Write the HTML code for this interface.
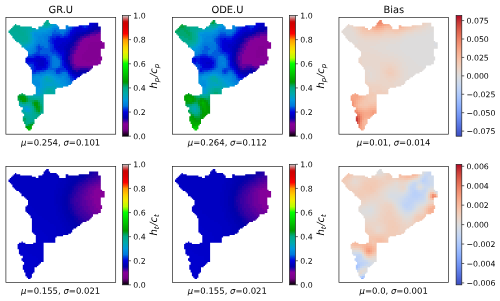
<!DOCTYPE html><html><head><meta charset="utf-8"><title>fig</title><style>html,body{margin:0;padding:0;background:#fff}svg{display:block}.m rect{height:2px}</style></head><body><svg width="500" height="301" viewBox="0 0 500 301" text-rendering="geometricPrecision"><defs><linearGradient id="gs" x1="0" y1="0" x2="0" y2="1"><stop offset="0" stop-color="#cccccc"/><stop offset="0.0125" stop-color="#cc9c9c"/><stop offset="0.025" stop-color="#cc6c6c"/><stop offset="0.0375" stop-color="#cc3c3c"/><stop offset="0.05" stop-color="#cc0c0c"/><stop offset="0.0625" stop-color="#cf0000"/><stop offset="0.075" stop-color="#d40000"/><stop offset="0.0875" stop-color="#d80000"/><stop offset="0.1" stop-color="#dc0000"/><stop offset="0.1125" stop-color="#e40000"/><stop offset="0.125" stop-color="#ec0000"/><stop offset="0.1375" stop-color="#f60000"/><stop offset="0.15" stop-color="#fe0000"/><stop offset="0.1625" stop-color="#ff2100"/><stop offset="0.175" stop-color="#ff4500"/><stop offset="0.1875" stop-color="#ff6900"/><stop offset="0.2" stop-color="#ff9900"/><stop offset="0.2125" stop-color="#ffa500"/><stop offset="0.225" stop-color="#ffb100"/><stop offset="0.2375" stop-color="#ffbd00"/><stop offset="0.25" stop-color="#ffc900"/><stop offset="0.2625" stop-color="#fbd500"/><stop offset="0.275" stop-color="#f7dd00"/><stop offset="0.2875" stop-color="#f3e500"/><stop offset="0.3" stop-color="#efed00"/><stop offset="0.3125" stop-color="#e4f100"/><stop offset="0.325" stop-color="#d4f700"/><stop offset="0.3375" stop-color="#c8fb00"/><stop offset="0.35" stop-color="#bcff00"/><stop offset="0.3625" stop-color="#93ff00"/><stop offset="0.375" stop-color="#67ff00"/><stop offset="0.3875" stop-color="#2cff00"/><stop offset="0.4" stop-color="#00ff00"/><stop offset="0.4125" stop-color="#00f700"/><stop offset="0.425" stop-color="#00ef00"/><stop offset="0.4375" stop-color="#00e700"/><stop offset="0.45" stop-color="#00dc00"/><stop offset="0.4625" stop-color="#00d400"/><stop offset="0.475" stop-color="#00cc00"/><stop offset="0.4875" stop-color="#00c400"/><stop offset="0.5" stop-color="#00bc00"/><stop offset="0.5125" stop-color="#00b200"/><stop offset="0.525" stop-color="#00aa00"/><stop offset="0.5375" stop-color="#00a200"/><stop offset="0.55" stop-color="#009a00"/><stop offset="0.5625" stop-color="#009d1d"/><stop offset="0.575" stop-color="#00a248"/><stop offset="0.5875" stop-color="#00a668"/><stop offset="0.6" stop-color="#00aa88"/><stop offset="0.6125" stop-color="#00aa90"/><stop offset="0.625" stop-color="#00aa98"/><stop offset="0.6375" stop-color="#00aaa3"/><stop offset="0.65" stop-color="#00aaab"/><stop offset="0.6625" stop-color="#00a6b7"/><stop offset="0.675" stop-color="#00a2c3"/><stop offset="0.6875" stop-color="#009ecf"/><stop offset="0.7" stop-color="#0098dd"/><stop offset="0.7125" stop-color="#0090dd"/><stop offset="0.725" stop-color="#0088dd"/><stop offset="0.7375" stop-color="#0080dd"/><stop offset="0.75" stop-color="#0078dd"/><stop offset="0.7625" stop-color="#0054dd"/><stop offset="0.775" stop-color="#0038dd"/><stop offset="0.7875" stop-color="#001cdd"/><stop offset="0.8" stop-color="#0000dd"/><stop offset="0.8125" stop-color="#0000d1"/><stop offset="0.825" stop-color="#0000c1"/><stop offset="0.8375" stop-color="#0000b5"/><stop offset="0.85" stop-color="#0300aa"/><stop offset="0.8625" stop-color="#2300a6"/><stop offset="0.875" stop-color="#4300a2"/><stop offset="0.8875" stop-color="#6d009c"/><stop offset="0.9" stop-color="#870098"/><stop offset="0.9125" stop-color="#830094"/><stop offset="0.925" stop-color="#7f0090"/><stop offset="0.9375" stop-color="#7b008c"/><stop offset="0.95" stop-color="#700080"/><stop offset="0.9625" stop-color="#540060"/><stop offset="0.975" stop-color="#380040"/><stop offset="0.9875" stop-color="#1c0020"/><stop offset="1" stop-color="#000000"/></linearGradient><linearGradient id="gc" x1="0" y1="0" x2="0" y2="1"><stop offset="0" stop-color="#b40426"/><stop offset="0.03125" stop-color="#be242e"/><stop offset="0.0625" stop-color="#ca3b37"/><stop offset="0.09375" stop-color="#d44e41"/><stop offset="0.125" stop-color="#dd5f4b"/><stop offset="0.15625" stop-color="#e46e56"/><stop offset="0.1875" stop-color="#eb7d62"/><stop offset="0.21875" stop-color="#f08b6e"/><stop offset="0.25" stop-color="#f4987a"/><stop offset="0.28125" stop-color="#f6a586"/><stop offset="0.3125" stop-color="#f7b093"/><stop offset="0.34375" stop-color="#f7ba9f"/><stop offset="0.375" stop-color="#f5c4ac"/><stop offset="0.40625" stop-color="#f1ccb8"/><stop offset="0.4375" stop-color="#ecd3c5"/><stop offset="0.46875" stop-color="#e5d8d1"/><stop offset="0.5" stop-color="#dddcdc"/><stop offset="0.53125" stop-color="#d5dbe5"/><stop offset="0.5625" stop-color="#ccd9ed"/><stop offset="0.59375" stop-color="#c3d5f4"/><stop offset="0.625" stop-color="#b9d0f9"/><stop offset="0.65625" stop-color="#aec9fc"/><stop offset="0.6875" stop-color="#a3c2fe"/><stop offset="0.71875" stop-color="#98b9ff"/><stop offset="0.75" stop-color="#8db0fe"/><stop offset="0.78125" stop-color="#82a6fb"/><stop offset="0.8125" stop-color="#779af7"/><stop offset="0.84375" stop-color="#6c8ff1"/><stop offset="0.875" stop-color="#6282ea"/><stop offset="0.90625" stop-color="#5875e1"/><stop offset="0.9375" stop-color="#4e68d8"/><stop offset="0.96875" stop-color="#445acc"/><stop offset="1" stop-color="#3b4cc0"/></linearGradient><clipPath id="mp"><path d="M40.3 2.6h2.6v1.3h-2.6zM39 3.9h3.9v1.3h-3.9zM37.7 5.2h6.5v1.3h-6.5zM83.2 5.2h9.1v1.3h-9.1zM9.1 6.5h1.3v1.3h-1.3zM37.7 6.5h13v1.3h-13zM83.2 6.5h9.1v1.3h-9.1zM7.8 7.8h6.5v1.3h-6.5zM36.4 7.8h15.6v1.3h-15.6zM59.8 7.8h2.6v1.3h-2.6zM72.8 7.8h19.5v1.3h-19.5zM6.5 9.1h19.5v1.3h-19.5zM32.5 9.1h20.8v1.3h-20.8zM59.8 9.1h35.1v1.3h-35.1zM5.2 10.4h24.7v1.3h-24.7zM32.5 10.4h20.8v1.3h-20.8zM59.8 10.4h35.1v1.3h-35.1zM3.9 11.7h91v1.3h-91zM2.6 13h92.3v1.3h-92.3zM2.6 14.3h92.3v1.3h-92.3zM3.9 15.6h91v1.3h-91zM5.2 16.9h89.7v1.3h-89.7zM6.5 18.2h88.4v1.3h-88.4zM6.5 19.5h88.4v1.3h-88.4zM7.8 20.8h87.1v1.3h-87.1zM9.1 22.1h85.8v1.3h-85.8zM10.4 23.4h85.8v1.3h-85.8zM13 24.7h85.8v1.3h-85.8zM14.3 26h84.5v1.3h-84.5zM15.6 27.3h83.2v1.3h-83.2zM15.6 28.6h83.2v1.3h-83.2zM18.2 29.9h80.6v1.3h-80.6zM19.5 31.2h75.4v1.3h-75.4zM20.8 32.5h74.1v1.3h-74.1zM22.1 33.8h72.8v1.3h-72.8zM22.1 35.1h72.8v1.3h-72.8zM22.1 36.4h72.8v1.3h-72.8zM22.1 37.7h72.8v1.3h-72.8zM20.8 39h75.4v1.3h-75.4zM19.5 40.3h76.7v1.3h-76.7zM19.5 41.6h76.7v1.3h-76.7zM19.5 42.9h75.4v1.3h-75.4zM19.5 44.2h75.4v1.3h-75.4zM20.8 45.5h74.1v1.3h-74.1zM22.1 46.8h70.2v1.3h-70.2zM23.4 48.1h63.7v1.3h-63.7zM24.7 49.4h62.4v1.3h-62.4zM24.7 50.7h61.1v1.3h-61.1zM26 52h58.5v1.3h-58.5zM26 53.3h57.2v1.3h-57.2zM26 54.6h54.6v1.3h-54.6zM26 55.9h50.7v1.3h-50.7zM26 57.2h49.4v1.3h-49.4zM26 58.5h48.1v1.3h-48.1zM26 59.8h45.5v1.3h-45.5zM26 61.1h44.2v1.3h-44.2zM26 62.4h41.6v1.3h-41.6zM26 63.7h40.3v1.3h-40.3zM26 65h40.3v1.3h-40.3zM27.3 66.3h37.7v1.3h-37.7zM28.6 67.6h33.8v1.3h-33.8zM29.9 68.9h27.3v1.3h-27.3zM29.9 70.2h20.8v1.3h-20.8zM29.9 71.5h19.5v1.3h-19.5zM29.9 72.8h19.5v1.3h-19.5zM29.9 74.1h19.5v1.3h-19.5zM15.6 75.4h1.3v1.3h-1.3zM29.9 75.4h19.5v1.3h-19.5zM13 76.7h6.5v1.3h-6.5zM27.3 76.7h10.4v1.3h-10.4zM11.7 78h26v1.3h-26zM11.7 79.3h26v1.3h-26zM11.7 80.6h26v1.3h-26zM11.7 81.9h26v1.3h-26zM13 83.2h24.7v1.3h-24.7zM13 84.5h24.7v1.3h-24.7zM13 85.8h24.7v1.3h-24.7zM13 87.1h24.7v1.3h-24.7zM14.3 88.4h23.4v1.3h-23.4zM16.9 89.7h20.8v1.3h-20.8zM16.9 91h20.8v1.3h-20.8zM15.6 92.3h22.1v1.3h-22.1zM15.6 93.6h22.1v1.3h-22.1zM16.9 94.9h20.8v1.3h-20.8zM18.2 96.2h16.9v1.3h-16.9zM18.2 97.5h15.6v1.3h-15.6zM16.9 98.8h15.6v1.3h-15.6zM16.9 100.1h14.3v1.3h-14.3zM16.9 101.4h11.7v1.3h-11.7zM16.9 102.7h11.7v1.3h-11.7zM18.2 104h10.4v1.3h-10.4zM18.2 105.3h10.4v1.3h-10.4zM19.5 106.6h7.8v1.3h-7.8zM19.5 107.9h6.5v1.3h-6.5zM19.5 109.2h6.5v1.3h-6.5zM20.8 110.5h5.2v1.3h-5.2zM22.1 111.8h2.6v1.3h-2.6z"/></clipPath><filter id="bl" x="-5%" y="-5%" width="110%" height="110%" color-interpolation-filters="sRGB"><feGaussianBlur stdDeviation="0.7"/></filter></defs><rect width="500" height="301" fill="#fff"/><g transform="translate(5.9 17.5) scale(1 1)" clip-path="url(#mp)"><g transform="scale(1 1) translate(-5.9 -17.5)" filter="url(#bl)" shape-rendering="crispEdges" class="m"><g transform="translate(0 16)"><rect x="46" width="2" fill="#00aa8b"/></g><g transform="translate(0 18)"><rect x="44" width="4" fill="#00aa8b"/><rect x="48" width="2" fill="#00aa93"/></g><g transform="translate(0 20)"><rect x="14" width="2" fill="#00a773"/><rect x="42" width="2" fill="#00aa93"/><rect x="44" width="4" fill="#00aa8b"/><rect x="48" width="2" fill="#00aa93"/><rect x="50" width="2" fill="#00aaa0"/><rect x="88" width="2" fill="#0013dd"/><rect x="90" width="4" fill="#0000d9"/><rect x="94" width="4" fill="#0000d1"/><rect x="98" width="2" fill="#0000c5"/></g><g transform="translate(0 22)"><rect x="12" width="2" fill="#00a773"/><rect x="14" width="4" fill="#00aa8b"/><rect x="42" width="2" fill="#00aa98"/><rect x="44" width="2" fill="#00aa93"/><rect x="46" width="2" fill="#00aa8b"/><rect x="48" width="2" fill="#00aa98"/><rect x="50" width="2" fill="#00aaa8"/><rect x="52" width="2" fill="#00a4bb"/><rect x="54" width="2" fill="#00a0c7"/><rect x="56" width="2" fill="#009ecf"/><rect x="64" width="4" fill="#008ddd"/><rect x="68" width="2" fill="#0085dd"/><rect x="78" width="8" fill="#002fdd"/><rect x="88" width="2" fill="#0013dd"/><rect x="90" width="2" fill="#0000d9"/><rect x="92" width="2" fill="#0000d1"/><rect x="94" width="4" fill="#0000c5"/><rect x="98" width="2" fill="#0000b9"/></g><g transform="translate(0 24)"><rect x="12" width="6" fill="#00aa8b"/><rect x="18" width="6" fill="#00aa93"/><rect x="24" width="6" fill="#00aa98"/><rect x="30" width="2" fill="#00aaa0"/><rect x="36" width="6" fill="#00aaa8"/><rect x="42" width="4" fill="#00aaa0"/><rect x="46" width="2" fill="#00aa98"/><rect x="48" width="2" fill="#00aaa8"/><rect x="50" width="2" fill="#00a4bb"/><rect x="52" width="2" fill="#009ecf"/><rect x="54" width="2" fill="#009adb"/><rect x="56" width="4" fill="#0092dd"/><rect x="64" width="2" fill="#008ddd"/><rect x="66" width="2" fill="#0085dd"/><rect x="68" width="2" fill="#007ddd"/><rect x="70" width="2" fill="#0078dd"/><rect x="72" width="2" fill="#0041dd"/><rect x="74" width="4" fill="#002fdd"/><rect x="78" width="4" fill="#0013dd"/><rect x="82" width="4" fill="#002fdd"/><rect x="86" width="2" fill="#0013dd"/><rect x="88" width="2" fill="#0000d9"/><rect x="90" width="2" fill="#0000d1"/><rect x="92" width="2" fill="#0000c5"/><rect x="94" width="6" fill="#0000b9"/><rect x="100" width="2" fill="#0000b1"/></g><g transform="translate(0 26)"><rect x="10" width="8" fill="#00aa8b"/><rect x="18" width="4" fill="#00aa93"/><rect x="22" width="4" fill="#00aa98"/><rect x="26" width="6" fill="#00aaa0"/><rect x="32" width="2" fill="#00aaa8"/><rect x="34" width="2" fill="#00a8af"/><rect x="38" width="2" fill="#00a8af"/><rect x="40" width="4" fill="#00a4bb"/><rect x="44" width="4" fill="#00a8af"/><rect x="48" width="2" fill="#00a4bb"/><rect x="50" width="2" fill="#009ecf"/><rect x="52" width="2" fill="#0092dd"/><rect x="54" width="4" fill="#008ddd"/><rect x="58" width="8" fill="#0085dd"/><rect x="66" width="2" fill="#007ddd"/><rect x="68" width="2" fill="#0078dd"/><rect x="70" width="2" fill="#005ddd"/><rect x="72" width="2" fill="#002fdd"/><rect x="74" width="2" fill="#0013dd"/><rect x="76" width="6" fill="#0000d9"/><rect x="82" width="2" fill="#0013dd"/><rect x="84" width="2" fill="#002fdd"/><rect x="86" width="2" fill="#0013dd"/><rect x="88" width="2" fill="#0000d1"/><rect x="90" width="2" fill="#0000c5"/><rect x="92" width="4" fill="#0000b9"/><rect x="96" width="4" fill="#0000b1"/><rect x="100" width="4" fill="#0d00a8"/></g><g transform="translate(0 28)"><rect x="8" width="12" fill="#00aa93"/><rect x="20" width="4" fill="#00aa98"/><rect x="24" width="4" fill="#00aaa0"/><rect x="28" width="4" fill="#00aaa8"/><rect x="32" width="2" fill="#00a8af"/><rect x="34" width="2" fill="#00a4bb"/><rect x="36" width="6" fill="#00a0c7"/><rect x="42" width="6" fill="#009ecf"/><rect x="48" width="2" fill="#009adb"/><rect x="50" width="2" fill="#0092dd"/><rect x="52" width="2" fill="#0085dd"/><rect x="54" width="12" fill="#007ddd"/><rect x="66" width="2" fill="#0078dd"/><rect x="68" width="2" fill="#005ddd"/><rect x="70" width="2" fill="#0041dd"/><rect x="72" width="2" fill="#0013dd"/><rect x="74" width="2" fill="#0000d9"/><rect x="76" width="6" fill="#0000d1"/><rect x="82" width="6" fill="#0000d9"/><rect x="88" width="2" fill="#0000c5"/><rect x="90" width="2" fill="#0000b9"/><rect x="92" width="4" fill="#0000b1"/><rect x="96" width="6" fill="#0d00a8"/><rect x="102" width="2" fill="#2d00a4"/></g><g transform="translate(0 30)"><rect x="6" width="16" fill="#00aa93"/><rect x="22" width="4" fill="#00aa98"/><rect x="26" width="2" fill="#00aaa0"/><rect x="28" width="2" fill="#00aaa8"/><rect x="30" width="2" fill="#00a8af"/><rect x="32" width="2" fill="#00a0c7"/><rect x="34" width="4" fill="#009ecf"/><rect x="38" width="8" fill="#009adb"/><rect x="46" width="2" fill="#0092dd"/><rect x="48" width="2" fill="#008ddd"/><rect x="50" width="2" fill="#0085dd"/><rect x="52" width="2" fill="#0078dd"/><rect x="54" width="2" fill="#005ddd"/><rect x="56" width="4" fill="#0078dd"/><rect x="60" width="4" fill="#007ddd"/><rect x="64" width="2" fill="#0078dd"/><rect x="66" width="2" fill="#005ddd"/><rect x="68" width="2" fill="#0041dd"/><rect x="70" width="2" fill="#0013dd"/><rect x="72" width="2" fill="#0000d9"/><rect x="74" width="2" fill="#0000d1"/><rect x="76" width="10" fill="#0000c5"/><rect x="86" width="2" fill="#0000b9"/><rect x="88" width="2" fill="#0000b1"/><rect x="90" width="4" fill="#0d00a8"/><rect x="94" width="6" fill="#2d00a4"/><rect x="100" width="4" fill="#4300a2"/></g><g transform="translate(0 32)"><rect x="6" width="4" fill="#00aa93"/><rect x="10" width="8" fill="#00aa98"/><rect x="18" width="6" fill="#00aa93"/><rect x="24" width="2" fill="#00aa98"/><rect x="26" width="2" fill="#00aaa0"/><rect x="28" width="2" fill="#00aaa8"/><rect x="30" width="2" fill="#00a0c7"/><rect x="32" width="2" fill="#009adb"/><rect x="34" width="8" fill="#0092dd"/><rect x="42" width="6" fill="#008ddd"/><rect x="48" width="2" fill="#0085dd"/><rect x="50" width="2" fill="#007ddd"/><rect x="52" width="8" fill="#005ddd"/><rect x="60" width="4" fill="#0078dd"/><rect x="64" width="2" fill="#005ddd"/><rect x="66" width="2" fill="#0041dd"/><rect x="68" width="2" fill="#002fdd"/><rect x="70" width="2" fill="#0000d9"/><rect x="72" width="2" fill="#0000d1"/><rect x="74" width="2" fill="#0000c5"/><rect x="76" width="6" fill="#0000b9"/><rect x="82" width="4" fill="#0000b1"/><rect x="86" width="4" fill="#0d00a8"/><rect x="90" width="2" fill="#2d00a4"/><rect x="92" width="6" fill="#4300a2"/><rect x="98" width="6" fill="#63009e"/></g><g transform="translate(0 34)"><rect x="8" width="12" fill="#00aa98"/><rect x="20" width="4" fill="#00aa93"/><rect x="24" width="2" fill="#00aa98"/><rect x="26" width="2" fill="#00aaa0"/><rect x="28" width="2" fill="#00aaa8"/><rect x="30" width="2" fill="#00a4bb"/><rect x="32" width="2" fill="#009adb"/><rect x="34" width="8" fill="#008ddd"/><rect x="42" width="4" fill="#0085dd"/><rect x="46" width="4" fill="#007ddd"/><rect x="50" width="2" fill="#0078dd"/><rect x="52" width="10" fill="#0041dd"/><rect x="62" width="2" fill="#005ddd"/><rect x="64" width="2" fill="#0041dd"/><rect x="66" width="2" fill="#002fdd"/><rect x="68" width="2" fill="#0013dd"/><rect x="70" width="2" fill="#0000d1"/><rect x="72" width="2" fill="#0000c5"/><rect x="74" width="2" fill="#0000b9"/><rect x="76" width="4" fill="#0000b1"/><rect x="80" width="4" fill="#0d00a8"/><rect x="84" width="4" fill="#2d00a4"/><rect x="88" width="2" fill="#4300a2"/><rect x="90" width="6" fill="#63009e"/><rect x="96" width="6" fill="#83009a"/><rect x="102" width="2" fill="#63009e"/></g><g transform="translate(0 36)"><rect x="10" width="18" fill="#00aa98"/><rect x="28" width="2" fill="#00aaa8"/><rect x="30" width="2" fill="#00a4bb"/><rect x="32" width="2" fill="#009adb"/><rect x="34" width="2" fill="#0092dd"/><rect x="36" width="2" fill="#008ddd"/><rect x="38" width="6" fill="#0085dd"/><rect x="44" width="4" fill="#007ddd"/><rect x="48" width="2" fill="#005ddd"/><rect x="50" width="2" fill="#0041dd"/><rect x="52" width="4" fill="#002fdd"/><rect x="56" width="4" fill="#0013dd"/><rect x="60" width="4" fill="#002fdd"/><rect x="64" width="4" fill="#0013dd"/><rect x="68" width="2" fill="#0000d9"/><rect x="70" width="2" fill="#0000c5"/><rect x="72" width="2" fill="#0000b9"/><rect x="74" width="2" fill="#0000b1"/><rect x="76" width="4" fill="#0d00a8"/><rect x="80" width="2" fill="#2d00a4"/><rect x="82" width="4" fill="#4300a2"/><rect x="86" width="4" fill="#63009e"/><rect x="90" width="14" fill="#83009a"/></g><g transform="translate(0 38)"><rect x="10" width="8" fill="#00aaa0"/><rect x="18" width="10" fill="#00aa98"/><rect x="28" width="2" fill="#00aaa8"/><rect x="30" width="2" fill="#00a4bb"/><rect x="32" width="2" fill="#009ecf"/><rect x="34" width="2" fill="#0092dd"/><rect x="36" width="2" fill="#008ddd"/><rect x="38" width="6" fill="#0085dd"/><rect x="44" width="2" fill="#007ddd"/><rect x="46" width="2" fill="#0078dd"/><rect x="48" width="2" fill="#005ddd"/><rect x="50" width="2" fill="#002fdd"/><rect x="52" width="4" fill="#0013dd"/><rect x="56" width="10" fill="#0000d9"/><rect x="66" width="4" fill="#0000d1"/><rect x="70" width="2" fill="#0000c5"/><rect x="72" width="2" fill="#0000b9"/><rect x="74" width="2" fill="#0000b1"/><rect x="76" width="2" fill="#0d00a8"/><rect x="78" width="2" fill="#2d00a4"/><rect x="80" width="2" fill="#4300a2"/><rect x="82" width="2" fill="#63009e"/><rect x="84" width="8" fill="#83009a"/><rect x="92" width="10" fill="#860097"/><rect x="102" width="2" fill="#83009a"/></g><g transform="translate(0 40)"><rect x="12" width="10" fill="#00aaa0"/><rect x="22" width="2" fill="#00aa98"/><rect x="24" width="4" fill="#00aaa0"/><rect x="28" width="2" fill="#00a8af"/><rect x="30" width="2" fill="#00a0c7"/><rect x="32" width="2" fill="#009adb"/><rect x="34" width="2" fill="#0092dd"/><rect x="36" width="4" fill="#0085dd"/><rect x="40" width="2" fill="#007ddd"/><rect x="42" width="2" fill="#0085dd"/><rect x="44" width="2" fill="#007ddd"/><rect x="46" width="2" fill="#0078dd"/><rect x="48" width="2" fill="#0041dd"/><rect x="50" width="2" fill="#002fdd"/><rect x="52" width="2" fill="#0013dd"/><rect x="54" width="2" fill="#0000d9"/><rect x="56" width="10" fill="#0000d1"/><rect x="66" width="4" fill="#0000c5"/><rect x="70" width="2" fill="#0000b9"/><rect x="72" width="2" fill="#0000b1"/><rect x="74" width="2" fill="#0d00a8"/><rect x="76" width="2" fill="#2d00a4"/><rect x="78" width="2" fill="#4300a2"/><rect x="80" width="2" fill="#63009e"/><rect x="82" width="4" fill="#83009a"/><rect x="86" width="20" fill="#860097"/><rect x="106" width="2" fill="#83009a"/></g><g transform="translate(0 42)"><rect x="14" width="12" fill="#00aaa8"/><rect x="26" width="2" fill="#00a8af"/><rect x="28" width="2" fill="#00a4bb"/><rect x="30" width="2" fill="#009ecf"/><rect x="32" width="2" fill="#009adb"/><rect x="34" width="2" fill="#008ddd"/><rect x="36" width="2" fill="#0085dd"/><rect x="38" width="8" fill="#007ddd"/><rect x="46" width="2" fill="#0078dd"/><rect x="48" width="2" fill="#005ddd"/><rect x="50" width="2" fill="#002fdd"/><rect x="52" width="2" fill="#0013dd"/><rect x="54" width="2" fill="#0000d9"/><rect x="56" width="6" fill="#0000d1"/><rect x="62" width="6" fill="#0000c5"/><rect x="68" width="2" fill="#0000b9"/><rect x="70" width="2" fill="#0000b1"/><rect x="72" width="2" fill="#0d00a8"/><rect x="74" width="2" fill="#2d00a4"/><rect x="76" width="2" fill="#4300a2"/><rect x="78" width="2" fill="#63009e"/><rect x="80" width="4" fill="#83009a"/><rect x="84" width="6" fill="#860097"/><rect x="90" width="10" fill="#820093"/><rect x="100" width="8" fill="#860097"/></g><g transform="translate(0 44)"><rect x="18" width="6" fill="#00a8af"/><rect x="24" width="2" fill="#00a4bb"/><rect x="26" width="2" fill="#00a0c7"/><rect x="28" width="2" fill="#009ecf"/><rect x="30" width="2" fill="#009adb"/><rect x="32" width="2" fill="#0092dd"/><rect x="34" width="2" fill="#0085dd"/><rect x="36" width="2" fill="#0078dd"/><rect x="38" width="2" fill="#005ddd"/><rect x="40" width="8" fill="#0078dd"/><rect x="48" width="2" fill="#005ddd"/><rect x="50" width="2" fill="#0041dd"/><rect x="52" width="2" fill="#002fdd"/><rect x="54" width="2" fill="#0000d9"/><rect x="56" width="4" fill="#0000d1"/><rect x="60" width="6" fill="#0000c5"/><rect x="66" width="2" fill="#0000b9"/><rect x="68" width="2" fill="#0000b1"/><rect x="70" width="4" fill="#0d00a8"/><rect x="74" width="2" fill="#2d00a4"/><rect x="76" width="2" fill="#4300a2"/><rect x="78" width="2" fill="#63009e"/><rect x="80" width="2" fill="#83009a"/><rect x="82" width="6" fill="#860097"/><rect x="88" width="14" fill="#820093"/><rect x="102" width="6" fill="#860097"/></g><g transform="translate(0 46)"><rect x="20" width="2" fill="#00a4bb"/><rect x="22" width="4" fill="#00a0c7"/><rect x="26" width="2" fill="#009ecf"/><rect x="28" width="2" fill="#009adb"/><rect x="30" width="2" fill="#0092dd"/><rect x="32" width="2" fill="#008ddd"/><rect x="34" width="2" fill="#007ddd"/><rect x="36" width="2" fill="#005ddd"/><rect x="38" width="2" fill="#0041dd"/><rect x="40" width="4" fill="#005ddd"/><rect x="44" width="4" fill="#0078dd"/><rect x="48" width="2" fill="#005ddd"/><rect x="50" width="2" fill="#0041dd"/><rect x="52" width="2" fill="#002fdd"/><rect x="54" width="2" fill="#0000d9"/><rect x="56" width="2" fill="#0000d1"/><rect x="58" width="6" fill="#0000c5"/><rect x="64" width="4" fill="#0000b9"/><rect x="68" width="2" fill="#0000b1"/><rect x="70" width="2" fill="#0d00a8"/><rect x="72" width="2" fill="#2d00a4"/><rect x="74" width="2" fill="#4300a2"/><rect x="76" width="2" fill="#63009e"/><rect x="78" width="4" fill="#83009a"/><rect x="82" width="6" fill="#860097"/><rect x="88" width="14" fill="#820093"/><rect x="102" width="6" fill="#860097"/></g><g transform="translate(0 48)"><rect x="20" width="4" fill="#009ecf"/><rect x="24" width="2" fill="#009adb"/><rect x="26" width="4" fill="#0092dd"/><rect x="30" width="2" fill="#008ddd"/><rect x="32" width="2" fill="#0085dd"/><rect x="34" width="2" fill="#0078dd"/><rect x="36" width="2" fill="#005ddd"/><rect x="38" width="4" fill="#0041dd"/><rect x="42" width="8" fill="#005ddd"/><rect x="50" width="2" fill="#0041dd"/><rect x="52" width="2" fill="#002fdd"/><rect x="54" width="2" fill="#0013dd"/><rect x="56" width="4" fill="#0000d1"/><rect x="60" width="4" fill="#0000c5"/><rect x="64" width="2" fill="#0000b9"/><rect x="66" width="4" fill="#0000b1"/><rect x="70" width="4" fill="#2d00a4"/><rect x="74" width="2" fill="#4300a2"/><rect x="76" width="2" fill="#63009e"/><rect x="78" width="2" fill="#83009a"/><rect x="80" width="8" fill="#860097"/><rect x="88" width="14" fill="#820093"/><rect x="102" width="6" fill="#860097"/></g><g transform="translate(0 50)"><rect x="24" width="2" fill="#0092dd"/><rect x="26" width="4" fill="#008ddd"/><rect x="30" width="2" fill="#0085dd"/><rect x="32" width="2" fill="#007ddd"/><rect x="34" width="2" fill="#0078dd"/><rect x="36" width="2" fill="#005ddd"/><rect x="38" width="2" fill="#0041dd"/><rect x="40" width="10" fill="#005ddd"/><rect x="50" width="2" fill="#0041dd"/><rect x="52" width="4" fill="#002fdd"/><rect x="56" width="2" fill="#0013dd"/><rect x="58" width="2" fill="#0000d9"/><rect x="60" width="4" fill="#0000d1"/><rect x="64" width="2" fill="#0000c5"/><rect x="66" width="2" fill="#0000b1"/><rect x="68" width="2" fill="#0d00a8"/><rect x="70" width="2" fill="#2d00a4"/><rect x="72" width="2" fill="#4300a2"/><rect x="74" width="2" fill="#63009e"/><rect x="76" width="4" fill="#83009a"/><rect x="80" width="6" fill="#860097"/><rect x="86" width="16" fill="#820093"/><rect x="102" width="4" fill="#860097"/></g><g transform="translate(0 52)"><rect x="26" width="6" fill="#0085dd"/><rect x="32" width="2" fill="#0078dd"/><rect x="34" width="2" fill="#005ddd"/><rect x="36" width="4" fill="#0041dd"/><rect x="40" width="12" fill="#005ddd"/><rect x="52" width="4" fill="#0041dd"/><rect x="56" width="2" fill="#002fdd"/><rect x="58" width="2" fill="#0013dd"/><rect x="60" width="4" fill="#0000d9"/><rect x="64" width="2" fill="#0000c5"/><rect x="66" width="2" fill="#0000b9"/><rect x="68" width="2" fill="#0d00a8"/><rect x="70" width="2" fill="#2d00a4"/><rect x="72" width="2" fill="#4300a2"/><rect x="74" width="2" fill="#63009e"/><rect x="76" width="2" fill="#83009a"/><rect x="78" width="6" fill="#860097"/><rect x="84" width="18" fill="#820093"/></g><g transform="translate(0 54)"><rect x="26" width="2" fill="#0078dd"/><rect x="28" width="4" fill="#005ddd"/><rect x="32" width="2" fill="#0041dd"/><rect x="34" width="6" fill="#002fdd"/><rect x="40" width="8" fill="#0041dd"/><rect x="48" width="8" fill="#005ddd"/><rect x="56" width="2" fill="#0041dd"/><rect x="58" width="2" fill="#002fdd"/><rect x="60" width="2" fill="#0013dd"/><rect x="62" width="2" fill="#0000d9"/><rect x="64" width="2" fill="#0000c5"/><rect x="66" width="2" fill="#0000b1"/><rect x="68" width="2" fill="#0d00a8"/><rect x="70" width="2" fill="#4300a2"/><rect x="72" width="2" fill="#63009e"/><rect x="74" width="4" fill="#83009a"/><rect x="78" width="4" fill="#860097"/><rect x="82" width="20" fill="#820093"/><rect x="102" width="2" fill="#860097"/></g><g transform="translate(0 56)"><rect x="24" width="2" fill="#0041dd"/><rect x="26" width="8" fill="#002fdd"/><rect x="34" width="2" fill="#0013dd"/><rect x="36" width="4" fill="#0000d9"/><rect x="40" width="4" fill="#0013dd"/><rect x="44" width="4" fill="#002fdd"/><rect x="48" width="2" fill="#0041dd"/><rect x="50" width="2" fill="#005ddd"/><rect x="52" width="4" fill="#0078dd"/><rect x="56" width="2" fill="#005ddd"/><rect x="58" width="2" fill="#0041dd"/><rect x="60" width="2" fill="#002fdd"/><rect x="62" width="2" fill="#0000d9"/><rect x="64" width="2" fill="#0000c5"/><rect x="66" width="2" fill="#0000b1"/><rect x="68" width="2" fill="#2d00a4"/><rect x="70" width="2" fill="#4300a2"/><rect x="72" width="2" fill="#63009e"/><rect x="74" width="2" fill="#83009a"/><rect x="76" width="6" fill="#860097"/><rect x="82" width="18" fill="#820093"/><rect x="100" width="4" fill="#860097"/></g><g transform="translate(0 58)"><rect x="22" width="2" fill="#0041dd"/><rect x="24" width="2" fill="#002fdd"/><rect x="26" width="8" fill="#0000d9"/><rect x="34" width="8" fill="#0000d1"/><rect x="42" width="4" fill="#0000d9"/><rect x="46" width="2" fill="#002fdd"/><rect x="48" width="2" fill="#0041dd"/><rect x="50" width="2" fill="#005ddd"/><rect x="52" width="2" fill="#0078dd"/><rect x="54" width="2" fill="#007ddd"/><rect x="56" width="2" fill="#0078dd"/><rect x="58" width="2" fill="#005ddd"/><rect x="60" width="2" fill="#002fdd"/><rect x="62" width="2" fill="#0000d9"/><rect x="64" width="2" fill="#0000c5"/><rect x="66" width="2" fill="#0000b1"/><rect x="68" width="2" fill="#2d00a4"/><rect x="70" width="2" fill="#4300a2"/><rect x="72" width="2" fill="#63009e"/><rect x="74" width="2" fill="#83009a"/><rect x="76" width="6" fill="#860097"/><rect x="82" width="16" fill="#820093"/><rect x="98" width="6" fill="#860097"/></g><g transform="translate(0 60)"><rect x="22" width="2" fill="#0041dd"/><rect x="24" width="2" fill="#0013dd"/><rect x="26" width="8" fill="#0000d9"/><rect x="34" width="2" fill="#0000d1"/><rect x="36" width="8" fill="#0000c5"/><rect x="44" width="2" fill="#0000d1"/><rect x="46" width="2" fill="#0013dd"/><rect x="48" width="2" fill="#002fdd"/><rect x="50" width="2" fill="#005ddd"/><rect x="52" width="2" fill="#0078dd"/><rect x="54" width="4" fill="#007ddd"/><rect x="58" width="2" fill="#0078dd"/><rect x="60" width="2" fill="#0041dd"/><rect x="62" width="2" fill="#0013dd"/><rect x="64" width="2" fill="#0000c5"/><rect x="66" width="2" fill="#0000b1"/><rect x="68" width="2" fill="#0d00a8"/><rect x="70" width="2" fill="#4300a2"/><rect x="72" width="2" fill="#63009e"/><rect x="74" width="2" fill="#83009a"/><rect x="76" width="10" fill="#860097"/><rect x="86" width="6" fill="#820093"/><rect x="92" width="10" fill="#860097"/><rect x="102" width="2" fill="#83009a"/></g><g transform="translate(0 62)"><rect x="24" width="2" fill="#002fdd"/><rect x="26" width="8" fill="#0013dd"/><rect x="34" width="2" fill="#0000d9"/><rect x="36" width="2" fill="#0000d1"/><rect x="38" width="6" fill="#0000c5"/><rect x="44" width="2" fill="#0000d1"/><rect x="46" width="2" fill="#0000d9"/><rect x="48" width="2" fill="#002fdd"/><rect x="50" width="2" fill="#005ddd"/><rect x="52" width="2" fill="#0078dd"/><rect x="54" width="4" fill="#007ddd"/><rect x="58" width="2" fill="#0078dd"/><rect x="60" width="2" fill="#0041dd"/><rect x="62" width="2" fill="#0013dd"/><rect x="64" width="2" fill="#0000d1"/><rect x="66" width="2" fill="#0000b9"/><rect x="68" width="2" fill="#0d00a8"/><rect x="70" width="2" fill="#4300a2"/><rect x="72" width="2" fill="#63009e"/><rect x="74" width="4" fill="#83009a"/><rect x="78" width="16" fill="#860097"/><rect x="94" width="8" fill="#83009a"/></g><g transform="translate(0 64)"><rect x="24" width="2" fill="#0041dd"/><rect x="26" width="4" fill="#002fdd"/><rect x="30" width="2" fill="#0041dd"/><rect x="32" width="2" fill="#002fdd"/><rect x="34" width="2" fill="#0000d9"/><rect x="36" width="2" fill="#0000d1"/><rect x="38" width="6" fill="#0000c5"/><rect x="44" width="2" fill="#0000d1"/><rect x="46" width="2" fill="#0013dd"/><rect x="48" width="2" fill="#002fdd"/><rect x="50" width="2" fill="#005ddd"/><rect x="52" width="2" fill="#0078dd"/><rect x="54" width="4" fill="#007ddd"/><rect x="58" width="2" fill="#0078dd"/><rect x="60" width="2" fill="#0041dd"/><rect x="62" width="2" fill="#0013dd"/><rect x="64" width="2" fill="#0000d1"/><rect x="66" width="2" fill="#0000c5"/><rect x="68" width="2" fill="#0000b1"/><rect x="70" width="2" fill="#2d00a4"/><rect x="72" width="2" fill="#4300a2"/><rect x="74" width="2" fill="#63009e"/><rect x="76" width="24" fill="#83009a"/><rect x="100" width="2" fill="#63009e"/></g><g transform="translate(0 66)"><rect x="26" width="6" fill="#0041dd"/><rect x="32" width="2" fill="#002fdd"/><rect x="34" width="2" fill="#0013dd"/><rect x="36" width="8" fill="#0000d1"/><rect x="44" width="2" fill="#0000d9"/><rect x="46" width="2" fill="#0013dd"/><rect x="48" width="2" fill="#0041dd"/><rect x="50" width="2" fill="#005ddd"/><rect x="52" width="6" fill="#0078dd"/><rect x="58" width="2" fill="#005ddd"/><rect x="60" width="2" fill="#0041dd"/><rect x="62" width="2" fill="#002fdd"/><rect x="64" width="2" fill="#0000d9"/><rect x="66" width="2" fill="#0000d1"/><rect x="68" width="2" fill="#0000b9"/><rect x="70" width="2" fill="#0d00a8"/><rect x="72" width="2" fill="#4300a2"/><rect x="74" width="26" fill="#63009e"/></g><g transform="translate(0 68)"><rect x="28" width="2" fill="#005ddd"/><rect x="30" width="2" fill="#0041dd"/><rect x="32" width="2" fill="#002fdd"/><rect x="34" width="2" fill="#0013dd"/><rect x="36" width="6" fill="#0000d9"/><rect x="42" width="4" fill="#0013dd"/><rect x="46" width="2" fill="#002fdd"/><rect x="48" width="8" fill="#005ddd"/><rect x="56" width="2" fill="#0041dd"/><rect x="58" width="8" fill="#002fdd"/><rect x="66" width="2" fill="#0000d9"/><rect x="68" width="2" fill="#0000c5"/><rect x="70" width="2" fill="#0000b1"/><rect x="72" width="2" fill="#2d00a4"/><rect x="74" width="6" fill="#4300a2"/><rect x="80" width="8" fill="#2d00a4"/><rect x="88" width="6" fill="#4300a2"/></g><g transform="translate(0 70)"><rect x="30" width="2" fill="#0041dd"/><rect x="32" width="2" fill="#002fdd"/><rect x="34" width="2" fill="#0013dd"/><rect x="36" width="4" fill="#002fdd"/><rect x="40" width="4" fill="#0041dd"/><rect x="44" width="2" fill="#005ddd"/><rect x="46" width="8" fill="#0078dd"/><rect x="54" width="2" fill="#005ddd"/><rect x="56" width="4" fill="#002fdd"/><rect x="60" width="6" fill="#0041dd"/><rect x="66" width="2" fill="#002fdd"/><rect x="68" width="2" fill="#0000d9"/><rect x="70" width="2" fill="#0000c5"/><rect x="72" width="2" fill="#0000b1"/><rect x="74" width="2" fill="#0d00a8"/><rect x="76" width="2" fill="#2d00a4"/><rect x="78" width="10" fill="#0d00a8"/><rect x="88" width="6" fill="#2d00a4"/></g><g transform="translate(0 72)"><rect x="30" width="2" fill="#005ddd"/><rect x="32" width="4" fill="#0041dd"/><rect x="36" width="4" fill="#005ddd"/><rect x="40" width="2" fill="#0078dd"/><rect x="42" width="4" fill="#007ddd"/><rect x="46" width="6" fill="#0085dd"/><rect x="52" width="2" fill="#007ddd"/><rect x="54" width="2" fill="#0078dd"/><rect x="56" width="4" fill="#0041dd"/><rect x="60" width="2" fill="#005ddd"/><rect x="62" width="4" fill="#0078dd"/><rect x="66" width="2" fill="#005ddd"/><rect x="68" width="2" fill="#0013dd"/><rect x="70" width="2" fill="#0000d1"/><rect x="72" width="2" fill="#0000b9"/><rect x="74" width="14" fill="#0000b1"/><rect x="88" width="4" fill="#0d00a8"/></g><g transform="translate(0 74)"><rect x="30" width="2" fill="#007ddd"/><rect x="32" width="2" fill="#0078dd"/><rect x="34" width="2" fill="#007ddd"/><rect x="36" width="6" fill="#0085dd"/><rect x="42" width="2" fill="#008ddd"/><rect x="44" width="2" fill="#0092dd"/><rect x="46" width="4" fill="#009adb"/><rect x="50" width="2" fill="#0092dd"/><rect x="52" width="2" fill="#008ddd"/><rect x="54" width="2" fill="#0085dd"/><rect x="56" width="2" fill="#007ddd"/><rect x="58" width="2" fill="#0078dd"/><rect x="60" width="6" fill="#007ddd"/><rect x="66" width="2" fill="#0078dd"/><rect x="68" width="2" fill="#0041dd"/><rect x="70" width="2" fill="#0013dd"/><rect x="72" width="2" fill="#0000d1"/><rect x="74" width="2" fill="#0000c5"/><rect x="76" width="10" fill="#0000b9"/><rect x="86" width="2" fill="#0000b1"/></g><g transform="translate(0 76)"><rect x="30" width="4" fill="#0085dd"/><rect x="34" width="2" fill="#008ddd"/><rect x="36" width="6" fill="#0092dd"/><rect x="42" width="2" fill="#009adb"/><rect x="44" width="2" fill="#00a0c7"/><rect x="46" width="2" fill="#00a4bb"/><rect x="48" width="2" fill="#00a0c7"/><rect x="50" width="2" fill="#009ecf"/><rect x="52" width="2" fill="#009adb"/><rect x="54" width="2" fill="#0092dd"/><rect x="56" width="2" fill="#008ddd"/><rect x="58" width="4" fill="#0085dd"/><rect x="62" width="2" fill="#008ddd"/><rect x="64" width="2" fill="#0085dd"/><rect x="66" width="2" fill="#0078dd"/><rect x="68" width="2" fill="#005ddd"/><rect x="70" width="2" fill="#002fdd"/><rect x="72" width="2" fill="#0013dd"/><rect x="74" width="4" fill="#0000d1"/><rect x="78" width="4" fill="#0000c5"/></g><g transform="translate(0 78)"><rect x="30" width="4" fill="#008ddd"/><rect x="34" width="6" fill="#0092dd"/><rect x="40" width="2" fill="#009adb"/><rect x="42" width="2" fill="#009ecf"/><rect x="44" width="2" fill="#00a4bb"/><rect x="46" width="2" fill="#00a8af"/><rect x="48" width="2" fill="#00a4bb"/><rect x="50" width="2" fill="#00a0c7"/><rect x="52" width="2" fill="#009ecf"/><rect x="54" width="2" fill="#009adb"/><rect x="56" width="4" fill="#0092dd"/><rect x="60" width="4" fill="#008ddd"/><rect x="64" width="2" fill="#0085dd"/><rect x="66" width="2" fill="#007ddd"/><rect x="68" width="2" fill="#0078dd"/><rect x="70" width="2" fill="#0041dd"/><rect x="72" width="2" fill="#002fdd"/><rect x="74" width="2" fill="#0013dd"/><rect x="76" width="2" fill="#0000d9"/><rect x="78" width="2" fill="#0000d1"/></g><g transform="translate(0 80)"><rect x="28" width="4" fill="#0092dd"/><rect x="32" width="6" fill="#008ddd"/><rect x="38" width="2" fill="#0092dd"/><rect x="40" width="2" fill="#009adb"/><rect x="42" width="2" fill="#009ecf"/><rect x="44" width="2" fill="#00a0c7"/><rect x="46" width="6" fill="#00a4bb"/><rect x="52" width="2" fill="#00a0c7"/><rect x="54" width="2" fill="#009ecf"/><rect x="56" width="4" fill="#009adb"/><rect x="60" width="2" fill="#0092dd"/><rect x="62" width="4" fill="#008ddd"/><rect x="66" width="2" fill="#0085dd"/><rect x="68" width="2" fill="#0078dd"/><rect x="70" width="2" fill="#005ddd"/><rect x="72" width="2" fill="#0041dd"/><rect x="74" width="2" fill="#002fdd"/><rect x="76" width="2" fill="#0013dd"/></g><g transform="translate(0 82)"><rect x="28" width="2" fill="#009adb"/><rect x="30" width="2" fill="#0092dd"/><rect x="32" width="8" fill="#008ddd"/><rect x="40" width="2" fill="#009adb"/><rect x="42" width="2" fill="#009ecf"/><rect x="44" width="10" fill="#00a0c7"/><rect x="54" width="4" fill="#009ecf"/><rect x="58" width="2" fill="#009adb"/><rect x="60" width="4" fill="#0092dd"/><rect x="64" width="2" fill="#008ddd"/><rect x="66" width="2" fill="#0085dd"/><rect x="68" width="2" fill="#007ddd"/><rect x="70" width="2" fill="#0078dd"/><rect x="72" width="2" fill="#005ddd"/></g><g transform="translate(0 84)"><rect x="30" width="2" fill="#009adb"/><rect x="32" width="2" fill="#0092dd"/><rect x="34" width="6" fill="#008ddd"/><rect x="40" width="2" fill="#009adb"/><rect x="42" width="2" fill="#009ecf"/><rect x="44" width="2" fill="#00a0c7"/><rect x="46" width="6" fill="#009ecf"/><rect x="52" width="4" fill="#00a0c7"/><rect x="56" width="4" fill="#009ecf"/><rect x="60" width="2" fill="#009adb"/><rect x="62" width="4" fill="#0092dd"/><rect x="66" width="2" fill="#008ddd"/><rect x="68" width="2" fill="#0085dd"/><rect x="70" width="2" fill="#007ddd"/><rect x="72" width="2" fill="#0078dd"/></g><g transform="translate(0 86)"><rect x="32" width="2" fill="#009adb"/><rect x="34" width="6" fill="#0092dd"/><rect x="40" width="2" fill="#009adb"/><rect x="42" width="2" fill="#009ecf"/><rect x="44" width="2" fill="#00a0c7"/><rect x="46" width="10" fill="#00a4bb"/><rect x="56" width="2" fill="#00a0c7"/><rect x="58" width="4" fill="#009ecf"/><rect x="62" width="2" fill="#009adb"/><rect x="64" width="2" fill="#0092dd"/><rect x="66" width="2" fill="#008ddd"/><rect x="68" width="4" fill="#0085dd"/></g><g transform="translate(0 88)"><rect x="20" width="2" fill="#00aa98"/><rect x="32" width="2" fill="#009ecf"/><rect x="34" width="2" fill="#009adb"/><rect x="36" width="2" fill="#0092dd"/><rect x="38" width="2" fill="#009adb"/><rect x="40" width="2" fill="#009ecf"/><rect x="42" width="2" fill="#00a0c7"/><rect x="44" width="2" fill="#00a4bb"/><rect x="46" width="2" fill="#00a8af"/><rect x="48" width="4" fill="#00aaa8"/><rect x="52" width="2" fill="#00a8af"/><rect x="54" width="4" fill="#00a4bb"/><rect x="58" width="2" fill="#00a0c7"/><rect x="60" width="2" fill="#009ecf"/><rect x="62" width="4" fill="#009adb"/></g><g transform="translate(0 90)"><rect x="20" width="2" fill="#00aa8b"/><rect x="22" width="2" fill="#00aa93"/><rect x="32" width="2" fill="#00a0c7"/><rect x="34" width="2" fill="#009ecf"/><rect x="36" width="4" fill="#009adb"/><rect x="40" width="2" fill="#00a0c7"/><rect x="42" width="2" fill="#00a4bb"/><rect x="44" width="2" fill="#00a8af"/><rect x="46" width="2" fill="#00aaa0"/><rect x="48" width="2" fill="#00aa98"/><rect x="50" width="2" fill="#00aaa0"/><rect x="52" width="2" fill="#00aaa8"/><rect x="54" width="2" fill="#00a8af"/><rect x="56" width="2" fill="#00a4bb"/></g><g transform="translate(0 92)"><rect x="18" width="4" fill="#00a55d"/><rect x="22" width="2" fill="#00a773"/><rect x="24" width="2" fill="#00aa8b"/><rect x="26" width="2" fill="#00aa98"/><rect x="30" width="2" fill="#00a8af"/><rect x="34" width="2" fill="#00a0c7"/><rect x="36" width="4" fill="#009ecf"/><rect x="40" width="2" fill="#00a0c7"/><rect x="42" width="2" fill="#00a4bb"/><rect x="44" width="2" fill="#00aaa8"/><rect x="46" width="8" fill="#00aaa0"/><rect x="54" width="2" fill="#00aaa8"/><rect x="56" width="2" fill="#00a8af"/></g><g transform="translate(0 94)"><rect x="16" width="2" fill="#00a55d"/><rect x="18" width="6" fill="#00a13d"/><rect x="24" width="2" fill="#00a55d"/><rect x="26" width="2" fill="#00aa8b"/><rect x="28" width="2" fill="#00aa98"/><rect x="30" width="2" fill="#00aaa8"/><rect x="32" width="2" fill="#00a8af"/><rect x="34" width="2" fill="#00a4bb"/><rect x="36" width="4" fill="#00a0c7"/><rect x="40" width="2" fill="#00a4bb"/><rect x="42" width="2" fill="#00a8af"/><rect x="44" width="2" fill="#00aaa8"/><rect x="46" width="8" fill="#00aaa0"/><rect x="54" width="2" fill="#00aaa8"/><rect x="56" width="2" fill="#00a8af"/></g><g transform="translate(0 96)"><rect x="16" width="2" fill="#00a13d"/><rect x="18" width="2" fill="#009d1d"/><rect x="20" width="4" fill="#009a08"/><rect x="24" width="2" fill="#009d1d"/><rect x="26" width="2" fill="#00a55d"/><rect x="28" width="2" fill="#00aa93"/><rect x="30" width="2" fill="#00aa98"/><rect x="32" width="2" fill="#00aaa0"/><rect x="34" width="12" fill="#00aaa8"/><rect x="50" width="2" fill="#00aaa0"/></g><g transform="translate(0 98)"><rect x="14" width="2" fill="#00a773"/><rect x="16" width="2" fill="#00a55d"/><rect x="18" width="2" fill="#00a13d"/><rect x="20" width="2" fill="#009a08"/><rect x="22" width="2" fill="#009f00"/><rect x="24" width="2" fill="#009a08"/><rect x="26" width="2" fill="#00a13d"/><rect x="28" width="2" fill="#00a773"/><rect x="30" width="4" fill="#00aa8b"/><rect x="34" width="4" fill="#00aa93"/><rect x="38" width="2" fill="#00aa98"/><rect x="40" width="6" fill="#00aaa0"/></g><g transform="translate(0 100)"><rect x="16" width="2" fill="#00a773"/><rect x="18" width="2" fill="#00a55d"/><rect x="20" width="2" fill="#00a13d"/><rect x="22" width="4" fill="#009a08"/><rect x="26" width="2" fill="#00a13d"/><rect x="28" width="4" fill="#00a773"/><rect x="32" width="2" fill="#00a55d"/><rect x="34" width="4" fill="#00a13d"/><rect x="38" width="2" fill="#00a773"/><rect x="40" width="2" fill="#00aa93"/><rect x="42" width="2" fill="#00aa98"/><rect x="44" width="2" fill="#00aaa0"/></g><g transform="translate(0 102)"><rect x="16" width="6" fill="#00aa93"/><rect x="22" width="4" fill="#00a773"/><rect x="26" width="2" fill="#00aa8b"/><rect x="28" width="2" fill="#00aa93"/><rect x="30" width="2" fill="#00aa8b"/><rect x="32" width="2" fill="#00a13d"/><rect x="34" width="4" fill="#009a08"/><rect x="38" width="2" fill="#00a13d"/><rect x="40" width="2" fill="#00aa8b"/><rect x="42" width="4" fill="#00aa98"/></g><g transform="translate(0 104)"><rect x="16" width="2" fill="#00aaa0"/><rect x="18" width="2" fill="#00aaa8"/><rect x="20" width="2" fill="#00a8af"/><rect x="22" width="2" fill="#00aaa8"/><rect x="24" width="2" fill="#00aaa0"/><rect x="26" width="4" fill="#00aaa8"/><rect x="30" width="2" fill="#00aa93"/><rect x="32" width="2" fill="#00a55d"/><rect x="34" width="4" fill="#009a08"/><rect x="38" width="2" fill="#00a13d"/><rect x="40" width="2" fill="#00a773"/><rect x="42" width="2" fill="#00aa93"/><rect x="44" width="2" fill="#00aa98"/></g><g transform="translate(0 106)"><rect x="16" width="2" fill="#00aaa0"/><rect x="18" width="2" fill="#00a8af"/><rect x="20" width="4" fill="#00a4bb"/><rect x="24" width="4" fill="#00a0c7"/><rect x="28" width="2" fill="#00a4bb"/><rect x="30" width="2" fill="#00aaa0"/><rect x="32" width="2" fill="#00aa8b"/><rect x="34" width="2" fill="#00a13d"/><rect x="36" width="2" fill="#009a08"/><rect x="38" width="2" fill="#009d1d"/><rect x="40" width="2" fill="#00a55d"/><rect x="42" width="2" fill="#00aa8b"/><rect x="44" width="2" fill="#00aa98"/></g><g transform="translate(0 108)"><rect x="18" width="2" fill="#00a8af"/><rect x="20" width="4" fill="#00a4bb"/><rect x="24" width="2" fill="#00a0c7"/><rect x="26" width="2" fill="#009adb"/><rect x="28" width="2" fill="#009ecf"/><rect x="30" width="2" fill="#00a8af"/><rect x="32" width="2" fill="#00aa93"/><rect x="34" width="2" fill="#00a55d"/><rect x="36" width="4" fill="#009d1d"/><rect x="40" width="2" fill="#00a55d"/><rect x="42" width="2" fill="#00aa8b"/><rect x="44" width="2" fill="#00aa98"/></g><g transform="translate(0 110)"><rect x="20" width="2" fill="#00aaa8"/><rect x="22" width="2" fill="#00a8af"/><rect x="24" width="2" fill="#00a4bb"/><rect x="26" width="4" fill="#00a0c7"/><rect x="30" width="2" fill="#00a8af"/><rect x="32" width="2" fill="#00aa98"/><rect x="34" width="2" fill="#00a773"/><rect x="36" width="2" fill="#00a13d"/><rect x="38" width="2" fill="#009d1d"/><rect x="40" width="2" fill="#00a773"/><rect x="42" width="2" fill="#00aa93"/><rect x="44" width="2" fill="#00aa98"/></g><g transform="translate(0 112)"><rect x="20" width="6" fill="#00aaa0"/><rect x="26" width="4" fill="#00a8af"/><rect x="30" width="2" fill="#00aaa8"/><rect x="32" width="2" fill="#00aa98"/><rect x="34" width="2" fill="#00aa8b"/><rect x="36" width="2" fill="#00a773"/><rect x="38" width="2" fill="#00a55d"/><rect x="40" width="2" fill="#00aa8b"/><rect x="42" width="4" fill="#00aa93"/></g><g transform="translate(0 114)"><rect x="20" width="4" fill="#00aa93"/><rect x="24" width="2" fill="#00aa98"/><rect x="26" width="6" fill="#00aaa0"/><rect x="32" width="2" fill="#00aa98"/><rect x="34" width="2" fill="#00aa93"/><rect x="36" width="6" fill="#00aa8b"/><rect x="42" width="4" fill="#00aa93"/></g><g transform="translate(0 116)"><rect x="20" width="6" fill="#00aa8b"/><rect x="26" width="2" fill="#00aa93"/><rect x="28" width="2" fill="#00aa98"/><rect x="30" width="2" fill="#00aaa0"/><rect x="32" width="2" fill="#00aa98"/><rect x="34" width="2" fill="#00aa93"/><rect x="36" width="6" fill="#00aa8b"/></g><g transform="translate(0 118)"><rect x="20" width="4" fill="#00a773"/><rect x="24" width="2" fill="#00a55d"/><rect x="26" width="2" fill="#00aa8b"/><rect x="28" width="2" fill="#00aa93"/><rect x="30" width="2" fill="#00aa98"/><rect x="32" width="4" fill="#00aa93"/><rect x="36" width="4" fill="#00aa8b"/></g><g transform="translate(0 120)"><rect x="20" width="4" fill="#00a55d"/><rect x="24" width="2" fill="#00a773"/><rect x="26" width="2" fill="#00aa8b"/><rect x="28" width="4" fill="#00aa93"/><rect x="32" width="2" fill="#00aa8b"/><rect x="34" width="4" fill="#00a773"/></g><g transform="translate(0 122)"><rect x="22" width="2" fill="#00a55d"/><rect x="24" width="2" fill="#00a773"/><rect x="26" width="4" fill="#00aa8b"/><rect x="30" width="2" fill="#00a773"/><rect x="32" width="4" fill="#00a55d"/><rect x="36" width="2" fill="#00a13d"/></g><g transform="translate(0 124)"><rect x="22" width="2" fill="#00a13d"/><rect x="24" width="2" fill="#00a55d"/><rect x="26" width="2" fill="#00a773"/><rect x="28" width="2" fill="#00a13d"/><rect x="30" width="2" fill="#009d1d"/><rect x="32" width="4" fill="#009a08"/></g><g transform="translate(0 126)"><rect x="22" width="4" fill="#009d1d"/><rect x="26" width="2" fill="#009a08"/><rect x="28" width="2" fill="#00a700"/><rect x="30" width="4" fill="#00ac00"/></g><g transform="translate(0 128)"><rect x="24" width="2" fill="#00a700"/><rect x="26" width="2" fill="#00ac00"/><rect x="28" width="6" fill="#00bc00"/></g><g transform="translate(0 130)"><rect x="26" width="2" fill="#00bc00"/><rect x="28" width="6" fill="#00c200"/></g><g transform="translate(0 132)"><rect x="26" width="4" fill="#00c200"/></g></g></g><rect x="5.9" y="17.5" width="109.8" height="116.7" fill="none" stroke="#1c1c1c" stroke-width="0.67"/><rect x="122.5" y="15.5" width="6.1" height="120.7" fill="url(#gs)" stroke="#1c1c1c" stroke-width="0.67"/><path d="M128.6 136.2h2.4" stroke="#1c1c1c" stroke-width="0.67"/><path d="M128.6 112.06h2.4" stroke="#1c1c1c" stroke-width="0.67"/><path d="M128.6 87.92h2.4" stroke="#1c1c1c" stroke-width="0.67"/><path d="M128.6 63.78h2.4" stroke="#1c1c1c" stroke-width="0.67"/><path d="M128.6 39.64h2.4" stroke="#1c1c1c" stroke-width="0.67"/><path d="M128.6 15.5h2.4" stroke="#1c1c1c" stroke-width="0.67"/><g transform="translate(172.4 17.5) scale(1 1)" clip-path="url(#mp)"><g transform="scale(1 1) translate(-172.4 -17.5)" filter="url(#bl)" shape-rendering="crispEdges" class="m"><g transform="translate(0 16)"><rect x="212" width="2" fill="#00a13d"/><rect x="214" width="2" fill="#00a55d"/></g><g transform="translate(0 18)"><rect x="210" width="4" fill="#00a13d"/><rect x="214" width="2" fill="#00a55d"/></g><g transform="translate(0 20)"><rect x="180" width="2" fill="#009d1d"/><rect x="208" width="2" fill="#00a55d"/><rect x="210" width="4" fill="#00a13d"/><rect x="214" width="2" fill="#00a55d"/><rect x="216" width="2" fill="#00aa8b"/><rect x="254" width="2" fill="#002fdd"/><rect x="256" width="2" fill="#0013dd"/><rect x="258" width="4" fill="#0000d9"/><rect x="262" width="4" fill="#0000d1"/></g><g transform="translate(0 22)"><rect x="180" width="4" fill="#009d1d"/><rect x="208" width="2" fill="#00a773"/><rect x="210" width="2" fill="#00a55d"/><rect x="212" width="2" fill="#00a13d"/><rect x="214" width="2" fill="#00a773"/><rect x="216" width="2" fill="#00aa93"/><rect x="218" width="2" fill="#00aaa8"/><rect x="220" width="2" fill="#00a4bb"/><rect x="222" width="2" fill="#00a0c7"/><rect x="224" width="2" fill="#009ecf"/><rect x="230" width="2" fill="#0092dd"/><rect x="232" width="2" fill="#008ddd"/><rect x="234" width="2" fill="#0085dd"/><rect x="244" width="8" fill="#0041dd"/><rect x="252" width="2" fill="#002fdd"/><rect x="254" width="2" fill="#0013dd"/><rect x="256" width="4" fill="#0000d9"/><rect x="260" width="2" fill="#0000d1"/><rect x="262" width="4" fill="#0000c5"/></g><g transform="translate(0 24)"><rect x="178" width="4" fill="#009d1d"/><rect x="182" width="4" fill="#00a13d"/><rect x="186" width="2" fill="#00a55d"/><rect x="188" width="4" fill="#00a773"/><rect x="192" width="6" fill="#00aa8b"/><rect x="202" width="6" fill="#00aa98"/><rect x="208" width="4" fill="#00aa93"/><rect x="212" width="2" fill="#00aa8b"/><rect x="214" width="2" fill="#00aa93"/><rect x="216" width="2" fill="#00aaa8"/><rect x="218" width="2" fill="#00a4bb"/><rect x="220" width="2" fill="#009ecf"/><rect x="222" width="4" fill="#009adb"/><rect x="226" width="2" fill="#0092dd"/><rect x="230" width="4" fill="#008ddd"/><rect x="234" width="2" fill="#0085dd"/><rect x="236" width="2" fill="#0078dd"/><rect x="238" width="2" fill="#005ddd"/><rect x="240" width="2" fill="#0041dd"/><rect x="242" width="12" fill="#002fdd"/><rect x="254" width="2" fill="#0013dd"/><rect x="256" width="2" fill="#0000d9"/><rect x="258" width="2" fill="#0000d1"/><rect x="260" width="4" fill="#0000c5"/><rect x="264" width="4" fill="#0000b9"/></g><g transform="translate(0 26)"><rect x="176" width="8" fill="#00a13d"/><rect x="184" width="2" fill="#00a55d"/><rect x="186" width="4" fill="#00a773"/><rect x="190" width="4" fill="#00aa8b"/><rect x="194" width="4" fill="#00aa93"/><rect x="198" width="2" fill="#00aa98"/><rect x="200" width="2" fill="#00aaa0"/><rect x="206" width="6" fill="#00aaa8"/><rect x="212" width="2" fill="#00aaa0"/><rect x="214" width="2" fill="#00aaa8"/><rect x="216" width="2" fill="#00a4bb"/><rect x="218" width="2" fill="#009adb"/><rect x="220" width="2" fill="#0092dd"/><rect x="222" width="8" fill="#008ddd"/><rect x="230" width="4" fill="#0085dd"/><rect x="234" width="2" fill="#007ddd"/><rect x="236" width="2" fill="#005ddd"/><rect x="238" width="2" fill="#0041dd"/><rect x="240" width="2" fill="#002fdd"/><rect x="242" width="2" fill="#0013dd"/><rect x="244" width="4" fill="#0000d9"/><rect x="248" width="2" fill="#0013dd"/><rect x="250" width="4" fill="#002fdd"/><rect x="254" width="2" fill="#0000d9"/><rect x="256" width="2" fill="#0000d1"/><rect x="258" width="2" fill="#0000c5"/><rect x="260" width="4" fill="#0000b9"/><rect x="264" width="6" fill="#0000b1"/></g><g transform="translate(0 28)"><rect x="174" width="12" fill="#00a55d"/><rect x="186" width="4" fill="#00a773"/><rect x="190" width="2" fill="#00aa8b"/><rect x="192" width="4" fill="#00aa93"/><rect x="196" width="2" fill="#00aa98"/><rect x="198" width="2" fill="#00aaa0"/><rect x="200" width="2" fill="#00aaa8"/><rect x="202" width="2" fill="#00a8af"/><rect x="204" width="10" fill="#00a4bb"/><rect x="214" width="2" fill="#00a0c7"/><rect x="216" width="2" fill="#009adb"/><rect x="218" width="2" fill="#008ddd"/><rect x="220" width="2" fill="#0085dd"/><rect x="222" width="2" fill="#007ddd"/><rect x="224" width="8" fill="#0085dd"/><rect x="232" width="2" fill="#007ddd"/><rect x="234" width="2" fill="#0078dd"/><rect x="236" width="2" fill="#0041dd"/><rect x="238" width="2" fill="#002fdd"/><rect x="240" width="2" fill="#0013dd"/><rect x="242" width="2" fill="#0000d9"/><rect x="244" width="4" fill="#0000d1"/><rect x="248" width="2" fill="#0000d9"/><rect x="250" width="2" fill="#0013dd"/><rect x="252" width="2" fill="#0000d9"/><rect x="254" width="2" fill="#0000d1"/><rect x="256" width="2" fill="#0000c5"/><rect x="258" width="2" fill="#0000b9"/><rect x="260" width="6" fill="#0000b1"/><rect x="266" width="4" fill="#0d00a8"/></g><g transform="translate(0 30)"><rect x="172" width="8" fill="#00a55d"/><rect x="180" width="4" fill="#00a773"/><rect x="184" width="4" fill="#00a55d"/><rect x="188" width="2" fill="#00a773"/><rect x="190" width="2" fill="#00aa8b"/><rect x="192" width="2" fill="#00aa93"/><rect x="194" width="2" fill="#00aa98"/><rect x="196" width="2" fill="#00aaa0"/><rect x="198" width="2" fill="#00a8af"/><rect x="200" width="2" fill="#00a4bb"/><rect x="202" width="2" fill="#00a0c7"/><rect x="204" width="8" fill="#009ecf"/><rect x="212" width="2" fill="#009adb"/><rect x="214" width="2" fill="#0092dd"/><rect x="216" width="2" fill="#008ddd"/><rect x="218" width="2" fill="#007ddd"/><rect x="220" width="4" fill="#0078dd"/><rect x="224" width="8" fill="#007ddd"/><rect x="232" width="2" fill="#0078dd"/><rect x="234" width="2" fill="#005ddd"/><rect x="236" width="2" fill="#002fdd"/><rect x="238" width="2" fill="#0013dd"/><rect x="240" width="2" fill="#0000d9"/><rect x="242" width="4" fill="#0000d1"/><rect x="246" width="4" fill="#0000c5"/><rect x="250" width="2" fill="#0000d1"/><rect x="252" width="2" fill="#0000c5"/><rect x="254" width="2" fill="#0000b9"/><rect x="256" width="2" fill="#0000b1"/><rect x="258" width="6" fill="#0d00a8"/><rect x="264" width="6" fill="#2d00a4"/></g><g transform="translate(0 32)"><rect x="172" width="2" fill="#00a55d"/><rect x="174" width="12" fill="#00a773"/><rect x="186" width="4" fill="#00a55d"/><rect x="190" width="2" fill="#00a773"/><rect x="192" width="2" fill="#00aa8b"/><rect x="194" width="2" fill="#00aa98"/><rect x="196" width="2" fill="#00aaa8"/><rect x="198" width="2" fill="#00a0c7"/><rect x="200" width="4" fill="#009adb"/><rect x="204" width="10" fill="#0092dd"/><rect x="214" width="2" fill="#008ddd"/><rect x="216" width="2" fill="#0085dd"/><rect x="218" width="2" fill="#0078dd"/><rect x="220" width="6" fill="#005ddd"/><rect x="226" width="6" fill="#0078dd"/><rect x="232" width="2" fill="#005ddd"/><rect x="234" width="2" fill="#0041dd"/><rect x="236" width="2" fill="#0013dd"/><rect x="238" width="2" fill="#0000d9"/><rect x="240" width="2" fill="#0000d1"/><rect x="242" width="2" fill="#0000c5"/><rect x="244" width="8" fill="#0000b9"/><rect x="252" width="2" fill="#0000b1"/><rect x="254" width="2" fill="#0d00a8"/><rect x="256" width="4" fill="#2d00a4"/><rect x="260" width="10" fill="#4300a2"/></g><g transform="translate(0 34)"><rect x="174" width="14" fill="#00a773"/><rect x="188" width="2" fill="#00a55d"/><rect x="190" width="2" fill="#00a773"/><rect x="192" width="2" fill="#00aa8b"/><rect x="194" width="2" fill="#00aa93"/><rect x="196" width="2" fill="#00aaa8"/><rect x="198" width="2" fill="#009ecf"/><rect x="200" width="2" fill="#0092dd"/><rect x="202" width="10" fill="#008ddd"/><rect x="212" width="2" fill="#0085dd"/><rect x="214" width="2" fill="#007ddd"/><rect x="216" width="2" fill="#0078dd"/><rect x="218" width="2" fill="#005ddd"/><rect x="220" width="6" fill="#0041dd"/><rect x="226" width="6" fill="#005ddd"/><rect x="232" width="2" fill="#0041dd"/><rect x="234" width="2" fill="#0013dd"/><rect x="236" width="2" fill="#0000d9"/><rect x="238" width="2" fill="#0000d1"/><rect x="240" width="2" fill="#0000c5"/><rect x="242" width="2" fill="#0000b9"/><rect x="244" width="4" fill="#0000b1"/><rect x="248" width="4" fill="#0d00a8"/><rect x="252" width="4" fill="#2d00a4"/><rect x="256" width="4" fill="#4300a2"/><rect x="260" width="10" fill="#63009e"/></g><g transform="translate(0 36)"><rect x="176" width="8" fill="#00aa8b"/><rect x="184" width="8" fill="#00a773"/><rect x="192" width="2" fill="#00aa8b"/><rect x="194" width="2" fill="#00aa93"/><rect x="196" width="2" fill="#00aaa0"/><rect x="198" width="2" fill="#00a0c7"/><rect x="200" width="2" fill="#009adb"/><rect x="202" width="4" fill="#008ddd"/><rect x="206" width="6" fill="#0085dd"/><rect x="212" width="2" fill="#007ddd"/><rect x="214" width="2" fill="#0078dd"/><rect x="216" width="2" fill="#005ddd"/><rect x="218" width="2" fill="#0041dd"/><rect x="220" width="12" fill="#002fdd"/><rect x="232" width="2" fill="#0013dd"/><rect x="234" width="2" fill="#0000d9"/><rect x="236" width="2" fill="#0000d1"/><rect x="238" width="2" fill="#0000c5"/><rect x="240" width="2" fill="#0000b9"/><rect x="242" width="2" fill="#0000b1"/><rect x="244" width="4" fill="#0d00a8"/><rect x="248" width="2" fill="#2d00a4"/><rect x="250" width="4" fill="#4300a2"/><rect x="254" width="6" fill="#63009e"/><rect x="260" width="10" fill="#83009a"/></g><g transform="translate(0 38)"><rect x="178" width="10" fill="#00aa8b"/><rect x="188" width="4" fill="#00a773"/><rect x="192" width="2" fill="#00aa8b"/><rect x="194" width="2" fill="#00aa93"/><rect x="196" width="2" fill="#00aaa8"/><rect x="198" width="2" fill="#00a0c7"/><rect x="200" width="2" fill="#009adb"/><rect x="202" width="2" fill="#008ddd"/><rect x="204" width="8" fill="#0085dd"/><rect x="212" width="2" fill="#007ddd"/><rect x="214" width="2" fill="#005ddd"/><rect x="216" width="2" fill="#0041dd"/><rect x="218" width="2" fill="#002fdd"/><rect x="220" width="4" fill="#0013dd"/><rect x="224" width="2" fill="#0000d9"/><rect x="226" width="6" fill="#0013dd"/><rect x="232" width="2" fill="#0000d9"/><rect x="234" width="2" fill="#0000d1"/><rect x="236" width="2" fill="#0000c5"/><rect x="238" width="2" fill="#0000b9"/><rect x="240" width="2" fill="#0000b1"/><rect x="242" width="2" fill="#0d00a8"/><rect x="244" width="2" fill="#2d00a4"/><rect x="246" width="4" fill="#4300a2"/><rect x="250" width="4" fill="#63009e"/><rect x="254" width="16" fill="#83009a"/></g><g transform="translate(0 40)"><rect x="180" width="4" fill="#00aa93"/><rect x="184" width="8" fill="#00aa8b"/><rect x="192" width="2" fill="#00aa93"/><rect x="194" width="2" fill="#00aa98"/><rect x="196" width="2" fill="#00a8af"/><rect x="198" width="2" fill="#00a0c7"/><rect x="200" width="2" fill="#009adb"/><rect x="202" width="2" fill="#008ddd"/><rect x="204" width="8" fill="#0085dd"/><rect x="212" width="2" fill="#007ddd"/><rect x="214" width="2" fill="#005ddd"/><rect x="216" width="2" fill="#0041dd"/><rect x="218" width="2" fill="#002fdd"/><rect x="220" width="2" fill="#0013dd"/><rect x="222" width="10" fill="#0000d9"/><rect x="232" width="2" fill="#0000d1"/><rect x="234" width="2" fill="#0000c5"/><rect x="236" width="4" fill="#0000b9"/><rect x="240" width="2" fill="#0000b1"/><rect x="242" width="2" fill="#0d00a8"/><rect x="244" width="2" fill="#2d00a4"/><rect x="246" width="2" fill="#4300a2"/><rect x="248" width="2" fill="#63009e"/><rect x="250" width="6" fill="#83009a"/><rect x="256" width="12" fill="#860097"/><rect x="268" width="6" fill="#83009a"/></g><g transform="translate(0 42)"><rect x="182" width="8" fill="#00aa93"/><rect x="190" width="2" fill="#00aa98"/><rect x="192" width="2" fill="#00aaa0"/><rect x="194" width="2" fill="#00aaa8"/><rect x="196" width="2" fill="#00a4bb"/><rect x="198" width="2" fill="#009ecf"/><rect x="200" width="2" fill="#0092dd"/><rect x="202" width="2" fill="#0085dd"/><rect x="204" width="10" fill="#007ddd"/><rect x="214" width="2" fill="#0078dd"/><rect x="216" width="2" fill="#0041dd"/><rect x="218" width="2" fill="#002fdd"/><rect x="220" width="2" fill="#0013dd"/><rect x="222" width="2" fill="#0000d9"/><rect x="224" width="8" fill="#0000d1"/><rect x="232" width="4" fill="#0000c5"/><rect x="236" width="2" fill="#0000b9"/><rect x="238" width="2" fill="#0000b1"/><rect x="240" width="2" fill="#0d00a8"/><rect x="242" width="2" fill="#2d00a4"/><rect x="244" width="2" fill="#4300a2"/><rect x="246" width="2" fill="#63009e"/><rect x="248" width="4" fill="#83009a"/><rect x="252" width="18" fill="#860097"/><rect x="270" width="4" fill="#83009a"/></g><g transform="translate(0 44)"><rect x="184" width="6" fill="#00aaa0"/><rect x="190" width="2" fill="#00aaa8"/><rect x="192" width="2" fill="#00a8af"/><rect x="194" width="2" fill="#00a4bb"/><rect x="196" width="2" fill="#009ecf"/><rect x="198" width="2" fill="#009adb"/><rect x="200" width="2" fill="#008ddd"/><rect x="202" width="2" fill="#007ddd"/><rect x="204" width="6" fill="#0078dd"/><rect x="210" width="2" fill="#007ddd"/><rect x="212" width="4" fill="#0078dd"/><rect x="216" width="2" fill="#005ddd"/><rect x="218" width="2" fill="#002fdd"/><rect x="220" width="2" fill="#0013dd"/><rect x="222" width="2" fill="#0000d9"/><rect x="224" width="4" fill="#0000d1"/><rect x="228" width="6" fill="#0000c5"/><rect x="234" width="2" fill="#0000b9"/><rect x="236" width="2" fill="#0000b1"/><rect x="238" width="2" fill="#0d00a8"/><rect x="240" width="2" fill="#2d00a4"/><rect x="242" width="2" fill="#4300a2"/><rect x="244" width="4" fill="#63009e"/><rect x="248" width="4" fill="#83009a"/><rect x="252" width="20" fill="#860097"/><rect x="272" width="2" fill="#83009a"/></g><g transform="translate(0 46)"><rect x="186" width="2" fill="#00aaa8"/><rect x="188" width="2" fill="#00a8af"/><rect x="190" width="2" fill="#00a4bb"/><rect x="192" width="2" fill="#00a0c7"/><rect x="194" width="2" fill="#009ecf"/><rect x="196" width="2" fill="#009adb"/><rect x="198" width="2" fill="#008ddd"/><rect x="200" width="2" fill="#0085dd"/><rect x="202" width="2" fill="#0078dd"/><rect x="204" width="4" fill="#005ddd"/><rect x="208" width="8" fill="#0078dd"/><rect x="216" width="2" fill="#005ddd"/><rect x="218" width="2" fill="#0041dd"/><rect x="220" width="2" fill="#0013dd"/><rect x="222" width="2" fill="#0000d9"/><rect x="224" width="4" fill="#0000d1"/><rect x="228" width="4" fill="#0000c5"/><rect x="232" width="4" fill="#0000b9"/><rect x="236" width="2" fill="#0000b1"/><rect x="238" width="2" fill="#0d00a8"/><rect x="240" width="2" fill="#2d00a4"/><rect x="242" width="2" fill="#4300a2"/><rect x="244" width="2" fill="#63009e"/><rect x="246" width="4" fill="#83009a"/><rect x="250" width="8" fill="#860097"/><rect x="258" width="6" fill="#820093"/><rect x="264" width="8" fill="#860097"/><rect x="272" width="2" fill="#83009a"/></g><g transform="translate(0 48)"><rect x="188" width="2" fill="#00a0c7"/><rect x="190" width="2" fill="#009ecf"/><rect x="192" width="4" fill="#009adb"/><rect x="196" width="2" fill="#0092dd"/><rect x="198" width="2" fill="#008ddd"/><rect x="200" width="2" fill="#007ddd"/><rect x="202" width="2" fill="#0078dd"/><rect x="204" width="6" fill="#005ddd"/><rect x="210" width="6" fill="#0078dd"/><rect x="216" width="2" fill="#005ddd"/><rect x="218" width="2" fill="#0041dd"/><rect x="220" width="2" fill="#002fdd"/><rect x="222" width="2" fill="#0000d9"/><rect x="224" width="6" fill="#0000d1"/><rect x="230" width="2" fill="#0000c5"/><rect x="232" width="2" fill="#0000b9"/><rect x="234" width="2" fill="#0000b1"/><rect x="236" width="2" fill="#0d00a8"/><rect x="238" width="2" fill="#2d00a4"/><rect x="240" width="2" fill="#4300a2"/><rect x="242" width="4" fill="#63009e"/><rect x="246" width="2" fill="#83009a"/><rect x="248" width="10" fill="#860097"/><rect x="258" width="6" fill="#820093"/><rect x="264" width="8" fill="#860097"/><rect x="272" width="2" fill="#83009a"/></g><g transform="translate(0 50)"><rect x="190" width="2" fill="#009adb"/><rect x="192" width="4" fill="#0092dd"/><rect x="196" width="2" fill="#008ddd"/><rect x="198" width="2" fill="#0085dd"/><rect x="200" width="2" fill="#0078dd"/><rect x="202" width="6" fill="#005ddd"/><rect x="208" width="6" fill="#0078dd"/><rect x="214" width="4" fill="#005ddd"/><rect x="218" width="2" fill="#0041dd"/><rect x="220" width="2" fill="#002fdd"/><rect x="222" width="2" fill="#0013dd"/><rect x="224" width="4" fill="#0000d9"/><rect x="228" width="2" fill="#0000d1"/><rect x="230" width="2" fill="#0000c5"/><rect x="232" width="2" fill="#0000b9"/><rect x="234" width="2" fill="#0000b1"/><rect x="236" width="2" fill="#0d00a8"/><rect x="238" width="2" fill="#2d00a4"/><rect x="240" width="2" fill="#4300a2"/><rect x="242" width="2" fill="#63009e"/><rect x="244" width="4" fill="#83009a"/><rect x="248" width="8" fill="#860097"/><rect x="256" width="8" fill="#820093"/><rect x="264" width="8" fill="#860097"/></g><g transform="translate(0 52)"><rect x="192" width="6" fill="#0085dd"/><rect x="198" width="2" fill="#007ddd"/><rect x="200" width="2" fill="#0078dd"/><rect x="202" width="6" fill="#005ddd"/><rect x="208" width="4" fill="#0078dd"/><rect x="212" width="8" fill="#005ddd"/><rect x="220" width="2" fill="#0041dd"/><rect x="222" width="4" fill="#002fdd"/><rect x="226" width="2" fill="#0013dd"/><rect x="228" width="2" fill="#0000d9"/><rect x="230" width="2" fill="#0000d1"/><rect x="232" width="2" fill="#0000b9"/><rect x="234" width="2" fill="#0000b1"/><rect x="236" width="2" fill="#2d00a4"/><rect x="238" width="2" fill="#4300a2"/><rect x="240" width="4" fill="#63009e"/><rect x="244" width="2" fill="#83009a"/><rect x="246" width="10" fill="#860097"/><rect x="256" width="8" fill="#820093"/><rect x="264" width="6" fill="#860097"/></g><g transform="translate(0 54)"><rect x="192" width="6" fill="#0078dd"/><rect x="198" width="2" fill="#005ddd"/><rect x="200" width="2" fill="#0041dd"/><rect x="202" width="4" fill="#002fdd"/><rect x="206" width="2" fill="#0041dd"/><rect x="208" width="16" fill="#005ddd"/><rect x="224" width="2" fill="#0041dd"/><rect x="226" width="2" fill="#002fdd"/><rect x="228" width="2" fill="#0013dd"/><rect x="230" width="2" fill="#0000d1"/><rect x="232" width="2" fill="#0000b9"/><rect x="234" width="2" fill="#0000b1"/><rect x="236" width="2" fill="#2d00a4"/><rect x="238" width="2" fill="#4300a2"/><rect x="240" width="2" fill="#63009e"/><rect x="242" width="4" fill="#83009a"/><rect x="246" width="10" fill="#860097"/><rect x="256" width="8" fill="#820093"/><rect x="264" width="4" fill="#860097"/></g><g transform="translate(0 56)"><rect x="190" width="2" fill="#005ddd"/><rect x="192" width="4" fill="#0041dd"/><rect x="196" width="4" fill="#002fdd"/><rect x="200" width="8" fill="#0013dd"/><rect x="208" width="4" fill="#002fdd"/><rect x="212" width="2" fill="#0041dd"/><rect x="214" width="4" fill="#005ddd"/><rect x="218" width="2" fill="#0078dd"/><rect x="220" width="2" fill="#007ddd"/><rect x="222" width="2" fill="#0078dd"/><rect x="224" width="2" fill="#005ddd"/><rect x="226" width="2" fill="#0041dd"/><rect x="228" width="2" fill="#0013dd"/><rect x="230" width="2" fill="#0000d1"/><rect x="232" width="2" fill="#0000b9"/><rect x="234" width="2" fill="#0d00a8"/><rect x="236" width="2" fill="#2d00a4"/><rect x="238" width="4" fill="#63009e"/><rect x="242" width="2" fill="#83009a"/><rect x="244" width="12" fill="#860097"/><rect x="256" width="4" fill="#820093"/><rect x="260" width="10" fill="#860097"/></g><g transform="translate(0 58)"><rect x="190" width="2" fill="#0041dd"/><rect x="192" width="2" fill="#0013dd"/><rect x="194" width="2" fill="#0000d9"/><rect x="196" width="4" fill="#0013dd"/><rect x="200" width="2" fill="#0000d9"/><rect x="202" width="4" fill="#0000d1"/><rect x="206" width="4" fill="#0000d9"/><rect x="210" width="2" fill="#0013dd"/><rect x="212" width="2" fill="#002fdd"/><rect x="214" width="2" fill="#0041dd"/><rect x="216" width="2" fill="#005ddd"/><rect x="218" width="2" fill="#0078dd"/><rect x="220" width="4" fill="#007ddd"/><rect x="224" width="2" fill="#0078dd"/><rect x="226" width="2" fill="#0041dd"/><rect x="228" width="2" fill="#0013dd"/><rect x="230" width="2" fill="#0000d1"/><rect x="232" width="2" fill="#0000b9"/><rect x="234" width="2" fill="#0d00a8"/><rect x="236" width="2" fill="#2d00a4"/><rect x="238" width="4" fill="#63009e"/><rect x="242" width="2" fill="#83009a"/><rect x="244" width="24" fill="#860097"/><rect x="268" width="2" fill="#83009a"/></g><g transform="translate(0 60)"><rect x="190" width="2" fill="#002fdd"/><rect x="192" width="2" fill="#0013dd"/><rect x="194" width="2" fill="#0000d9"/><rect x="196" width="4" fill="#0013dd"/><rect x="200" width="2" fill="#0000d9"/><rect x="202" width="10" fill="#0000d1"/><rect x="212" width="2" fill="#0013dd"/><rect x="214" width="2" fill="#002fdd"/><rect x="216" width="2" fill="#005ddd"/><rect x="218" width="2" fill="#0078dd"/><rect x="220" width="4" fill="#007ddd"/><rect x="224" width="2" fill="#0078dd"/><rect x="226" width="2" fill="#005ddd"/><rect x="228" width="2" fill="#002fdd"/><rect x="230" width="2" fill="#0000d1"/><rect x="232" width="2" fill="#0000b9"/><rect x="234" width="2" fill="#0d00a8"/><rect x="236" width="2" fill="#2d00a4"/><rect x="238" width="2" fill="#4300a2"/><rect x="240" width="2" fill="#63009e"/><rect x="242" width="4" fill="#83009a"/><rect x="246" width="18" fill="#860097"/><rect x="264" width="6" fill="#83009a"/></g><g transform="translate(0 62)"><rect x="190" width="2" fill="#0041dd"/><rect x="192" width="2" fill="#002fdd"/><rect x="194" width="2" fill="#0013dd"/><rect x="196" width="2" fill="#002fdd"/><rect x="198" width="2" fill="#0013dd"/><rect x="200" width="2" fill="#0000d9"/><rect x="202" width="4" fill="#0000d1"/><rect x="206" width="4" fill="#0000c5"/><rect x="210" width="2" fill="#0000d1"/><rect x="212" width="2" fill="#0000d9"/><rect x="214" width="2" fill="#002fdd"/><rect x="216" width="2" fill="#005ddd"/><rect x="218" width="2" fill="#0078dd"/><rect x="220" width="2" fill="#007ddd"/><rect x="222" width="2" fill="#0085dd"/><rect x="224" width="2" fill="#007ddd"/><rect x="226" width="2" fill="#005ddd"/><rect x="228" width="2" fill="#002fdd"/><rect x="230" width="2" fill="#0000d9"/><rect x="232" width="2" fill="#0000c5"/><rect x="234" width="2" fill="#0000b1"/><rect x="236" width="2" fill="#2d00a4"/><rect x="238" width="2" fill="#4300a2"/><rect x="240" width="2" fill="#63009e"/><rect x="242" width="10" fill="#83009a"/><rect x="252" width="6" fill="#860097"/><rect x="258" width="10" fill="#83009a"/></g><g transform="translate(0 64)"><rect x="192" width="8" fill="#0041dd"/><rect x="200" width="2" fill="#0013dd"/><rect x="202" width="2" fill="#0000d9"/><rect x="204" width="8" fill="#0000d1"/><rect x="212" width="2" fill="#0013dd"/><rect x="214" width="2" fill="#002fdd"/><rect x="216" width="2" fill="#005ddd"/><rect x="218" width="2" fill="#0078dd"/><rect x="220" width="6" fill="#007ddd"/><rect x="226" width="2" fill="#005ddd"/><rect x="228" width="2" fill="#002fdd"/><rect x="230" width="2" fill="#0000d9"/><rect x="232" width="2" fill="#0000c5"/><rect x="234" width="2" fill="#0000b9"/><rect x="236" width="2" fill="#0d00a8"/><rect x="238" width="2" fill="#4300a2"/><rect x="240" width="12" fill="#63009e"/><rect x="252" width="8" fill="#83009a"/><rect x="260" width="10" fill="#63009e"/></g><g transform="translate(0 66)"><rect x="194" width="4" fill="#005ddd"/><rect x="198" width="2" fill="#0041dd"/><rect x="200" width="2" fill="#002fdd"/><rect x="202" width="2" fill="#0000d9"/><rect x="204" width="6" fill="#0000d1"/><rect x="210" width="2" fill="#0000d9"/><rect x="212" width="2" fill="#0013dd"/><rect x="214" width="2" fill="#0041dd"/><rect x="216" width="2" fill="#005ddd"/><rect x="218" width="8" fill="#0078dd"/><rect x="226" width="2" fill="#005ddd"/><rect x="228" width="2" fill="#0041dd"/><rect x="230" width="2" fill="#0013dd"/><rect x="232" width="2" fill="#0000d9"/><rect x="234" width="2" fill="#0000c5"/><rect x="236" width="2" fill="#0000b1"/><rect x="238" width="2" fill="#2d00a4"/><rect x="240" width="2" fill="#4300a2"/><rect x="242" width="4" fill="#63009e"/><rect x="246" width="8" fill="#4300a2"/><rect x="254" width="10" fill="#63009e"/><rect x="264" width="2" fill="#4300a2"/></g><g transform="translate(0 68)"><rect x="194" width="4" fill="#005ddd"/><rect x="198" width="2" fill="#0041dd"/><rect x="200" width="10" fill="#0013dd"/><rect x="210" width="2" fill="#002fdd"/><rect x="212" width="2" fill="#0041dd"/><rect x="214" width="2" fill="#005ddd"/><rect x="216" width="6" fill="#0078dd"/><rect x="222" width="2" fill="#005ddd"/><rect x="224" width="6" fill="#0041dd"/><rect x="230" width="2" fill="#002fdd"/><rect x="232" width="2" fill="#0013dd"/><rect x="234" width="2" fill="#0000d1"/><rect x="236" width="2" fill="#0000b9"/><rect x="238" width="2" fill="#0d00a8"/><rect x="240" width="2" fill="#2d00a4"/><rect x="242" width="2" fill="#4300a2"/><rect x="244" width="6" fill="#2d00a4"/><rect x="250" width="2" fill="#0d00a8"/><rect x="252" width="4" fill="#2d00a4"/><rect x="256" width="6" fill="#4300a2"/></g><g transform="translate(0 70)"><rect x="196" width="2" fill="#005ddd"/><rect x="198" width="2" fill="#0041dd"/><rect x="200" width="2" fill="#0013dd"/><rect x="202" width="2" fill="#002fdd"/><rect x="204" width="4" fill="#0041dd"/><rect x="208" width="4" fill="#005ddd"/><rect x="212" width="2" fill="#0078dd"/><rect x="214" width="6" fill="#007ddd"/><rect x="220" width="2" fill="#0078dd"/><rect x="222" width="2" fill="#0041dd"/><rect x="224" width="2" fill="#002fdd"/><rect x="226" width="2" fill="#0041dd"/><rect x="228" width="4" fill="#005ddd"/><rect x="232" width="2" fill="#0041dd"/><rect x="234" width="2" fill="#0013dd"/><rect x="236" width="2" fill="#0000d1"/><rect x="238" width="2" fill="#0000b9"/><rect x="240" width="8" fill="#0d00a8"/><rect x="248" width="4" fill="#0000b1"/><rect x="252" width="4" fill="#0d00a8"/><rect x="256" width="4" fill="#2d00a4"/></g><g transform="translate(0 72)"><rect x="196" width="2" fill="#0078dd"/><rect x="198" width="6" fill="#005ddd"/><rect x="204" width="2" fill="#0078dd"/><rect x="206" width="4" fill="#007ddd"/><rect x="210" width="2" fill="#0085dd"/><rect x="212" width="6" fill="#008ddd"/><rect x="218" width="2" fill="#0085dd"/><rect x="220" width="2" fill="#007ddd"/><rect x="222" width="2" fill="#005ddd"/><rect x="224" width="2" fill="#0041dd"/><rect x="226" width="2" fill="#005ddd"/><rect x="228" width="4" fill="#0078dd"/><rect x="232" width="2" fill="#005ddd"/><rect x="234" width="2" fill="#002fdd"/><rect x="236" width="2" fill="#0000d9"/><rect x="238" width="2" fill="#0000c5"/><rect x="240" width="2" fill="#0000b9"/><rect x="242" width="6" fill="#0000b1"/><rect x="248" width="4" fill="#0000b9"/><rect x="252" width="4" fill="#0000b1"/><rect x="256" width="2" fill="#0d00a8"/></g><g transform="translate(0 74)"><rect x="196" width="6" fill="#007ddd"/><rect x="202" width="2" fill="#0085dd"/><rect x="204" width="4" fill="#008ddd"/><rect x="208" width="2" fill="#0092dd"/><rect x="210" width="2" fill="#009adb"/><rect x="212" width="4" fill="#009ecf"/><rect x="216" width="2" fill="#009adb"/><rect x="218" width="2" fill="#0092dd"/><rect x="220" width="2" fill="#008ddd"/><rect x="222" width="6" fill="#007ddd"/><rect x="228" width="4" fill="#0085dd"/><rect x="232" width="2" fill="#0078dd"/><rect x="234" width="2" fill="#005ddd"/><rect x="236" width="2" fill="#002fdd"/><rect x="238" width="2" fill="#0000d9"/><rect x="240" width="2" fill="#0000d1"/><rect x="242" width="2" fill="#0000c5"/><rect x="244" width="10" fill="#0000b9"/></g><g transform="translate(0 76)"><rect x="196" width="6" fill="#008ddd"/><rect x="202" width="6" fill="#009adb"/><rect x="208" width="2" fill="#009ecf"/><rect x="210" width="2" fill="#00a4bb"/><rect x="212" width="4" fill="#00a8af"/><rect x="216" width="2" fill="#00a0c7"/><rect x="218" width="2" fill="#009ecf"/><rect x="220" width="2" fill="#0092dd"/><rect x="222" width="10" fill="#008ddd"/><rect x="232" width="2" fill="#007ddd"/><rect x="234" width="2" fill="#0078dd"/><rect x="236" width="2" fill="#0041dd"/><rect x="238" width="2" fill="#0013dd"/><rect x="240" width="2" fill="#0000d9"/><rect x="242" width="4" fill="#0000d1"/><rect x="246" width="4" fill="#0000c5"/></g><g transform="translate(0 78)"><rect x="196" width="6" fill="#0092dd"/><rect x="202" width="4" fill="#009adb"/><rect x="206" width="2" fill="#009ecf"/><rect x="208" width="2" fill="#00a0c7"/><rect x="210" width="2" fill="#00a8af"/><rect x="212" width="4" fill="#00aaa8"/><rect x="216" width="2" fill="#00a8af"/><rect x="218" width="2" fill="#00a0c7"/><rect x="220" width="2" fill="#009ecf"/><rect x="222" width="2" fill="#009adb"/><rect x="224" width="6" fill="#0092dd"/><rect x="230" width="2" fill="#008ddd"/><rect x="232" width="2" fill="#0085dd"/><rect x="234" width="2" fill="#007ddd"/><rect x="236" width="2" fill="#005ddd"/><rect x="238" width="2" fill="#0041dd"/><rect x="240" width="2" fill="#002fdd"/><rect x="242" width="2" fill="#0013dd"/><rect x="244" width="4" fill="#0000d9"/></g><g transform="translate(0 80)"><rect x="196" width="10" fill="#0092dd"/><rect x="206" width="2" fill="#009adb"/><rect x="208" width="2" fill="#00a0c7"/><rect x="210" width="2" fill="#00a4bb"/><rect x="212" width="2" fill="#00a8af"/><rect x="214" width="4" fill="#00aaa8"/><rect x="218" width="2" fill="#00a4bb"/><rect x="220" width="2" fill="#00a0c7"/><rect x="222" width="2" fill="#009ecf"/><rect x="224" width="4" fill="#009adb"/><rect x="228" width="2" fill="#0092dd"/><rect x="230" width="2" fill="#008ddd"/><rect x="232" width="2" fill="#0085dd"/><rect x="234" width="2" fill="#007ddd"/><rect x="236" width="2" fill="#0078dd"/><rect x="238" width="2" fill="#005ddd"/><rect x="240" width="2" fill="#0041dd"/><rect x="242" width="2" fill="#002fdd"/></g><g transform="translate(0 82)"><rect x="196" width="2" fill="#009adb"/><rect x="198" width="4" fill="#0092dd"/><rect x="202" width="2" fill="#008ddd"/><rect x="204" width="2" fill="#0092dd"/><rect x="206" width="2" fill="#009adb"/><rect x="208" width="2" fill="#009ecf"/><rect x="210" width="6" fill="#00a4bb"/><rect x="216" width="2" fill="#00a8af"/><rect x="218" width="4" fill="#00a4bb"/><rect x="222" width="2" fill="#00a0c7"/><rect x="224" width="2" fill="#009ecf"/><rect x="226" width="4" fill="#009adb"/><rect x="230" width="2" fill="#0092dd"/><rect x="232" width="2" fill="#008ddd"/><rect x="234" width="2" fill="#0085dd"/><rect x="236" width="2" fill="#007ddd"/><rect x="238" width="2" fill="#0078dd"/><rect x="240" width="2" fill="#005ddd"/></g><g transform="translate(0 84)"><rect x="196" width="2" fill="#009ecf"/><rect x="198" width="2" fill="#009adb"/><rect x="200" width="2" fill="#0092dd"/><rect x="202" width="4" fill="#008ddd"/><rect x="206" width="2" fill="#009adb"/><rect x="208" width="2" fill="#009ecf"/><rect x="210" width="4" fill="#00a4bb"/><rect x="214" width="4" fill="#00a0c7"/><rect x="218" width="4" fill="#00a4bb"/><rect x="222" width="4" fill="#00a0c7"/><rect x="226" width="2" fill="#009ecf"/><rect x="228" width="4" fill="#009adb"/><rect x="232" width="2" fill="#0092dd"/><rect x="234" width="2" fill="#008ddd"/><rect x="236" width="2" fill="#0085dd"/><rect x="238" width="2" fill="#007ddd"/></g><g transform="translate(0 86)"><rect x="198" width="2" fill="#009ecf"/><rect x="200" width="2" fill="#009adb"/><rect x="202" width="4" fill="#0092dd"/><rect x="206" width="2" fill="#009ecf"/><rect x="208" width="2" fill="#00a0c7"/><rect x="210" width="2" fill="#00a4bb"/><rect x="212" width="10" fill="#00a8af"/><rect x="222" width="4" fill="#00a4bb"/><rect x="226" width="2" fill="#00a0c7"/><rect x="228" width="2" fill="#009ecf"/><rect x="230" width="2" fill="#009adb"/><rect x="232" width="4" fill="#0092dd"/><rect x="236" width="2" fill="#008ddd"/><rect x="238" width="2" fill="#0085dd"/></g><g transform="translate(0 88)"><rect x="200" width="2" fill="#009ecf"/><rect x="202" width="4" fill="#009adb"/><rect x="206" width="2" fill="#00a0c7"/><rect x="208" width="2" fill="#00a4bb"/><rect x="210" width="2" fill="#00aaa8"/><rect x="212" width="2" fill="#00aaa0"/><rect x="214" width="4" fill="#00aa93"/><rect x="218" width="2" fill="#00aa98"/><rect x="220" width="2" fill="#00aaa8"/><rect x="222" width="4" fill="#00a8af"/><rect x="226" width="2" fill="#00a4bb"/><rect x="228" width="2" fill="#00a0c7"/><rect x="230" width="2" fill="#009ecf"/></g><g transform="translate(0 90)"><rect x="186" width="2" fill="#00a55d"/><rect x="188" width="2" fill="#00a773"/><rect x="200" width="2" fill="#00a0c7"/><rect x="202" width="4" fill="#009ecf"/><rect x="206" width="2" fill="#00a0c7"/><rect x="208" width="2" fill="#00a8af"/><rect x="210" width="2" fill="#00aaa0"/><rect x="212" width="2" fill="#00aa93"/><rect x="214" width="4" fill="#00aa8b"/><rect x="218" width="2" fill="#00aa93"/><rect x="220" width="2" fill="#00aa98"/><rect x="222" width="2" fill="#00aaa0"/></g><g transform="translate(0 92)"><rect x="184" width="4" fill="#009d1d"/><rect x="188" width="2" fill="#00a13d"/><rect x="190" width="2" fill="#00a55d"/><rect x="192" width="2" fill="#00a773"/><rect x="196" width="2" fill="#00aa98"/><rect x="198" width="2" fill="#00aaa0"/><rect x="200" width="2" fill="#00a8af"/><rect x="202" width="2" fill="#00a0c7"/><rect x="204" width="2" fill="#009ecf"/><rect x="206" width="2" fill="#00a4bb"/><rect x="208" width="2" fill="#00aaa0"/><rect x="210" width="2" fill="#00aa98"/><rect x="212" width="2" fill="#00aa8b"/><rect x="214" width="4" fill="#00a773"/><rect x="218" width="2" fill="#00aa8b"/><rect x="220" width="2" fill="#00aa93"/><rect x="222" width="2" fill="#00aa98"/></g><g transform="translate(0 94)"><rect x="182" width="4" fill="#009a08"/><rect x="186" width="2" fill="#009f00"/><rect x="188" width="2" fill="#009a08"/><rect x="190" width="2" fill="#009d1d"/><rect x="192" width="2" fill="#00a13d"/><rect x="194" width="2" fill="#00a773"/><rect x="196" width="2" fill="#00aa8b"/><rect x="198" width="2" fill="#00aa93"/><rect x="200" width="2" fill="#00aa98"/><rect x="202" width="4" fill="#00aaa8"/><rect x="206" width="2" fill="#00aaa0"/><rect x="208" width="2" fill="#00aa98"/><rect x="210" width="4" fill="#00aa8b"/><rect x="214" width="4" fill="#00a773"/><rect x="218" width="2" fill="#00aa8b"/><rect x="220" width="2" fill="#00aa93"/><rect x="222" width="2" fill="#00aa98"/></g><g transform="translate(0 96)"><rect x="182" width="4" fill="#009f00"/><rect x="186" width="4" fill="#00a700"/><rect x="190" width="2" fill="#009f00"/><rect x="192" width="2" fill="#009a08"/><rect x="194" width="2" fill="#00a13d"/><rect x="196" width="2" fill="#00a55d"/><rect x="198" width="4" fill="#00a773"/><rect x="202" width="6" fill="#00aa8b"/><rect x="208" width="6" fill="#00a773"/><rect x="216" width="2" fill="#00a773"/></g><g transform="translate(0 98)"><rect x="182" width="2" fill="#009f00"/><rect x="184" width="4" fill="#00a700"/><rect x="188" width="2" fill="#00ac00"/><rect x="190" width="2" fill="#00a700"/><rect x="192" width="2" fill="#009f00"/><rect x="194" width="2" fill="#009d1d"/><rect x="196" width="4" fill="#00a13d"/><rect x="200" width="4" fill="#009d1d"/><rect x="204" width="2" fill="#00a13d"/><rect x="206" width="8" fill="#00a55d"/></g><g transform="translate(0 100)"><rect x="182" width="6" fill="#009f00"/><rect x="188" width="4" fill="#00a700"/><rect x="192" width="2" fill="#009a08"/><rect x="194" width="2" fill="#009d1d"/><rect x="196" width="2" fill="#00a13d"/><rect x="198" width="2" fill="#009d1d"/><rect x="200" width="2" fill="#009f00"/><rect x="202" width="2" fill="#00a700"/><rect x="204" width="2" fill="#009a08"/><rect x="206" width="2" fill="#009d1d"/><rect x="208" width="2" fill="#00a13d"/><rect x="210" width="4" fill="#00a55d"/></g><g transform="translate(0 102)"><rect x="184" width="2" fill="#009a08"/><rect x="186" width="6" fill="#009d1d"/><rect x="192" width="2" fill="#00a13d"/><rect x="194" width="4" fill="#00a55d"/><rect x="198" width="2" fill="#009d1d"/><rect x="200" width="2" fill="#00a700"/><rect x="202" width="2" fill="#00b400"/><rect x="204" width="2" fill="#00a700"/><rect x="206" width="2" fill="#009a08"/><rect x="208" width="4" fill="#00a13d"/><rect x="212" width="2" fill="#00a55d"/></g><g transform="translate(0 104)"><rect x="184" width="2" fill="#00a13d"/><rect x="186" width="2" fill="#00a55d"/><rect x="188" width="4" fill="#00a773"/><rect x="192" width="2" fill="#00aa8b"/><rect x="194" width="2" fill="#00aa93"/><rect x="196" width="2" fill="#00aa8b"/><rect x="198" width="2" fill="#00a13d"/><rect x="200" width="2" fill="#009f00"/><rect x="202" width="2" fill="#00ac00"/><rect x="204" width="2" fill="#00a700"/><rect x="206" width="2" fill="#009a08"/><rect x="208" width="2" fill="#009d1d"/><rect x="210" width="4" fill="#00a13d"/></g><g transform="translate(0 106)"><rect x="184" width="2" fill="#00a13d"/><rect x="186" width="2" fill="#00a773"/><rect x="188" width="2" fill="#00aa8b"/><rect x="190" width="2" fill="#00aa93"/><rect x="192" width="2" fill="#00aaa0"/><rect x="194" width="2" fill="#00aaa8"/><rect x="196" width="2" fill="#00aa98"/><rect x="198" width="2" fill="#00a773"/><rect x="200" width="2" fill="#009d1d"/><rect x="202" width="4" fill="#00a700"/><rect x="206" width="2" fill="#009f00"/><rect x="208" width="2" fill="#009a08"/><rect x="210" width="2" fill="#009d1d"/><rect x="212" width="2" fill="#00a13d"/></g><g transform="translate(0 108)"><rect x="186" width="2" fill="#00a55d"/><rect x="188" width="2" fill="#00aa8b"/><rect x="190" width="2" fill="#00aa98"/><rect x="192" width="2" fill="#00aaa8"/><rect x="194" width="2" fill="#00a4bb"/><rect x="196" width="2" fill="#00aaa0"/><rect x="198" width="2" fill="#00aa8b"/><rect x="200" width="2" fill="#009d1d"/><rect x="202" width="2" fill="#009f00"/><rect x="204" width="2" fill="#00a700"/><rect x="206" width="2" fill="#009f00"/><rect x="208" width="2" fill="#009a08"/><rect x="210" width="2" fill="#009d1d"/><rect x="212" width="2" fill="#00a13d"/></g><g transform="translate(0 110)"><rect x="186" width="2" fill="#00a13d"/><rect x="188" width="2" fill="#00a55d"/><rect x="190" width="2" fill="#00aa8b"/><rect x="192" width="2" fill="#00aa98"/><rect x="194" width="2" fill="#00aaa8"/><rect x="196" width="2" fill="#00aa98"/><rect x="198" width="2" fill="#00aa8b"/><rect x="200" width="2" fill="#00a13d"/><rect x="202" width="2" fill="#009f00"/><rect x="204" width="2" fill="#00a700"/><rect x="206" width="2" fill="#009f00"/><rect x="208" width="2" fill="#009a08"/><rect x="210" width="4" fill="#009d1d"/></g><g transform="translate(0 112)"><rect x="186" width="2" fill="#009d1d"/><rect x="188" width="2" fill="#00a13d"/><rect x="190" width="2" fill="#00a55d"/><rect x="192" width="2" fill="#00aa8b"/><rect x="194" width="4" fill="#00aa93"/><rect x="198" width="2" fill="#00a773"/><rect x="200" width="2" fill="#00a13d"/><rect x="202" width="2" fill="#009a08"/><rect x="204" width="4" fill="#009f00"/><rect x="208" width="2" fill="#009a08"/><rect x="210" width="4" fill="#009d1d"/></g><g transform="translate(0 114)"><rect x="188" width="2" fill="#009a08"/><rect x="190" width="2" fill="#009d1d"/><rect x="192" width="2" fill="#00a13d"/><rect x="194" width="4" fill="#00a773"/><rect x="198" width="2" fill="#00a55d"/><rect x="200" width="2" fill="#009d1d"/><rect x="202" width="8" fill="#009f00"/><rect x="210" width="2" fill="#009a08"/></g><g transform="translate(0 116)"><rect x="188" width="4" fill="#009f00"/><rect x="192" width="2" fill="#009a08"/><rect x="194" width="6" fill="#00a13d"/><rect x="200" width="2" fill="#009d1d"/><rect x="202" width="6" fill="#009f00"/></g><g transform="translate(0 118)"><rect x="188" width="4" fill="#00a700"/><rect x="192" width="2" fill="#009f00"/><rect x="194" width="2" fill="#009a08"/><rect x="196" width="4" fill="#009d1d"/><rect x="200" width="2" fill="#009a08"/><rect x="202" width="4" fill="#009f00"/></g><g transform="translate(0 120)"><rect x="186" width="6" fill="#00ac00"/><rect x="192" width="2" fill="#00a700"/><rect x="194" width="2" fill="#009f00"/><rect x="196" width="2" fill="#009a08"/><rect x="198" width="4" fill="#009f00"/><rect x="202" width="2" fill="#00a700"/></g><g transform="translate(0 122)"><rect x="188" width="2" fill="#00b400"/><rect x="190" width="4" fill="#00ac00"/><rect x="194" width="8" fill="#00a700"/><rect x="202" width="2" fill="#00ac00"/></g><g transform="translate(0 124)"><rect x="188" width="4" fill="#00b400"/><rect x="192" width="4" fill="#00ac00"/><rect x="196" width="6" fill="#00b400"/></g><g transform="translate(0 126)"><rect x="190" width="4" fill="#00bc00"/><rect x="194" width="4" fill="#00c200"/><rect x="198" width="2" fill="#00bc00"/></g><g transform="translate(0 128)"><rect x="190" width="2" fill="#00ca00"/><rect x="192" width="6" fill="#00d200"/><rect x="198" width="2" fill="#00ca00"/></g><g transform="translate(0 130)"><rect x="192" width="6" fill="#00d700"/><rect x="198" width="2" fill="#00d200"/></g><g transform="translate(0 132)"><rect x="194" width="2" fill="#00df00"/><rect x="196" width="2" fill="#00d700"/></g></g></g><rect x="172.4" y="17.5" width="110.05" height="116.7" fill="none" stroke="#1c1c1c" stroke-width="0.67"/><rect x="289.5" y="15.5" width="6" height="120.7" fill="url(#gs)" stroke="#1c1c1c" stroke-width="0.67"/><path d="M295.5 136.2h2.4" stroke="#1c1c1c" stroke-width="0.67"/><path d="M295.5 112.06h2.4" stroke="#1c1c1c" stroke-width="0.67"/><path d="M295.5 87.92h2.4" stroke="#1c1c1c" stroke-width="0.67"/><path d="M295.5 63.78h2.4" stroke="#1c1c1c" stroke-width="0.67"/><path d="M295.5 39.64h2.4" stroke="#1c1c1c" stroke-width="0.67"/><path d="M295.5 15.5h2.4" stroke="#1c1c1c" stroke-width="0.67"/><g transform="translate(338.95 17.5) scale(1 1)" clip-path="url(#mp)"><g transform="scale(1 1) translate(-338.95 -17.5)" filter="url(#bl)" shape-rendering="crispEdges" class="m"><g transform="translate(0 16)"><rect x="380" width="2" fill="#ef886b"/></g><g transform="translate(0 18)"><rect x="378" width="4" fill="#ef886b"/><rect x="382" width="2" fill="#f08b6e"/></g><g transform="translate(0 20)"><rect x="348" width="2" fill="#edd1c2"/><rect x="376" width="2" fill="#ef886b"/><rect x="378" width="2" fill="#ed8366"/><rect x="380" width="2" fill="#ef886b"/><rect x="382" width="2" fill="#f29072"/><rect x="420" width="2" fill="#f1ccb8"/><rect x="422" width="2" fill="#efcebd"/><rect x="424" width="2" fill="#edd1c2"/><rect x="426" width="2" fill="#ecd3c5"/><rect x="428" width="4" fill="#ead5c9"/></g><g transform="translate(0 22)"><rect x="346" width="4" fill="#ead5c9"/><rect x="374" width="2" fill="#f39577"/><rect x="376" width="2" fill="#f08b6e"/><rect x="378" width="2" fill="#ef886b"/><rect x="380" width="2" fill="#f08b6e"/><rect x="382" width="2" fill="#f4987a"/><rect x="384" width="2" fill="#f6a283"/><rect x="386" width="2" fill="#f6a586"/><rect x="388" width="4" fill="#f7a98b"/><rect x="396" width="4" fill="#f7a98b"/><rect x="400" width="2" fill="#f7ad90"/><rect x="410" width="2" fill="#f5c1a9"/><rect x="412" width="2" fill="#f5c4ac"/><rect x="414" width="2" fill="#f3c7b1"/><rect x="416" width="2" fill="#f2cab5"/><rect x="418" width="2" fill="#f1ccb8"/><rect x="420" width="2" fill="#efcebd"/><rect x="422" width="2" fill="#edd1c2"/><rect x="424" width="2" fill="#ecd3c5"/><rect x="426" width="2" fill="#ead5c9"/><rect x="428" width="4" fill="#e7d7ce"/><rect x="432" width="2" fill="#e5d8d1"/></g><g transform="translate(0 24)"><rect x="344" width="6" fill="#e7d7ce"/><rect x="350" width="2" fill="#ead5c9"/><rect x="352" width="2" fill="#ecd3c5"/><rect x="354" width="2" fill="#edd1c2"/><rect x="356" width="2" fill="#f1ccb8"/><rect x="358" width="2" fill="#f2cab5"/><rect x="360" width="2" fill="#f5c4ac"/><rect x="362" width="2" fill="#f6bea4"/><rect x="364" width="2" fill="#f7ba9f"/><rect x="368" width="2" fill="#f7b093"/><rect x="370" width="2" fill="#f7a98b"/><rect x="372" width="2" fill="#f6a586"/><rect x="374" width="2" fill="#f59d7e"/><rect x="376" width="4" fill="#f39577"/><rect x="380" width="2" fill="#f4987a"/><rect x="382" width="2" fill="#f6a283"/><rect x="384" width="2" fill="#f7a98b"/><rect x="386" width="8" fill="#f7b093"/><rect x="396" width="6" fill="#f7ad90"/><rect x="402" width="2" fill="#f7b497"/><rect x="404" width="2" fill="#f7ba9f"/><rect x="406" width="2" fill="#f6bea4"/><rect x="408" width="2" fill="#f5c1a9"/><rect x="410" width="2" fill="#f5c4ac"/><rect x="412" width="2" fill="#f2cab5"/><rect x="414" width="2" fill="#f1ccb8"/><rect x="416" width="2" fill="#efcebd"/><rect x="418" width="4" fill="#edd1c2"/><rect x="422" width="2" fill="#ecd3c5"/><rect x="424" width="2" fill="#ead5c9"/><rect x="426" width="2" fill="#e7d7ce"/><rect x="428" width="4" fill="#e5d8d1"/></g><g transform="translate(0 26)"><rect x="342" width="10" fill="#e5d8d1"/><rect x="352" width="2" fill="#ead5c9"/><rect x="354" width="2" fill="#ecd3c5"/><rect x="356" width="2" fill="#efcebd"/><rect x="358" width="2" fill="#f1ccb8"/><rect x="360" width="2" fill="#f3c7b1"/><rect x="362" width="2" fill="#f5c1a9"/><rect x="364" width="2" fill="#f6bea4"/><rect x="366" width="2" fill="#f7ba9f"/><rect x="372" width="2" fill="#f7ad90"/><rect x="374" width="2" fill="#f7a98b"/><rect x="376" width="2" fill="#f6a283"/><rect x="378" width="2" fill="#f6a586"/><rect x="380" width="2" fill="#f7a98b"/><rect x="382" width="2" fill="#f7b093"/><rect x="384" width="2" fill="#f7b89c"/><rect x="386" width="6" fill="#f7ba9f"/><rect x="392" width="4" fill="#f7b89c"/><rect x="396" width="6" fill="#f7b497"/><rect x="402" width="2" fill="#f7ba9f"/><rect x="404" width="2" fill="#f5c1a9"/><rect x="406" width="2" fill="#f5c4ac"/><rect x="408" width="2" fill="#f3c7b1"/><rect x="410" width="2" fill="#f2cab5"/><rect x="412" width="2" fill="#f1ccb8"/><rect x="414" width="2" fill="#efcebd"/><rect x="416" width="2" fill="#edd1c2"/><rect x="418" width="2" fill="#ecd3c5"/><rect x="420" width="4" fill="#ead5c9"/><rect x="424" width="2" fill="#e7d7ce"/><rect x="426" width="2" fill="#e5d8d1"/><rect x="428" width="8" fill="#e2dad5"/></g><g transform="translate(0 28)"><rect x="340" width="4" fill="#e5d8d1"/><rect x="344" width="6" fill="#e2dad5"/><rect x="350" width="2" fill="#e5d8d1"/><rect x="352" width="2" fill="#e7d7ce"/><rect x="354" width="2" fill="#ead5c9"/><rect x="356" width="2" fill="#edd1c2"/><rect x="358" width="2" fill="#efcebd"/><rect x="360" width="2" fill="#f2cab5"/><rect x="362" width="2" fill="#f5c4ac"/><rect x="364" width="4" fill="#f5c1a9"/><rect x="370" width="2" fill="#f7ba9f"/><rect x="372" width="2" fill="#f7b89c"/><rect x="374" width="2" fill="#f7b497"/><rect x="376" width="2" fill="#f7b093"/><rect x="378" width="2" fill="#f7b497"/><rect x="380" width="2" fill="#f7b89c"/><rect x="382" width="2" fill="#f7ba9f"/><rect x="384" width="2" fill="#f5c1a9"/><rect x="386" width="4" fill="#f5c4ac"/><rect x="390" width="2" fill="#f5c1a9"/><rect x="392" width="8" fill="#f6bea4"/><rect x="400" width="2" fill="#f5c1a9"/><rect x="402" width="2" fill="#f5c4ac"/><rect x="404" width="2" fill="#f3c7b1"/><rect x="406" width="2" fill="#f2cab5"/><rect x="408" width="2" fill="#f1ccb8"/><rect x="410" width="2" fill="#efcebd"/><rect x="412" width="2" fill="#edd1c2"/><rect x="414" width="2" fill="#ecd3c5"/><rect x="416" width="4" fill="#ead5c9"/><rect x="420" width="2" fill="#e7d7ce"/><rect x="422" width="4" fill="#e5d8d1"/><rect x="426" width="4" fill="#e2dad5"/><rect x="430" width="6" fill="#dfdbd9"/></g><g transform="translate(0 30)"><rect x="338" width="2" fill="#e7d7ce"/><rect x="340" width="2" fill="#e5d8d1"/><rect x="342" width="10" fill="#e2dad5"/><rect x="352" width="2" fill="#e5d8d1"/><rect x="354" width="2" fill="#e7d7ce"/><rect x="356" width="2" fill="#ead5c9"/><rect x="358" width="2" fill="#edd1c2"/><rect x="360" width="2" fill="#f1ccb8"/><rect x="362" width="4" fill="#f3c7b1"/><rect x="366" width="6" fill="#f5c4ac"/><rect x="372" width="2" fill="#f5c1a9"/><rect x="374" width="6" fill="#f6bea4"/><rect x="380" width="2" fill="#f5c1a9"/><rect x="382" width="2" fill="#f5c4ac"/><rect x="384" width="2" fill="#f3c7b1"/><rect x="386" width="6" fill="#f2cab5"/><rect x="392" width="8" fill="#f3c7b1"/><rect x="400" width="2" fill="#f2cab5"/><rect x="402" width="2" fill="#f1ccb8"/><rect x="404" width="2" fill="#efcebd"/><rect x="406" width="2" fill="#edd1c2"/><rect x="408" width="4" fill="#ecd3c5"/><rect x="412" width="2" fill="#ead5c9"/><rect x="414" width="4" fill="#e7d7ce"/><rect x="418" width="4" fill="#e5d8d1"/><rect x="422" width="4" fill="#e2dad5"/><rect x="426" width="10" fill="#dfdbd9"/></g><g transform="translate(0 32)"><rect x="338" width="4" fill="#e5d8d1"/><rect x="342" width="12" fill="#e2dad5"/><rect x="354" width="2" fill="#e5d8d1"/><rect x="356" width="2" fill="#ead5c9"/><rect x="358" width="2" fill="#ecd3c5"/><rect x="360" width="2" fill="#efcebd"/><rect x="362" width="2" fill="#f1ccb8"/><rect x="364" width="10" fill="#f2cab5"/><rect x="374" width="6" fill="#f3c7b1"/><rect x="380" width="2" fill="#f2cab5"/><rect x="382" width="2" fill="#f1ccb8"/><rect x="384" width="10" fill="#efcebd"/><rect x="394" width="4" fill="#f1ccb8"/><rect x="398" width="2" fill="#efcebd"/><rect x="400" width="2" fill="#edd1c2"/><rect x="402" width="2" fill="#ecd3c5"/><rect x="404" width="2" fill="#ead5c9"/><rect x="406" width="6" fill="#e7d7ce"/><rect x="412" width="2" fill="#e5d8d1"/><rect x="414" width="8" fill="#e2dad5"/><rect x="422" width="8" fill="#dfdbd9"/><rect x="430" width="6" fill="#dddcdc"/></g><g transform="translate(0 34)"><rect x="340" width="2" fill="#e5d8d1"/><rect x="342" width="12" fill="#e2dad5"/><rect x="354" width="2" fill="#e5d8d1"/><rect x="356" width="2" fill="#e7d7ce"/><rect x="358" width="2" fill="#ead5c9"/><rect x="360" width="2" fill="#ecd3c5"/><rect x="362" width="2" fill="#edd1c2"/><rect x="364" width="18" fill="#efcebd"/><rect x="382" width="2" fill="#edd1c2"/><rect x="384" width="16" fill="#ecd3c5"/><rect x="400" width="2" fill="#ead5c9"/><rect x="402" width="2" fill="#e7d7ce"/><rect x="404" width="2" fill="#e5d8d1"/><rect x="406" width="8" fill="#e2dad5"/><rect x="414" width="12" fill="#dfdbd9"/><rect x="426" width="10" fill="#dddcdc"/></g><g transform="translate(0 36)"><rect x="342" width="2" fill="#e5d8d1"/><rect x="344" width="12" fill="#e2dad5"/><rect x="356" width="2" fill="#e5d8d1"/><rect x="358" width="2" fill="#e7d7ce"/><rect x="360" width="2" fill="#ead5c9"/><rect x="362" width="20" fill="#ecd3c5"/><rect x="382" width="14" fill="#ead5c9"/><rect x="396" width="4" fill="#e7d7ce"/><rect x="400" width="2" fill="#e5d8d1"/><rect x="402" width="4" fill="#e2dad5"/><rect x="406" width="10" fill="#dfdbd9"/><rect x="416" width="20" fill="#dddcdc"/></g><g transform="translate(0 38)"><rect x="344" width="12" fill="#e2dad5"/><rect x="356" width="4" fill="#e5d8d1"/><rect x="360" width="4" fill="#e7d7ce"/><rect x="364" width="16" fill="#ead5c9"/><rect x="380" width="6" fill="#e7d7ce"/><rect x="386" width="14" fill="#e5d8d1"/><rect x="400" width="2" fill="#e2dad5"/><rect x="402" width="6" fill="#dfdbd9"/><rect x="408" width="28" fill="#dddcdc"/></g><g transform="translate(0 40)"><rect x="346" width="12" fill="#e2dad5"/><rect x="358" width="6" fill="#e5d8d1"/><rect x="364" width="14" fill="#e7d7ce"/><rect x="378" width="12" fill="#e5d8d1"/><rect x="390" width="10" fill="#e2dad5"/><rect x="400" width="4" fill="#dfdbd9"/><rect x="404" width="36" fill="#dddcdc"/></g><g transform="translate(0 42)"><rect x="348" width="10" fill="#e2dad5"/><rect x="358" width="22" fill="#e5d8d1"/><rect x="380" width="16" fill="#e2dad5"/><rect x="396" width="6" fill="#dfdbd9"/><rect x="402" width="32" fill="#dddcdc"/><rect x="434" width="2" fill="#dadce0"/><rect x="436" width="4" fill="#dddcdc"/></g><g transform="translate(0 44)"><rect x="350" width="26" fill="#e5d8d1"/><rect x="376" width="12" fill="#e2dad5"/><rect x="388" width="12" fill="#dfdbd9"/><rect x="400" width="34" fill="#dddcdc"/><rect x="434" width="4" fill="#dadce0"/><rect x="438" width="2" fill="#dddcdc"/></g><g transform="translate(0 46)"><rect x="352" width="18" fill="#e5d8d1"/><rect x="370" width="16" fill="#e2dad5"/><rect x="386" width="14" fill="#dfdbd9"/><rect x="400" width="40" fill="#dddcdc"/></g><g transform="translate(0 48)"><rect x="354" width="20" fill="#e5d8d1"/><rect x="374" width="12" fill="#e2dad5"/><rect x="386" width="14" fill="#dfdbd9"/><rect x="400" width="40" fill="#dddcdc"/></g><g transform="translate(0 50)"><rect x="356" width="2" fill="#e7d7ce"/><rect x="358" width="20" fill="#e5d8d1"/><rect x="378" width="12" fill="#e2dad5"/><rect x="390" width="12" fill="#dfdbd9"/><rect x="402" width="36" fill="#dddcdc"/></g><g transform="translate(0 52)"><rect x="358" width="12" fill="#e7d7ce"/><rect x="370" width="12" fill="#e5d8d1"/><rect x="382" width="12" fill="#e2dad5"/><rect x="394" width="10" fill="#dfdbd9"/><rect x="404" width="32" fill="#dddcdc"/></g><g transform="translate(0 54)"><rect x="358" width="18" fill="#e7d7ce"/><rect x="376" width="12" fill="#e5d8d1"/><rect x="388" width="10" fill="#e2dad5"/><rect x="398" width="8" fill="#dfdbd9"/><rect x="406" width="32" fill="#dddcdc"/></g><g transform="translate(0 56)"><rect x="356" width="2" fill="#ead5c9"/><rect x="358" width="22" fill="#e7d7ce"/><rect x="380" width="14" fill="#e5d8d1"/><rect x="394" width="8" fill="#e2dad5"/><rect x="402" width="8" fill="#dfdbd9"/><rect x="410" width="28" fill="#dddcdc"/></g><g transform="translate(0 58)"><rect x="356" width="6" fill="#ead5c9"/><rect x="362" width="28" fill="#e7d7ce"/><rect x="390" width="8" fill="#e5d8d1"/><rect x="398" width="6" fill="#e2dad5"/><rect x="404" width="8" fill="#dfdbd9"/><rect x="412" width="26" fill="#dddcdc"/></g><g transform="translate(0 60)"><rect x="356" width="6" fill="#ead5c9"/><rect x="362" width="34" fill="#e7d7ce"/><rect x="396" width="4" fill="#e5d8d1"/><rect x="400" width="4" fill="#e2dad5"/><rect x="404" width="10" fill="#dfdbd9"/><rect x="414" width="24" fill="#dddcdc"/></g><g transform="translate(0 62)"><rect x="356" width="6" fill="#ead5c9"/><rect x="362" width="18" fill="#e7d7ce"/><rect x="380" width="14" fill="#ead5c9"/><rect x="394" width="4" fill="#e7d7ce"/><rect x="398" width="4" fill="#e5d8d1"/><rect x="402" width="4" fill="#e2dad5"/><rect x="406" width="10" fill="#dfdbd9"/><rect x="416" width="20" fill="#dddcdc"/></g><g transform="translate(0 64)"><rect x="358" width="4" fill="#ead5c9"/><rect x="362" width="18" fill="#e7d7ce"/><rect x="380" width="6" fill="#ead5c9"/><rect x="386" width="6" fill="#ecd3c5"/><rect x="392" width="4" fill="#ead5c9"/><rect x="396" width="4" fill="#e7d7ce"/><rect x="400" width="2" fill="#e5d8d1"/><rect x="402" width="4" fill="#e2dad5"/><rect x="406" width="12" fill="#dfdbd9"/><rect x="418" width="18" fill="#dddcdc"/></g><g transform="translate(0 66)"><rect x="360" width="2" fill="#ead5c9"/><rect x="362" width="4" fill="#e7d7ce"/><rect x="366" width="6" fill="#e5d8d1"/><rect x="372" width="8" fill="#e7d7ce"/><rect x="380" width="4" fill="#ead5c9"/><rect x="384" width="4" fill="#ecd3c5"/><rect x="388" width="4" fill="#edd1c2"/><rect x="392" width="4" fill="#ecd3c5"/><rect x="396" width="2" fill="#ead5c9"/><rect x="398" width="2" fill="#e7d7ce"/><rect x="400" width="2" fill="#e5d8d1"/><rect x="402" width="6" fill="#e2dad5"/><rect x="408" width="14" fill="#dfdbd9"/><rect x="422" width="12" fill="#dddcdc"/></g><g transform="translate(0 68)"><rect x="362" width="2" fill="#e7d7ce"/><rect x="364" width="10" fill="#e5d8d1"/><rect x="374" width="6" fill="#e7d7ce"/><rect x="380" width="2" fill="#ead5c9"/><rect x="382" width="4" fill="#ecd3c5"/><rect x="386" width="2" fill="#edd1c2"/><rect x="388" width="4" fill="#efcebd"/><rect x="392" width="2" fill="#edd1c2"/><rect x="394" width="2" fill="#ecd3c5"/><rect x="396" width="2" fill="#ead5c9"/><rect x="398" width="2" fill="#e7d7ce"/><rect x="400" width="4" fill="#e5d8d1"/><rect x="404" width="4" fill="#e2dad5"/><rect x="408" width="20" fill="#dfdbd9"/></g><g transform="translate(0 70)"><rect x="362" width="2" fill="#e7d7ce"/><rect x="364" width="4" fill="#e5d8d1"/><rect x="368" width="2" fill="#e2dad5"/><rect x="370" width="6" fill="#e5d8d1"/><rect x="376" width="4" fill="#e7d7ce"/><rect x="380" width="2" fill="#ead5c9"/><rect x="382" width="2" fill="#ecd3c5"/><rect x="384" width="2" fill="#edd1c2"/><rect x="386" width="8" fill="#efcebd"/><rect x="394" width="2" fill="#edd1c2"/><rect x="396" width="2" fill="#ecd3c5"/><rect x="398" width="2" fill="#ead5c9"/><rect x="400" width="2" fill="#e7d7ce"/><rect x="402" width="2" fill="#e5d8d1"/><rect x="404" width="4" fill="#e2dad5"/><rect x="408" width="18" fill="#dfdbd9"/></g><g transform="translate(0 72)"><rect x="362" width="2" fill="#ead5c9"/><rect x="364" width="2" fill="#e7d7ce"/><rect x="366" width="4" fill="#e5d8d1"/><rect x="370" width="2" fill="#e2dad5"/><rect x="372" width="4" fill="#e5d8d1"/><rect x="376" width="4" fill="#e7d7ce"/><rect x="380" width="2" fill="#ead5c9"/><rect x="382" width="2" fill="#ecd3c5"/><rect x="384" width="2" fill="#edd1c2"/><rect x="386" width="2" fill="#efcebd"/><rect x="388" width="4" fill="#f1ccb8"/><rect x="392" width="2" fill="#efcebd"/><rect x="394" width="2" fill="#edd1c2"/><rect x="396" width="2" fill="#ecd3c5"/><rect x="398" width="2" fill="#ead5c9"/><rect x="400" width="2" fill="#e7d7ce"/><rect x="402" width="2" fill="#e5d8d1"/><rect x="404" width="4" fill="#e2dad5"/><rect x="408" width="16" fill="#dfdbd9"/></g><g transform="translate(0 74)"><rect x="362" width="2" fill="#ead5c9"/><rect x="364" width="2" fill="#e7d7ce"/><rect x="366" width="4" fill="#e5d8d1"/><rect x="370" width="2" fill="#e2dad5"/><rect x="372" width="4" fill="#e5d8d1"/><rect x="376" width="4" fill="#e7d7ce"/><rect x="380" width="4" fill="#ead5c9"/><rect x="384" width="2" fill="#ecd3c5"/><rect x="386" width="2" fill="#edd1c2"/><rect x="388" width="6" fill="#efcebd"/><rect x="394" width="2" fill="#edd1c2"/><rect x="396" width="2" fill="#ecd3c5"/><rect x="398" width="2" fill="#ead5c9"/><rect x="400" width="2" fill="#e7d7ce"/><rect x="402" width="2" fill="#e5d8d1"/><rect x="404" width="4" fill="#e2dad5"/><rect x="408" width="14" fill="#dfdbd9"/></g><g transform="translate(0 76)"><rect x="362" width="2" fill="#ecd3c5"/><rect x="364" width="2" fill="#ead5c9"/><rect x="366" width="2" fill="#e7d7ce"/><rect x="368" width="2" fill="#e5d8d1"/><rect x="370" width="2" fill="#e2dad5"/><rect x="372" width="4" fill="#e5d8d1"/><rect x="376" width="4" fill="#e7d7ce"/><rect x="380" width="4" fill="#ead5c9"/><rect x="384" width="2" fill="#ecd3c5"/><rect x="386" width="8" fill="#edd1c2"/><rect x="394" width="2" fill="#ecd3c5"/><rect x="396" width="4" fill="#ead5c9"/><rect x="400" width="2" fill="#e7d7ce"/><rect x="402" width="2" fill="#e5d8d1"/><rect x="404" width="6" fill="#e2dad5"/><rect x="410" width="6" fill="#dfdbd9"/></g><g transform="translate(0 78)"><rect x="362" width="2" fill="#edd1c2"/><rect x="364" width="2" fill="#ead5c9"/><rect x="366" width="2" fill="#e7d7ce"/><rect x="368" width="6" fill="#e5d8d1"/><rect x="374" width="6" fill="#e7d7ce"/><rect x="380" width="6" fill="#ead5c9"/><rect x="386" width="10" fill="#ecd3c5"/><rect x="396" width="2" fill="#ead5c9"/><rect x="398" width="2" fill="#e7d7ce"/><rect x="400" width="4" fill="#e5d8d1"/><rect x="404" width="8" fill="#e2dad5"/><rect x="412" width="2" fill="#dfdbd9"/></g><g transform="translate(0 80)"><rect x="362" width="2" fill="#efcebd"/><rect x="364" width="2" fill="#ecd3c5"/><rect x="366" width="2" fill="#ead5c9"/><rect x="368" width="8" fill="#e7d7ce"/><rect x="376" width="12" fill="#ead5c9"/><rect x="388" width="4" fill="#ecd3c5"/><rect x="392" width="4" fill="#ead5c9"/><rect x="396" width="4" fill="#e7d7ce"/><rect x="400" width="4" fill="#e5d8d1"/><rect x="404" width="8" fill="#e2dad5"/></g><g transform="translate(0 82)"><rect x="362" width="2" fill="#f1ccb8"/><rect x="364" width="2" fill="#edd1c2"/><rect x="366" width="4" fill="#ecd3c5"/><rect x="370" width="24" fill="#ead5c9"/><rect x="394" width="6" fill="#e7d7ce"/><rect x="400" width="6" fill="#e5d8d1"/><rect x="406" width="2" fill="#e2dad5"/></g><g transform="translate(0 84)"><rect x="364" width="2" fill="#f1ccb8"/><rect x="366" width="4" fill="#edd1c2"/><rect x="370" width="12" fill="#ecd3c5"/><rect x="382" width="12" fill="#ead5c9"/><rect x="394" width="6" fill="#e7d7ce"/><rect x="400" width="6" fill="#e5d8d1"/></g><g transform="translate(0 86)"><rect x="366" width="2" fill="#f1ccb8"/><rect x="368" width="2" fill="#efcebd"/><rect x="370" width="10" fill="#edd1c2"/><rect x="380" width="6" fill="#ecd3c5"/><rect x="386" width="10" fill="#ead5c9"/><rect x="396" width="6" fill="#e7d7ce"/><rect x="402" width="4" fill="#e5d8d1"/></g><g transform="translate(0 88)"><rect x="366" width="2" fill="#f2cab5"/><rect x="368" width="4" fill="#efcebd"/><rect x="372" width="10" fill="#edd1c2"/><rect x="382" width="10" fill="#ecd3c5"/><rect x="392" width="6" fill="#ead5c9"/></g><g transform="translate(0 90)"><rect x="352" width="4" fill="#f7ad90"/><rect x="356" width="2" fill="#f7b093"/><rect x="366" width="2" fill="#f2cab5"/><rect x="368" width="2" fill="#f1ccb8"/><rect x="370" width="2" fill="#efcebd"/><rect x="372" width="4" fill="#edd1c2"/><rect x="376" width="6" fill="#efcebd"/><rect x="382" width="6" fill="#edd1c2"/><rect x="388" width="4" fill="#ecd3c5"/></g><g transform="translate(0 92)"><rect x="350" width="2" fill="#f6a586"/><rect x="352" width="6" fill="#f7a98b"/><rect x="358" width="2" fill="#f7ad90"/><rect x="362" width="2" fill="#f6bea4"/><rect x="364" width="2" fill="#f5c1a9"/><rect x="366" width="2" fill="#f3c7b1"/><rect x="368" width="2" fill="#f2cab5"/><rect x="370" width="4" fill="#f1ccb8"/><rect x="374" width="12" fill="#efcebd"/><rect x="386" width="4" fill="#edd1c2"/></g><g transform="translate(0 94)"><rect x="348" width="2" fill="#f6a283"/><rect x="350" width="6" fill="#f6a586"/><rect x="356" width="2" fill="#f6a283"/><rect x="358" width="2" fill="#f7a98b"/><rect x="360" width="2" fill="#f7b497"/><rect x="362" width="2" fill="#f7ba9f"/><rect x="364" width="2" fill="#f5c1a9"/><rect x="366" width="2" fill="#f3c7b1"/><rect x="368" width="6" fill="#f2cab5"/><rect x="374" width="8" fill="#f1ccb8"/><rect x="382" width="6" fill="#efcebd"/><rect x="388" width="2" fill="#edd1c2"/></g><g transform="translate(0 96)"><rect x="348" width="2" fill="#f59d7e"/><rect x="350" width="2" fill="#f6a283"/><rect x="352" width="6" fill="#f6a586"/><rect x="358" width="2" fill="#f7ad90"/><rect x="360" width="2" fill="#f7b497"/><rect x="362" width="2" fill="#f6bea4"/><rect x="364" width="2" fill="#f5c1a9"/><rect x="366" width="2" fill="#f3c7b1"/><rect x="368" width="4" fill="#f2cab5"/><rect x="372" width="8" fill="#f1ccb8"/><rect x="382" width="4" fill="#f1ccb8"/></g><g transform="translate(0 98)"><rect x="348" width="2" fill="#f4987a"/><rect x="350" width="2" fill="#f59d7e"/><rect x="352" width="2" fill="#f6a283"/><rect x="354" width="2" fill="#f6a586"/><rect x="356" width="2" fill="#f7a98b"/><rect x="358" width="2" fill="#f7b093"/><rect x="360" width="2" fill="#f7ba9f"/><rect x="362" width="2" fill="#f6bea4"/><rect x="364" width="2" fill="#f5c4ac"/><rect x="366" width="2" fill="#f3c7b1"/><rect x="368" width="4" fill="#f2cab5"/><rect x="372" width="4" fill="#f1ccb8"/><rect x="376" width="4" fill="#f2cab5"/></g><g transform="translate(0 100)"><rect x="348" width="2" fill="#f39577"/><rect x="350" width="2" fill="#f4987a"/><rect x="352" width="2" fill="#f59d7e"/><rect x="354" width="2" fill="#f6a586"/><rect x="356" width="2" fill="#f7b093"/><rect x="358" width="2" fill="#f7b89c"/><rect x="360" width="2" fill="#f6bea4"/><rect x="362" width="2" fill="#f5c4ac"/><rect x="364" width="4" fill="#f3c7b1"/><rect x="368" width="8" fill="#f2cab5"/><rect x="376" width="4" fill="#f3c7b1"/></g><g transform="translate(0 102)"><rect x="350" width="2" fill="#f39577"/><rect x="352" width="2" fill="#f4987a"/><rect x="354" width="2" fill="#f6a586"/><rect x="356" width="2" fill="#f7b093"/><rect x="358" width="2" fill="#f7ba9f"/><rect x="360" width="2" fill="#f5c1a9"/><rect x="362" width="2" fill="#f5c4ac"/><rect x="364" width="10" fill="#f3c7b1"/><rect x="374" width="6" fill="#f5c4ac"/></g><g transform="translate(0 104)"><rect x="350" width="2" fill="#f29072"/><rect x="352" width="2" fill="#f4987a"/><rect x="354" width="2" fill="#f7a98b"/><rect x="356" width="2" fill="#f7b497"/><rect x="358" width="2" fill="#f6bea4"/><rect x="360" width="4" fill="#f5c4ac"/><rect x="364" width="4" fill="#f3c7b1"/><rect x="368" width="2" fill="#f5c4ac"/><rect x="370" width="6" fill="#f5c1a9"/><rect x="376" width="2" fill="#f6bea4"/><rect x="378" width="2" fill="#f5c1a9"/></g><g transform="translate(0 106)"><rect x="350" width="2" fill="#f08b6e"/><rect x="352" width="2" fill="#f39577"/><rect x="354" width="2" fill="#f6a586"/><rect x="356" width="2" fill="#f7b093"/><rect x="358" width="2" fill="#f7ba9f"/><rect x="360" width="2" fill="#f6bea4"/><rect x="362" width="6" fill="#f5c1a9"/><rect x="368" width="2" fill="#f6bea4"/><rect x="370" width="4" fill="#f7ba9f"/><rect x="374" width="2" fill="#f7b89c"/><rect x="376" width="4" fill="#f7ba9f"/></g><g transform="translate(0 108)"><rect x="352" width="2" fill="#f08b6e"/><rect x="354" width="2" fill="#f4987a"/><rect x="356" width="2" fill="#f6a586"/><rect x="358" width="2" fill="#f7b093"/><rect x="360" width="2" fill="#f7b497"/><rect x="362" width="2" fill="#f7b89c"/><rect x="364" width="2" fill="#f7ba9f"/><rect x="366" width="2" fill="#f7b89c"/><rect x="368" width="2" fill="#f7b497"/><rect x="370" width="6" fill="#f7b093"/><rect x="376" width="2" fill="#f7b497"/><rect x="378" width="2" fill="#f7b89c"/></g><g transform="translate(0 110)"><rect x="352" width="2" fill="#eb7d62"/><rect x="354" width="2" fill="#ef886b"/><rect x="356" width="2" fill="#f39577"/><rect x="358" width="2" fill="#f6a283"/><rect x="360" width="2" fill="#f7a98b"/><rect x="362" width="2" fill="#f7ad90"/><rect x="364" width="4" fill="#f7b093"/><rect x="368" width="2" fill="#f7ad90"/><rect x="370" width="2" fill="#f7a98b"/><rect x="372" width="2" fill="#f6a283"/><rect x="374" width="2" fill="#f6a586"/><rect x="376" width="2" fill="#f7ad90"/><rect x="378" width="2" fill="#f7b093"/></g><g transform="translate(0 112)"><rect x="352" width="2" fill="#e36b54"/><rect x="354" width="2" fill="#e7745b"/><rect x="356" width="2" fill="#ed8366"/><rect x="358" width="2" fill="#f29072"/><rect x="360" width="2" fill="#f59d7e"/><rect x="362" width="2" fill="#f6a586"/><rect x="364" width="6" fill="#f7a98b"/><rect x="370" width="2" fill="#f6a586"/><rect x="372" width="2" fill="#f59d7e"/><rect x="374" width="2" fill="#f6a283"/><rect x="376" width="2" fill="#f7a98b"/><rect x="378" width="2" fill="#f7b093"/></g><g transform="translate(0 114)"><rect x="354" width="2" fill="#da5a49"/><rect x="356" width="2" fill="#e36b54"/><rect x="358" width="2" fill="#eb7d62"/><rect x="360" width="2" fill="#f39577"/><rect x="362" width="2" fill="#f6a283"/><rect x="364" width="6" fill="#f7a98b"/><rect x="370" width="6" fill="#f6a586"/><rect x="376" width="2" fill="#f7a98b"/></g><g transform="translate(0 116)"><rect x="354" width="2" fill="#cd423b"/><rect x="356" width="2" fill="#d44e41"/><rect x="358" width="2" fill="#e46e56"/><rect x="360" width="2" fill="#f08b6e"/><rect x="362" width="2" fill="#f6a283"/><rect x="364" width="2" fill="#f7a98b"/><rect x="366" width="6" fill="#f7ad90"/><rect x="372" width="2" fill="#f7a98b"/></g><g transform="translate(0 118)"><rect x="354" width="2" fill="#be242e"/><rect x="356" width="2" fill="#ca3b37"/><rect x="358" width="2" fill="#e0654f"/><rect x="360" width="2" fill="#f08b6e"/><rect x="362" width="2" fill="#f6a283"/><rect x="364" width="2" fill="#f7b093"/><rect x="366" width="4" fill="#f7b497"/><rect x="370" width="4" fill="#f7b093"/></g><g transform="translate(0 120)"><rect x="354" width="2" fill="#bb1b2c"/><rect x="356" width="2" fill="#c73635"/><rect x="358" width="2" fill="#e0654f"/><rect x="360" width="2" fill="#f29072"/><rect x="362" width="2" fill="#f7ad90"/><rect x="364" width="6" fill="#f7b89c"/></g><g transform="translate(0 122)"><rect x="354" width="2" fill="#be242e"/><rect x="356" width="2" fill="#ca3b37"/><rect x="358" width="2" fill="#e46e56"/><rect x="360" width="2" fill="#f4987a"/><rect x="362" width="2" fill="#f7b093"/><rect x="364" width="6" fill="#f7ba9f"/></g><g transform="translate(0 124)"><rect x="356" width="2" fill="#da5a49"/><rect x="358" width="2" fill="#eb7d62"/><rect x="360" width="2" fill="#f59d7e"/><rect x="362" width="2" fill="#f7b093"/><rect x="364" width="6" fill="#f7ba9f"/></g><g transform="translate(0 126)"><rect x="356" width="2" fill="#e46e56"/><rect x="358" width="2" fill="#ef886b"/><rect x="360" width="2" fill="#f6a283"/><rect x="362" width="2" fill="#f7b093"/><rect x="364" width="2" fill="#f7b89c"/><rect x="366" width="2" fill="#f7ba9f"/></g><g transform="translate(0 128)"><rect x="356" width="2" fill="#e97a5f"/><rect x="358" width="2" fill="#f29072"/><rect x="360" width="2" fill="#f6a283"/><rect x="362" width="2" fill="#f7b093"/><rect x="364" width="2" fill="#f7b497"/><rect x="366" width="2" fill="#f7b89c"/></g><g transform="translate(0 130)"><rect x="358" width="2" fill="#f29072"/><rect x="360" width="2" fill="#f6a283"/><rect x="362" width="2" fill="#f7ad90"/><rect x="364" width="2" fill="#f7b497"/></g><g transform="translate(0 132)"><rect x="360" width="2" fill="#f6a283"/><rect x="362" width="2" fill="#f7a98b"/></g></g></g><rect x="338.95" y="17.5" width="109.6" height="116.7" fill="none" stroke="#1c1c1c" stroke-width="0.67"/><rect x="456.1" y="15.5" width="5.7" height="120.7" fill="url(#gc)" stroke="#1c1c1c" stroke-width="0.67"/><path d="M461.8 131.116h2.4" stroke="#1c1c1c" stroke-width="0.67"/><path d="M461.8 112.694h2.4" stroke="#1c1c1c" stroke-width="0.67"/><path d="M461.8 94.2719h2.4" stroke="#1c1c1c" stroke-width="0.67"/><path d="M461.8 75.85h2.4" stroke="#1c1c1c" stroke-width="0.67"/><path d="M461.8 57.4281h2.4" stroke="#1c1c1c" stroke-width="0.67"/><path d="M461.8 39.0063h2.4" stroke="#1c1c1c" stroke-width="0.67"/><path d="M461.8 20.5844h2.4" stroke="#1c1c1c" stroke-width="0.67"/><g transform="translate(5.9 166.45) scale(1 0.99443)" clip-path="url(#mp)"><g transform="scale(1 1.0056) translate(-5.9 -166.45)" filter="url(#bl)" shape-rendering="crispEdges" class="m"><g transform="translate(0 166)"><rect x="44" width="6" fill="#0000c1"/></g><g transform="translate(0 168)"><rect x="42" width="8" fill="#0000c1"/></g><g transform="translate(0 170)"><rect x="14" width="4" fill="#0000c5"/><rect x="42" width="12" fill="#0000c1"/><rect x="54" width="2" fill="#0000c1"/><rect x="88" width="2" fill="#0300aa"/><rect x="90" width="2" fill="#0d00a8"/><rect x="92" width="2" fill="#0d00a8"/><rect x="94" width="2" fill="#1800a7"/><rect x="96" width="2" fill="#2300a6"/><rect x="98" width="2" fill="#2300a6"/></g><g transform="translate(0 172)"><rect x="12" width="6" fill="#0000c5"/><rect x="18" width="8" fill="#0000c1"/><rect x="26" width="4" fill="#0000c5"/><rect x="36" width="4" fill="#0000c5"/><rect x="40" width="14" fill="#0000c1"/><rect x="54" width="6" fill="#0000c1"/><rect x="64" width="4" fill="#0000b9"/><rect x="68" width="2" fill="#0000b9"/><rect x="70" width="4" fill="#0000b5"/><rect x="74" width="2" fill="#0000b1"/><rect x="78" width="2" fill="#0000b1"/><rect x="80" width="2" fill="#0000ad"/><rect x="82" width="4" fill="#0000ad"/><rect x="86" width="2" fill="#0300aa"/><rect x="88" width="2" fill="#0d00a8"/><rect x="90" width="2" fill="#0d00a8"/><rect x="92" width="2" fill="#1800a7"/><rect x="94" width="2" fill="#2300a6"/><rect x="96" width="2" fill="#2300a6"/><rect x="98" width="2" fill="#2d00a4"/></g><g transform="translate(0 174)"><rect x="10" width="4" fill="#0000c5"/><rect x="14" width="20" fill="#0000c1"/><rect x="34" width="2" fill="#0000c5"/><rect x="36" width="18" fill="#0000c1"/><rect x="54" width="6" fill="#0000c1"/><rect x="60" width="2" fill="#0000bd"/><rect x="64" width="2" fill="#0000b9"/><rect x="66" width="4" fill="#0000b9"/><rect x="70" width="2" fill="#0000b5"/><rect x="72" width="2" fill="#0000b1"/><rect x="74" width="4" fill="#0000b1"/><rect x="78" width="2" fill="#0000ad"/><rect x="80" width="4" fill="#0000ad"/><rect x="84" width="2" fill="#0300aa"/><rect x="86" width="2" fill="#0d00a8"/><rect x="88" width="2" fill="#0d00a8"/><rect x="90" width="2" fill="#1800a7"/><rect x="92" width="4" fill="#2300a6"/><rect x="96" width="2" fill="#2d00a4"/><rect x="98" width="2" fill="#3800a3"/><rect x="100" width="2" fill="#3800a3"/><rect x="102" width="2" fill="#4300a2"/></g><g transform="translate(0 176)"><rect x="8" width="4" fill="#0000c5"/><rect x="12" width="24" fill="#0000c1"/><rect x="38" width="16" fill="#0000c1"/><rect x="54" width="6" fill="#0000c1"/><rect x="60" width="2" fill="#0000bd"/><rect x="62" width="4" fill="#0000b9"/><rect x="66" width="2" fill="#0000b9"/><rect x="68" width="2" fill="#0000b5"/><rect x="70" width="4" fill="#0000b1"/><rect x="74" width="2" fill="#0000b1"/><rect x="76" width="2" fill="#0000ad"/><rect x="78" width="4" fill="#0000ad"/><rect x="82" width="2" fill="#0300aa"/><rect x="84" width="2" fill="#0d00a8"/><rect x="86" width="2" fill="#0d00a8"/><rect x="88" width="2" fill="#1800a7"/><rect x="90" width="2" fill="#2300a6"/><rect x="92" width="2" fill="#2300a6"/><rect x="94" width="2" fill="#2d00a4"/><rect x="96" width="2" fill="#3800a3"/><rect x="98" width="2" fill="#3800a3"/><rect x="100" width="2" fill="#4300a2"/><rect x="102" width="2" fill="#4300a2"/></g><g transform="translate(0 178)"><rect x="6" width="4" fill="#0000c5"/><rect x="10" width="44" fill="#0000c1"/><rect x="54" width="4" fill="#0000c1"/><rect x="58" width="4" fill="#0000bd"/><rect x="62" width="4" fill="#0000b9"/><rect x="66" width="2" fill="#0000b9"/><rect x="68" width="2" fill="#0000b5"/><rect x="70" width="2" fill="#0000b1"/><rect x="72" width="2" fill="#0000b1"/><rect x="74" width="2" fill="#0000ad"/><rect x="76" width="2" fill="#0000ad"/><rect x="78" width="2" fill="#0300aa"/><rect x="80" width="4" fill="#0d00a8"/><rect x="84" width="2" fill="#0d00a8"/><rect x="86" width="2" fill="#2300a6"/><rect x="88" width="2" fill="#2300a6"/><rect x="90" width="2" fill="#2d00a4"/><rect x="92" width="2" fill="#3800a3"/><rect x="94" width="2" fill="#3800a3"/><rect x="96" width="2" fill="#4300a2"/><rect x="98" width="2" fill="#4300a2"/><rect x="100" width="2" fill="#4d00a0"/><rect x="102" width="2" fill="#58009f"/></g><g transform="translate(0 180)"><rect x="6" width="6" fill="#0000c5"/><rect x="12" width="40" fill="#0000c1"/><rect x="52" width="6" fill="#0000c1"/><rect x="58" width="4" fill="#0000bd"/><rect x="62" width="2" fill="#0000b9"/><rect x="64" width="2" fill="#0000b9"/><rect x="66" width="2" fill="#0000b5"/><rect x="68" width="2" fill="#0000b1"/><rect x="70" width="2" fill="#0000b1"/><rect x="72" width="2" fill="#0000ad"/><rect x="74" width="2" fill="#0000ad"/><rect x="76" width="2" fill="#0300aa"/><rect x="78" width="2" fill="#0d00a8"/><rect x="80" width="2" fill="#0d00a8"/><rect x="82" width="2" fill="#1800a7"/><rect x="84" width="2" fill="#2300a6"/><rect x="86" width="2" fill="#2300a6"/><rect x="88" width="2" fill="#3800a3"/><rect x="90" width="2" fill="#3800a3"/><rect x="92" width="2" fill="#4300a2"/><rect x="94" width="2" fill="#4300a2"/><rect x="96" width="2" fill="#4d00a0"/><rect x="98" width="2" fill="#58009f"/><rect x="100" width="4" fill="#58009f"/></g><g transform="translate(0 182)"><rect x="6" width="8" fill="#0000c5"/><rect x="14" width="38" fill="#0000c1"/><rect x="52" width="6" fill="#0000c1"/><rect x="58" width="2" fill="#0000bd"/><rect x="60" width="4" fill="#0000b9"/><rect x="64" width="2" fill="#0000b9"/><rect x="66" width="2" fill="#0000b5"/><rect x="68" width="2" fill="#0000b1"/><rect x="70" width="2" fill="#0000ad"/><rect x="72" width="2" fill="#0000ad"/><rect x="74" width="2" fill="#0300aa"/><rect x="76" width="2" fill="#0d00a8"/><rect x="78" width="2" fill="#1800a7"/><rect x="80" width="2" fill="#2300a6"/><rect x="82" width="2" fill="#2300a6"/><rect x="84" width="2" fill="#2d00a4"/><rect x="86" width="2" fill="#3800a3"/><rect x="88" width="2" fill="#4300a2"/><rect x="90" width="2" fill="#4300a2"/><rect x="92" width="2" fill="#4d00a0"/><rect x="94" width="2" fill="#58009f"/><rect x="96" width="2" fill="#58009f"/><rect x="98" width="4" fill="#63009e"/><rect x="102" width="2" fill="#6d009c"/></g><g transform="translate(0 184)"><rect x="8" width="8" fill="#0000c5"/><rect x="16" width="34" fill="#0000c1"/><rect x="50" width="6" fill="#0000c1"/><rect x="56" width="4" fill="#0000bd"/><rect x="60" width="2" fill="#0000b9"/><rect x="62" width="2" fill="#0000b9"/><rect x="64" width="2" fill="#0000b5"/><rect x="66" width="2" fill="#0000b1"/><rect x="68" width="2" fill="#0000b1"/><rect x="70" width="2" fill="#0000ad"/><rect x="72" width="2" fill="#0300aa"/><rect x="74" width="2" fill="#0d00a8"/><rect x="76" width="2" fill="#1800a7"/><rect x="78" width="2" fill="#2300a6"/><rect x="80" width="2" fill="#2300a6"/><rect x="82" width="2" fill="#3800a3"/><rect x="84" width="2" fill="#3800a3"/><rect x="86" width="2" fill="#4300a2"/><rect x="88" width="2" fill="#4d00a0"/><rect x="90" width="2" fill="#58009f"/><rect x="92" width="2" fill="#58009f"/><rect x="94" width="2" fill="#63009e"/><rect x="96" width="2" fill="#6d009c"/><rect x="98" width="6" fill="#6d009c"/></g><g transform="translate(0 186)"><rect x="10" width="8" fill="#0000c5"/><rect x="18" width="32" fill="#0000c1"/><rect x="50" width="6" fill="#0000c1"/><rect x="56" width="4" fill="#0000bd"/><rect x="60" width="2" fill="#0000b9"/><rect x="62" width="2" fill="#0000b9"/><rect x="64" width="2" fill="#0000b5"/><rect x="66" width="2" fill="#0000b1"/><rect x="68" width="2" fill="#0000ad"/><rect x="70" width="2" fill="#0300aa"/><rect x="72" width="2" fill="#0d00a8"/><rect x="74" width="2" fill="#1800a7"/><rect x="76" width="2" fill="#2300a6"/><rect x="78" width="2" fill="#2d00a4"/><rect x="80" width="2" fill="#3800a3"/><rect x="82" width="2" fill="#3800a3"/><rect x="84" width="2" fill="#4300a2"/><rect x="86" width="2" fill="#4d00a0"/><rect x="88" width="2" fill="#58009f"/><rect x="90" width="2" fill="#63009e"/><rect x="92" width="2" fill="#6d009c"/><rect x="94" width="2" fill="#6d009c"/><rect x="96" width="8" fill="#78009b"/></g><g transform="translate(0 188)"><rect x="12" width="8" fill="#0000c5"/><rect x="20" width="30" fill="#0000c1"/><rect x="50" width="6" fill="#0000c1"/><rect x="56" width="2" fill="#0000bd"/><rect x="58" width="4" fill="#0000b9"/><rect x="62" width="2" fill="#0000b5"/><rect x="64" width="2" fill="#0000b1"/><rect x="66" width="2" fill="#0000b1"/><rect x="68" width="2" fill="#0000ad"/><rect x="70" width="2" fill="#0300aa"/><rect x="72" width="2" fill="#0d00a8"/><rect x="74" width="2" fill="#2300a6"/><rect x="76" width="2" fill="#2300a6"/><rect x="78" width="2" fill="#3800a3"/><rect x="80" width="2" fill="#3800a3"/><rect x="82" width="2" fill="#4300a2"/><rect x="84" width="2" fill="#4d00a0"/><rect x="86" width="2" fill="#58009f"/><rect x="88" width="2" fill="#63009e"/><rect x="90" width="2" fill="#6d009c"/><rect x="92" width="2" fill="#6d009c"/><rect x="94" width="2" fill="#78009b"/><rect x="96" width="2" fill="#83009a"/><rect x="98" width="6" fill="#83009a"/><rect x="104" width="4" fill="#83009a"/></g><g transform="translate(0 190)"><rect x="14" width="6" fill="#0000c5"/><rect x="20" width="28" fill="#0000c1"/><rect x="48" width="6" fill="#0000c1"/><rect x="54" width="4" fill="#0000bd"/><rect x="58" width="2" fill="#0000b9"/><rect x="60" width="2" fill="#0000b9"/><rect x="62" width="2" fill="#0000b5"/><rect x="64" width="2" fill="#0000b1"/><rect x="66" width="2" fill="#0000ad"/><rect x="68" width="2" fill="#0300aa"/><rect x="70" width="2" fill="#0d00a8"/><rect x="72" width="2" fill="#1800a7"/><rect x="74" width="2" fill="#2300a6"/><rect x="76" width="2" fill="#2d00a4"/><rect x="78" width="2" fill="#3800a3"/><rect x="80" width="2" fill="#4300a2"/><rect x="82" width="2" fill="#4d00a0"/><rect x="84" width="2" fill="#58009f"/><rect x="86" width="2" fill="#58009f"/><rect x="88" width="2" fill="#6d009c"/><rect x="90" width="2" fill="#6d009c"/><rect x="92" width="2" fill="#78009b"/><rect x="94" width="2" fill="#83009a"/><rect x="96" width="12" fill="#83009a"/></g><g transform="translate(0 192)"><rect x="16" width="6" fill="#0000c5"/><rect x="22" width="26" fill="#0000c1"/><rect x="48" width="6" fill="#0000c1"/><rect x="54" width="4" fill="#0000bd"/><rect x="58" width="2" fill="#0000b9"/><rect x="60" width="2" fill="#0000b9"/><rect x="62" width="2" fill="#0000b5"/><rect x="64" width="2" fill="#0000b1"/><rect x="66" width="2" fill="#0000ad"/><rect x="68" width="2" fill="#0300aa"/><rect x="70" width="2" fill="#0d00a8"/><rect x="72" width="2" fill="#2300a6"/><rect x="74" width="2" fill="#2300a6"/><rect x="76" width="2" fill="#3800a3"/><rect x="78" width="2" fill="#4300a2"/><rect x="80" width="2" fill="#4300a2"/><rect x="82" width="2" fill="#4d00a0"/><rect x="84" width="2" fill="#58009f"/><rect x="86" width="2" fill="#63009e"/><rect x="88" width="2" fill="#6d009c"/><rect x="90" width="2" fill="#6d009c"/><rect x="92" width="2" fill="#78009b"/><rect x="94" width="2" fill="#83009a"/><rect x="96" width="4" fill="#83009a"/><rect x="100" width="6" fill="#870098"/><rect x="106" width="2" fill="#83009a"/></g><g transform="translate(0 194)"><rect x="18" width="4" fill="#0000c5"/><rect x="22" width="26" fill="#0000c1"/><rect x="48" width="6" fill="#0000c1"/><rect x="54" width="2" fill="#0000bd"/><rect x="56" width="4" fill="#0000b9"/><rect x="60" width="2" fill="#0000b9"/><rect x="62" width="2" fill="#0000b1"/><rect x="64" width="2" fill="#0000b1"/><rect x="66" width="2" fill="#0000ad"/><rect x="68" width="2" fill="#0d00a8"/><rect x="70" width="2" fill="#1800a7"/><rect x="72" width="2" fill="#2300a6"/><rect x="74" width="2" fill="#2d00a4"/><rect x="76" width="2" fill="#3800a3"/><rect x="78" width="2" fill="#4300a2"/><rect x="80" width="2" fill="#4d00a0"/><rect x="82" width="2" fill="#58009f"/><rect x="84" width="2" fill="#58009f"/><rect x="86" width="2" fill="#63009e"/><rect x="88" width="2" fill="#6d009c"/><rect x="90" width="4" fill="#78009b"/><rect x="94" width="2" fill="#83009a"/><rect x="96" width="2" fill="#83009a"/><rect x="98" width="10" fill="#870098"/></g><g transform="translate(0 196)"><rect x="20" width="4" fill="#0000c5"/><rect x="24" width="24" fill="#0000c1"/><rect x="48" width="6" fill="#0000c1"/><rect x="54" width="2" fill="#0000bd"/><rect x="56" width="2" fill="#0000b9"/><rect x="58" width="2" fill="#0000b9"/><rect x="60" width="2" fill="#0000b5"/><rect x="62" width="2" fill="#0000b1"/><rect x="64" width="2" fill="#0000ad"/><rect x="66" width="2" fill="#0300aa"/><rect x="68" width="2" fill="#0d00a8"/><rect x="70" width="2" fill="#1800a7"/><rect x="72" width="2" fill="#2300a6"/><rect x="74" width="2" fill="#3800a3"/><rect x="76" width="2" fill="#3800a3"/><rect x="78" width="2" fill="#4300a2"/><rect x="80" width="2" fill="#4d00a0"/><rect x="82" width="2" fill="#58009f"/><rect x="84" width="2" fill="#63009e"/><rect x="86" width="2" fill="#6d009c"/><rect x="88" width="2" fill="#6d009c"/><rect x="90" width="2" fill="#78009b"/><rect x="92" width="4" fill="#83009a"/><rect x="96" width="2" fill="#83009a"/><rect x="98" width="10" fill="#870098"/></g><g transform="translate(0 198)"><rect x="22" width="4" fill="#0000c5"/><rect x="26" width="22" fill="#0000c1"/><rect x="48" width="6" fill="#0000c1"/><rect x="54" width="2" fill="#0000bd"/><rect x="56" width="2" fill="#0000b9"/><rect x="58" width="2" fill="#0000b9"/><rect x="60" width="2" fill="#0000b5"/><rect x="62" width="2" fill="#0000b1"/><rect x="64" width="2" fill="#0000ad"/><rect x="66" width="2" fill="#0300aa"/><rect x="68" width="2" fill="#0d00a8"/><rect x="70" width="2" fill="#2300a6"/><rect x="72" width="2" fill="#2d00a4"/><rect x="74" width="2" fill="#3800a3"/><rect x="76" width="2" fill="#4300a2"/><rect x="78" width="2" fill="#4300a2"/><rect x="80" width="2" fill="#4d00a0"/><rect x="82" width="2" fill="#58009f"/><rect x="84" width="2" fill="#63009e"/><rect x="86" width="2" fill="#6d009c"/><rect x="88" width="2" fill="#6d009c"/><rect x="90" width="4" fill="#78009b"/><rect x="94" width="2" fill="#83009a"/><rect x="96" width="4" fill="#83009a"/><rect x="100" width="8" fill="#870098"/></g><g transform="translate(0 200)"><rect x="24" width="2" fill="#0000c5"/><rect x="26" width="22" fill="#0000c1"/><rect x="48" width="6" fill="#0000c1"/><rect x="54" width="2" fill="#0000bd"/><rect x="56" width="2" fill="#0000b9"/><rect x="58" width="2" fill="#0000b9"/><rect x="60" width="2" fill="#0000b5"/><rect x="62" width="2" fill="#0000b1"/><rect x="64" width="2" fill="#0000ad"/><rect x="66" width="2" fill="#0300aa"/><rect x="68" width="2" fill="#0d00a8"/><rect x="70" width="2" fill="#2300a6"/><rect x="72" width="2" fill="#2d00a4"/><rect x="74" width="2" fill="#3800a3"/><rect x="76" width="2" fill="#4300a2"/><rect x="78" width="2" fill="#4300a2"/><rect x="80" width="2" fill="#4d00a0"/><rect x="82" width="2" fill="#58009f"/><rect x="84" width="2" fill="#58009f"/><rect x="86" width="2" fill="#63009e"/><rect x="88" width="2" fill="#6d009c"/><rect x="90" width="2" fill="#6d009c"/><rect x="92" width="2" fill="#78009b"/><rect x="94" width="2" fill="#83009a"/><rect x="96" width="4" fill="#83009a"/><rect x="100" width="2" fill="#870098"/></g><g transform="translate(0 202)"><rect x="26" width="2" fill="#0000c5"/><rect x="28" width="20" fill="#0000c1"/><rect x="48" width="6" fill="#0000c1"/><rect x="54" width="2" fill="#0000bd"/><rect x="56" width="4" fill="#0000b9"/><rect x="60" width="2" fill="#0000b5"/><rect x="62" width="2" fill="#0000b1"/><rect x="64" width="2" fill="#0000ad"/><rect x="66" width="2" fill="#0300aa"/><rect x="68" width="2" fill="#0d00a8"/><rect x="70" width="2" fill="#2300a6"/><rect x="72" width="2" fill="#2d00a4"/><rect x="74" width="2" fill="#3800a3"/><rect x="76" width="2" fill="#3800a3"/><rect x="78" width="2" fill="#4300a2"/><rect x="80" width="2" fill="#4d00a0"/><rect x="82" width="2" fill="#58009f"/><rect x="84" width="2" fill="#58009f"/><rect x="86" width="2" fill="#63009e"/><rect x="88" width="2" fill="#6d009c"/><rect x="90" width="2" fill="#6d009c"/><rect x="92" width="2" fill="#78009b"/><rect x="94" width="2" fill="#83009a"/><rect x="96" width="8" fill="#83009a"/></g><g transform="translate(0 204)"><rect x="24" width="6" fill="#0000c5"/><rect x="30" width="18" fill="#0000c1"/><rect x="48" width="6" fill="#0000c1"/><rect x="54" width="4" fill="#0000bd"/><rect x="58" width="2" fill="#0000b9"/><rect x="60" width="2" fill="#0000b5"/><rect x="62" width="2" fill="#0000b1"/><rect x="64" width="2" fill="#0000ad"/><rect x="66" width="2" fill="#0300aa"/><rect x="68" width="2" fill="#0d00a8"/><rect x="70" width="2" fill="#1800a7"/><rect x="72" width="2" fill="#2300a6"/><rect x="74" width="2" fill="#3800a3"/><rect x="76" width="2" fill="#3800a3"/><rect x="78" width="2" fill="#4300a2"/><rect x="80" width="2" fill="#4d00a0"/><rect x="82" width="2" fill="#58009f"/><rect x="84" width="2" fill="#58009f"/><rect x="86" width="2" fill="#63009e"/><rect x="88" width="2" fill="#6d009c"/><rect x="90" width="2" fill="#6d009c"/><rect x="92" width="4" fill="#78009b"/><rect x="96" width="2" fill="#83009a"/><rect x="98" width="6" fill="#83009a"/></g><g transform="translate(0 206)"><rect x="22" width="10" fill="#0000c5"/><rect x="32" width="18" fill="#0000c1"/><rect x="50" width="6" fill="#0000c1"/><rect x="56" width="2" fill="#0000bd"/><rect x="58" width="2" fill="#0000b9"/><rect x="60" width="2" fill="#0000b9"/><rect x="62" width="2" fill="#0000b1"/><rect x="64" width="2" fill="#0000b1"/><rect x="66" width="2" fill="#0000ad"/><rect x="68" width="2" fill="#0d00a8"/><rect x="70" width="2" fill="#1800a7"/><rect x="72" width="2" fill="#2300a6"/><rect x="74" width="2" fill="#2d00a4"/><rect x="76" width="2" fill="#3800a3"/><rect x="78" width="2" fill="#4300a2"/><rect x="80" width="2" fill="#4300a2"/><rect x="82" width="2" fill="#4d00a0"/><rect x="84" width="2" fill="#58009f"/><rect x="86" width="2" fill="#58009f"/><rect x="88" width="2" fill="#63009e"/><rect x="90" width="2" fill="#6d009c"/><rect x="92" width="2" fill="#6d009c"/><rect x="94" width="2" fill="#78009b"/><rect x="96" width="6" fill="#83009a"/><rect x="102" width="2" fill="#83009a"/></g><g transform="translate(0 208)"><rect x="22" width="12" fill="#0000c5"/><rect x="34" width="16" fill="#0000c1"/><rect x="50" width="6" fill="#0000c1"/><rect x="56" width="2" fill="#0000bd"/><rect x="58" width="2" fill="#0000b9"/><rect x="60" width="2" fill="#0000b9"/><rect x="62" width="2" fill="#0000b1"/><rect x="64" width="2" fill="#0000b1"/><rect x="66" width="2" fill="#0000ad"/><rect x="68" width="2" fill="#0d00a8"/><rect x="70" width="2" fill="#0d00a8"/><rect x="72" width="2" fill="#2300a6"/><rect x="74" width="2" fill="#2d00a4"/><rect x="76" width="2" fill="#3800a3"/><rect x="78" width="2" fill="#3800a3"/><rect x="80" width="2" fill="#4300a2"/><rect x="82" width="2" fill="#4d00a0"/><rect x="84" width="2" fill="#58009f"/><rect x="86" width="2" fill="#58009f"/><rect x="88" width="2" fill="#63009e"/><rect x="90" width="2" fill="#6d009c"/><rect x="92" width="2" fill="#6d009c"/><rect x="94" width="4" fill="#78009b"/><rect x="98" width="6" fill="#83009a"/></g><g transform="translate(0 210)"><rect x="22" width="12" fill="#0000c5"/><rect x="34" width="18" fill="#0000c1"/><rect x="52" width="4" fill="#0000c1"/><rect x="56" width="2" fill="#0000bd"/><rect x="58" width="2" fill="#0000b9"/><rect x="60" width="2" fill="#0000b9"/><rect x="62" width="2" fill="#0000b5"/><rect x="64" width="2" fill="#0000b1"/><rect x="66" width="2" fill="#0000ad"/><rect x="68" width="2" fill="#0300aa"/><rect x="70" width="2" fill="#0d00a8"/><rect x="72" width="2" fill="#1800a7"/><rect x="74" width="2" fill="#2300a6"/><rect x="76" width="2" fill="#2d00a4"/><rect x="78" width="2" fill="#3800a3"/><rect x="80" width="2" fill="#4300a2"/><rect x="82" width="2" fill="#4300a2"/><rect x="84" width="2" fill="#4d00a0"/><rect x="86" width="2" fill="#58009f"/><rect x="88" width="2" fill="#58009f"/><rect x="90" width="2" fill="#63009e"/><rect x="92" width="2" fill="#6d009c"/><rect x="94" width="2" fill="#6d009c"/><rect x="96" width="8" fill="#78009b"/></g><g transform="translate(0 212)"><rect x="24" width="12" fill="#0000c5"/><rect x="36" width="16" fill="#0000c1"/><rect x="52" width="4" fill="#0000c1"/><rect x="56" width="4" fill="#0000bd"/><rect x="60" width="2" fill="#0000b9"/><rect x="62" width="2" fill="#0000b5"/><rect x="64" width="2" fill="#0000b1"/><rect x="66" width="2" fill="#0000ad"/><rect x="68" width="2" fill="#0000ad"/><rect x="70" width="2" fill="#0d00a8"/><rect x="72" width="2" fill="#0d00a8"/><rect x="74" width="2" fill="#2300a6"/><rect x="76" width="2" fill="#2d00a4"/><rect x="78" width="2" fill="#3800a3"/><rect x="80" width="2" fill="#3800a3"/><rect x="82" width="2" fill="#4300a2"/><rect x="84" width="2" fill="#4300a2"/><rect x="86" width="2" fill="#4d00a0"/><rect x="88" width="2" fill="#58009f"/><rect x="90" width="2" fill="#58009f"/><rect x="92" width="2" fill="#63009e"/><rect x="94" width="2" fill="#6d009c"/><rect x="96" width="4" fill="#6d009c"/><rect x="100" width="2" fill="#78009b"/></g><g transform="translate(0 214)"><rect x="26" width="12" fill="#0000c5"/><rect x="38" width="14" fill="#0000c1"/><rect x="52" width="4" fill="#0000c1"/><rect x="56" width="4" fill="#0000bd"/><rect x="60" width="2" fill="#0000b9"/><rect x="62" width="2" fill="#0000b9"/><rect x="64" width="2" fill="#0000b1"/><rect x="66" width="2" fill="#0000b1"/><rect x="68" width="2" fill="#0000ad"/><rect x="70" width="2" fill="#0300aa"/><rect x="72" width="2" fill="#0d00a8"/><rect x="74" width="2" fill="#1800a7"/><rect x="76" width="2" fill="#2300a6"/><rect x="78" width="2" fill="#2d00a4"/><rect x="80" width="2" fill="#3800a3"/><rect x="82" width="2" fill="#3800a3"/><rect x="84" width="2" fill="#4300a2"/><rect x="86" width="2" fill="#4300a2"/><rect x="88" width="2" fill="#4d00a0"/><rect x="90" width="2" fill="#58009f"/><rect x="92" width="2" fill="#58009f"/><rect x="94" width="2" fill="#63009e"/><rect x="96" width="4" fill="#6d009c"/><rect x="100" width="2" fill="#6d009c"/></g><g transform="translate(0 216)"><rect x="28" width="14" fill="#0000c5"/><rect x="42" width="12" fill="#0000c1"/><rect x="54" width="4" fill="#0000c1"/><rect x="58" width="2" fill="#0000bd"/><rect x="60" width="2" fill="#0000b9"/><rect x="62" width="2" fill="#0000b9"/><rect x="64" width="2" fill="#0000b5"/><rect x="66" width="2" fill="#0000b1"/><rect x="68" width="2" fill="#0000ad"/><rect x="70" width="2" fill="#0000ad"/><rect x="72" width="2" fill="#0300aa"/><rect x="74" width="2" fill="#0d00a8"/><rect x="76" width="2" fill="#1800a7"/><rect x="78" width="2" fill="#2300a6"/><rect x="80" width="2" fill="#2d00a4"/><rect x="82" width="2" fill="#3800a3"/><rect x="84" width="2" fill="#3800a3"/><rect x="86" width="2" fill="#4300a2"/><rect x="88" width="2" fill="#4300a2"/><rect x="90" width="2" fill="#4d00a0"/><rect x="92" width="2" fill="#58009f"/><rect x="94" width="2" fill="#58009f"/></g><g transform="translate(0 218)"><rect x="28" width="16" fill="#0000c5"/><rect x="44" width="10" fill="#0000c1"/><rect x="54" width="4" fill="#0000c1"/><rect x="58" width="4" fill="#0000bd"/><rect x="62" width="2" fill="#0000b9"/><rect x="64" width="2" fill="#0000b9"/><rect x="66" width="2" fill="#0000b1"/><rect x="68" width="2" fill="#0000b1"/><rect x="70" width="2" fill="#0000ad"/><rect x="72" width="2" fill="#0000ad"/><rect x="74" width="2" fill="#0d00a8"/><rect x="76" width="2" fill="#0d00a8"/><rect x="78" width="2" fill="#2300a6"/><rect x="80" width="2" fill="#2300a6"/><rect x="82" width="2" fill="#2d00a4"/><rect x="84" width="2" fill="#3800a3"/><rect x="86" width="2" fill="#3800a3"/><rect x="88" width="4" fill="#4300a2"/><rect x="92" width="2" fill="#4d00a0"/></g><g transform="translate(0 220)"><rect x="30" width="18" fill="#0000c5"/><rect x="48" width="8" fill="#0000c1"/><rect x="56" width="4" fill="#0000c1"/><rect x="60" width="2" fill="#0000bd"/><rect x="62" width="2" fill="#0000b9"/><rect x="64" width="2" fill="#0000b9"/><rect x="66" width="2" fill="#0000b5"/><rect x="68" width="2" fill="#0000b1"/><rect x="70" width="2" fill="#0000b1"/><rect x="72" width="2" fill="#0000ad"/><rect x="74" width="2" fill="#0300aa"/><rect x="76" width="2" fill="#0d00a8"/><rect x="78" width="2" fill="#0d00a8"/><rect x="80" width="2" fill="#2300a6"/><rect x="82" width="2" fill="#2300a6"/><rect x="84" width="2" fill="#2d00a4"/><rect x="86" width="2" fill="#3800a3"/><rect x="88" width="2" fill="#4300a2"/><rect x="90" width="2" fill="#4300a2"/></g><g transform="translate(0 222)"><rect x="30" width="20" fill="#0000c5"/><rect x="50" width="8" fill="#0000c1"/><rect x="58" width="2" fill="#0000c1"/><rect x="60" width="4" fill="#0000bd"/><rect x="64" width="2" fill="#0000b9"/><rect x="66" width="2" fill="#0000b9"/><rect x="68" width="2" fill="#0000b5"/><rect x="70" width="2" fill="#0000b1"/><rect x="72" width="2" fill="#0000b1"/><rect x="74" width="2" fill="#0000ad"/><rect x="76" width="2" fill="#0300aa"/><rect x="78" width="2" fill="#0d00a8"/><rect x="80" width="2" fill="#1800a7"/><rect x="82" width="2" fill="#2300a6"/><rect x="84" width="2" fill="#2300a6"/><rect x="86" width="2" fill="#2d00a4"/><rect x="88" width="2" fill="#3800a3"/><rect x="90" width="2" fill="#4300a2"/></g><g transform="translate(0 224)"><rect x="30" width="2" fill="#0000c9"/><rect x="32" width="22" fill="#0000c5"/><rect x="54" width="4" fill="#0000c1"/><rect x="58" width="4" fill="#0000c1"/><rect x="62" width="2" fill="#0000bd"/><rect x="64" width="2" fill="#0000b9"/><rect x="66" width="2" fill="#0000b9"/><rect x="68" width="2" fill="#0000b5"/><rect x="70" width="2" fill="#0000b1"/><rect x="72" width="2" fill="#0000b1"/><rect x="74" width="2" fill="#0000ad"/><rect x="76" width="2" fill="#0000ad"/><rect x="78" width="2" fill="#0300aa"/><rect x="80" width="2" fill="#0d00a8"/><rect x="82" width="2" fill="#1800a7"/></g><g transform="translate(0 226)"><rect x="30" width="4" fill="#0000c9"/><rect x="34" width="22" fill="#0000c5"/><rect x="56" width="4" fill="#0000c1"/><rect x="60" width="2" fill="#0000c1"/><rect x="62" width="4" fill="#0000bd"/><rect x="66" width="2" fill="#0000b9"/><rect x="68" width="2" fill="#0000b9"/><rect x="70" width="2" fill="#0000b5"/><rect x="72" width="2" fill="#0000b1"/><rect x="74" width="2" fill="#0000b1"/><rect x="76" width="2" fill="#0000ad"/><rect x="78" width="2" fill="#0300aa"/><rect x="80" width="2" fill="#0d00a8"/></g><g transform="translate(0 228)"><rect x="30" width="8" fill="#0000c9"/><rect x="38" width="18" fill="#0000c5"/><rect x="56" width="4" fill="#0000c1"/><rect x="60" width="4" fill="#0000c1"/><rect x="64" width="2" fill="#0000bd"/><rect x="66" width="2" fill="#0000b9"/><rect x="68" width="2" fill="#0000b9"/><rect x="70" width="2" fill="#0000b5"/><rect x="72" width="2" fill="#0000b1"/><rect x="74" width="2" fill="#0000b1"/><rect x="76" width="2" fill="#0000ad"/><rect x="78" width="2" fill="#0000ad"/></g><g transform="translate(0 230)"><rect x="28" width="14" fill="#0000c9"/><rect x="42" width="14" fill="#0000c5"/><rect x="56" width="4" fill="#0000c1"/><rect x="60" width="4" fill="#0000c1"/><rect x="64" width="2" fill="#0000bd"/><rect x="66" width="4" fill="#0000b9"/><rect x="70" width="2" fill="#0000b9"/><rect x="72" width="2" fill="#0000b5"/><rect x="74" width="2" fill="#0000b1"/></g><g transform="translate(0 232)"><rect x="30" width="14" fill="#0000c9"/><rect x="44" width="12" fill="#0000c5"/><rect x="56" width="4" fill="#0000c1"/><rect x="60" width="4" fill="#0000c1"/><rect x="64" width="2" fill="#0000bd"/><rect x="66" width="4" fill="#0000b9"/><rect x="70" width="2" fill="#0000b9"/><rect x="72" width="2" fill="#0000b5"/></g><g transform="translate(0 234)"><rect x="32" width="14" fill="#0000c9"/><rect x="46" width="10" fill="#0000c5"/><rect x="56" width="4" fill="#0000c1"/><rect x="60" width="4" fill="#0000c1"/><rect x="64" width="2" fill="#0000bd"/><rect x="66" width="4" fill="#0000b9"/><rect x="70" width="2" fill="#0000b9"/><rect x="72" width="2" fill="#0000b5"/></g><g transform="translate(0 236)"><rect x="32" width="16" fill="#0000c9"/><rect x="48" width="8" fill="#0000c5"/><rect x="56" width="4" fill="#0000c1"/><rect x="60" width="4" fill="#0000c1"/><rect x="64" width="2" fill="#0000bd"/><rect x="66" width="4" fill="#0000b9"/></g><g transform="translate(0 238)"><rect x="20" width="2" fill="#0000c9"/><rect x="32" width="16" fill="#0000c9"/><rect x="48" width="8" fill="#0000c5"/><rect x="56" width="4" fill="#0000c1"/></g><g transform="translate(0 240)"><rect x="20" width="6" fill="#0000c9"/><rect x="32" width="2" fill="#0000c9"/><rect x="34" width="14" fill="#0000c9"/><rect x="48" width="8" fill="#0000c5"/><rect x="56" width="2" fill="#0000c1"/></g><g transform="translate(0 242)"><rect x="16" width="4" fill="#0000cd"/><rect x="20" width="18" fill="#0000c9"/><rect x="38" width="10" fill="#0000c9"/><rect x="48" width="6" fill="#0000c5"/><rect x="54" width="4" fill="#0000c1"/></g><g transform="translate(0 244)"><rect x="16" width="6" fill="#0000cd"/><rect x="22" width="18" fill="#0000c9"/><rect x="40" width="10" fill="#0000c9"/><rect x="50" width="4" fill="#0000c5"/><rect x="54" width="2" fill="#0000c1"/></g><g transform="translate(0 246)"><rect x="14" width="10" fill="#0000cd"/><rect x="24" width="18" fill="#0000c9"/><rect x="42" width="4" fill="#0000c9"/></g><g transform="translate(0 248)"><rect x="14" width="10" fill="#0000cd"/><rect x="24" width="18" fill="#0000c9"/><rect x="42" width="4" fill="#0000c9"/></g><g transform="translate(0 250)"><rect x="16" width="10" fill="#0000cd"/><rect x="26" width="18" fill="#0000c9"/><rect x="44" width="2" fill="#0000c9"/></g><g transform="translate(0 252)"><rect x="16" width="12" fill="#0000cd"/><rect x="28" width="16" fill="#0000c9"/><rect x="44" width="2" fill="#0000c9"/></g><g transform="translate(0 254)"><rect x="16" width="16" fill="#0000cd"/><rect x="32" width="12" fill="#0000c9"/><rect x="44" width="2" fill="#0000c9"/></g><g transform="translate(0 256)"><rect x="16" width="20" fill="#0000cd"/><rect x="36" width="8" fill="#0000c9"/><rect x="44" width="2" fill="#0000c9"/></g><g transform="translate(0 258)"><rect x="20" width="18" fill="#0000cd"/><rect x="38" width="6" fill="#0000c9"/><rect x="44" width="2" fill="#0000c9"/></g><g transform="translate(0 260)"><rect x="20" width="18" fill="#0000cd"/><rect x="38" width="6" fill="#0000c9"/><rect x="44" width="2" fill="#0000c9"/></g><g transform="translate(0 262)"><rect x="20" width="16" fill="#0000cd"/><rect x="36" width="8" fill="#0000c9"/><rect x="44" width="2" fill="#0000c9"/></g><g transform="translate(0 264)"><rect x="20" width="14" fill="#0000cd"/><rect x="34" width="8" fill="#0000c9"/></g><g transform="translate(0 266)"><rect x="20" width="12" fill="#0000cd"/><rect x="32" width="10" fill="#0000c9"/></g><g transform="translate(0 268)"><rect x="20" width="12" fill="#0000cd"/><rect x="32" width="6" fill="#0000c9"/></g><g transform="translate(0 270)"><rect x="20" width="10" fill="#0000cd"/><rect x="30" width="8" fill="#0000c9"/></g><g transform="translate(0 272)"><rect x="22" width="8" fill="#0000cd"/><rect x="30" width="6" fill="#0000c9"/></g><g transform="translate(0 274)"><rect x="22" width="8" fill="#0000cd"/><rect x="30" width="6" fill="#0000c9"/></g><g transform="translate(0 276)"><rect x="24" width="6" fill="#0000cd"/><rect x="30" width="4" fill="#0000c9"/></g><g transform="translate(0 278)"><rect x="24" width="4" fill="#0000cd"/><rect x="28" width="6" fill="#0000c9"/></g><g transform="translate(0 280)"><rect x="26" width="6" fill="#0000c9"/></g><g transform="translate(0 282)"><rect x="28" width="2" fill="#0000c9"/></g></g></g><rect x="5.9" y="166.45" width="109.8" height="116.05" fill="none" stroke="#1c1c1c" stroke-width="0.67"/><rect x="122.5" y="164.35" width="6.1" height="120.5" fill="url(#gs)" stroke="#1c1c1c" stroke-width="0.67"/><path d="M128.6 284.85h2.4" stroke="#1c1c1c" stroke-width="0.67"/><path d="M128.6 260.75h2.4" stroke="#1c1c1c" stroke-width="0.67"/><path d="M128.6 236.65h2.4" stroke="#1c1c1c" stroke-width="0.67"/><path d="M128.6 212.55h2.4" stroke="#1c1c1c" stroke-width="0.67"/><path d="M128.6 188.45h2.4" stroke="#1c1c1c" stroke-width="0.67"/><path d="M128.6 164.35h2.4" stroke="#1c1c1c" stroke-width="0.67"/><g transform="translate(172.4 166.45) scale(1 0.99443)" clip-path="url(#mp)"><g transform="scale(1 1.0056) translate(-172.4 -166.45)" filter="url(#bl)" shape-rendering="crispEdges" class="m"><g transform="translate(0 166)"><rect x="212" width="4" fill="#0000c1"/></g><g transform="translate(0 168)"><rect x="210" width="8" fill="#0000c1"/></g><g transform="translate(0 170)"><rect x="180" width="4" fill="#0000c5"/><rect x="208" width="12" fill="#0000c1"/><rect x="220" width="4" fill="#0000c1"/><rect x="254" width="2" fill="#0300aa"/><rect x="256" width="2" fill="#0d00a8"/><rect x="258" width="2" fill="#0d00a8"/><rect x="260" width="2" fill="#1800a7"/><rect x="262" width="2" fill="#2300a6"/><rect x="264" width="2" fill="#2300a6"/></g><g transform="translate(0 172)"><rect x="178" width="6" fill="#0000c5"/><rect x="184" width="8" fill="#0000c1"/><rect x="192" width="4" fill="#0000c5"/><rect x="202" width="6" fill="#0000c5"/><rect x="208" width="12" fill="#0000c1"/><rect x="220" width="6" fill="#0000c1"/><rect x="230" width="4" fill="#0000b9"/><rect x="234" width="2" fill="#0000b9"/><rect x="238" width="2" fill="#0000b5"/><rect x="240" width="2" fill="#0000b1"/><rect x="242" width="4" fill="#0000b1"/><rect x="246" width="4" fill="#0000ad"/><rect x="250" width="2" fill="#0000ad"/><rect x="252" width="2" fill="#0300aa"/><rect x="254" width="2" fill="#0d00a8"/><rect x="256" width="4" fill="#0d00a8"/><rect x="260" width="2" fill="#1800a7"/><rect x="262" width="2" fill="#2300a6"/><rect x="264" width="2" fill="#2d00a4"/></g><g transform="translate(0 174)"><rect x="176" width="4" fill="#0000c5"/><rect x="180" width="20" fill="#0000c1"/><rect x="200" width="2" fill="#0000c5"/><rect x="202" width="18" fill="#0000c1"/><rect x="220" width="6" fill="#0000c1"/><rect x="226" width="2" fill="#0000bd"/><rect x="230" width="4" fill="#0000b9"/><rect x="234" width="2" fill="#0000b9"/><rect x="236" width="2" fill="#0000b5"/><rect x="238" width="4" fill="#0000b1"/><rect x="242" width="2" fill="#0000b1"/><rect x="244" width="4" fill="#0000ad"/><rect x="248" width="2" fill="#0000ad"/><rect x="250" width="2" fill="#0300aa"/><rect x="252" width="2" fill="#0d00a8"/><rect x="254" width="2" fill="#0d00a8"/><rect x="256" width="4" fill="#1800a7"/><rect x="260" width="2" fill="#2300a6"/><rect x="262" width="2" fill="#2300a6"/><rect x="264" width="2" fill="#3800a3"/><rect x="266" width="2" fill="#3800a3"/><rect x="268" width="2" fill="#4300a2"/></g><g transform="translate(0 176)"><rect x="176" width="2" fill="#0000c5"/><rect x="178" width="24" fill="#0000c1"/><rect x="204" width="16" fill="#0000c1"/><rect x="220" width="6" fill="#0000c1"/><rect x="226" width="4" fill="#0000bd"/><rect x="230" width="2" fill="#0000b9"/><rect x="232" width="4" fill="#0000b9"/><rect x="236" width="2" fill="#0000b5"/><rect x="238" width="2" fill="#0000b1"/><rect x="240" width="2" fill="#0000b1"/><rect x="242" width="2" fill="#0000ad"/><rect x="244" width="4" fill="#0000ad"/><rect x="248" width="2" fill="#0300aa"/><rect x="250" width="2" fill="#0d00a8"/><rect x="252" width="2" fill="#0d00a8"/><rect x="254" width="2" fill="#1800a7"/><rect x="256" width="2" fill="#2300a6"/><rect x="258" width="2" fill="#2300a6"/><rect x="260" width="2" fill="#2d00a4"/><rect x="262" width="2" fill="#3800a3"/><rect x="264" width="2" fill="#3800a3"/><rect x="266" width="2" fill="#4300a2"/><rect x="268" width="2" fill="#4300a2"/></g><g transform="translate(0 178)"><rect x="174" width="4" fill="#0000c5"/><rect x="178" width="42" fill="#0000c1"/><rect x="220" width="6" fill="#0000c1"/><rect x="226" width="2" fill="#0000bd"/><rect x="228" width="4" fill="#0000b9"/><rect x="232" width="2" fill="#0000b9"/><rect x="234" width="2" fill="#0000b5"/><rect x="236" width="2" fill="#0000b1"/><rect x="238" width="2" fill="#0000b1"/><rect x="240" width="2" fill="#0000ad"/><rect x="242" width="2" fill="#0000ad"/><rect x="244" width="4" fill="#0300aa"/><rect x="248" width="2" fill="#0d00a8"/><rect x="250" width="2" fill="#0d00a8"/><rect x="252" width="2" fill="#1800a7"/><rect x="254" width="2" fill="#2300a6"/><rect x="256" width="2" fill="#2d00a4"/><rect x="258" width="2" fill="#3800a3"/><rect x="260" width="2" fill="#3800a3"/><rect x="262" width="2" fill="#4300a2"/><rect x="264" width="2" fill="#4300a2"/><rect x="266" width="4" fill="#4d00a0"/></g><g transform="translate(0 180)"><rect x="172" width="6" fill="#0000c5"/><rect x="178" width="40" fill="#0000c1"/><rect x="218" width="6" fill="#0000c1"/><rect x="224" width="4" fill="#0000bd"/><rect x="228" width="2" fill="#0000b9"/><rect x="230" width="2" fill="#0000b9"/><rect x="232" width="2" fill="#0000b5"/><rect x="234" width="2" fill="#0000b1"/><rect x="236" width="2" fill="#0000b1"/><rect x="238" width="2" fill="#0000ad"/><rect x="240" width="2" fill="#0000ad"/><rect x="242" width="2" fill="#0300aa"/><rect x="244" width="2" fill="#0d00a8"/><rect x="246" width="2" fill="#0d00a8"/><rect x="248" width="2" fill="#1800a7"/><rect x="250" width="2" fill="#2300a6"/><rect x="252" width="2" fill="#2300a6"/><rect x="254" width="2" fill="#2d00a4"/><rect x="256" width="2" fill="#3800a3"/><rect x="258" width="2" fill="#4300a2"/><rect x="260" width="2" fill="#4300a2"/><rect x="262" width="2" fill="#4d00a0"/><rect x="264" width="4" fill="#58009f"/><rect x="268" width="2" fill="#58009f"/></g><g transform="translate(0 182)"><rect x="174" width="6" fill="#0000c5"/><rect x="180" width="38" fill="#0000c1"/><rect x="218" width="6" fill="#0000c1"/><rect x="224" width="2" fill="#0000bd"/><rect x="226" width="4" fill="#0000b9"/><rect x="230" width="2" fill="#0000b9"/><rect x="232" width="2" fill="#0000b5"/><rect x="234" width="2" fill="#0000b1"/><rect x="236" width="2" fill="#0000ad"/><rect x="238" width="2" fill="#0000ad"/><rect x="240" width="2" fill="#0300aa"/><rect x="242" width="2" fill="#0d00a8"/><rect x="244" width="2" fill="#0d00a8"/><rect x="246" width="2" fill="#1800a7"/><rect x="248" width="2" fill="#2300a6"/><rect x="250" width="2" fill="#2d00a4"/><rect x="252" width="2" fill="#3800a3"/><rect x="254" width="2" fill="#3800a3"/><rect x="256" width="2" fill="#4300a2"/><rect x="258" width="2" fill="#4d00a0"/><rect x="260" width="2" fill="#58009f"/><rect x="262" width="2" fill="#58009f"/><rect x="264" width="4" fill="#63009e"/><rect x="268" width="2" fill="#6d009c"/></g><g transform="translate(0 184)"><rect x="174" width="8" fill="#0000c5"/><rect x="182" width="36" fill="#0000c1"/><rect x="218" width="4" fill="#0000c1"/><rect x="222" width="4" fill="#0000bd"/><rect x="226" width="2" fill="#0000b9"/><rect x="228" width="2" fill="#0000b9"/><rect x="230" width="2" fill="#0000b5"/><rect x="232" width="2" fill="#0000b1"/><rect x="234" width="2" fill="#0000b1"/><rect x="236" width="2" fill="#0000ad"/><rect x="238" width="2" fill="#0300aa"/><rect x="240" width="2" fill="#0d00a8"/><rect x="242" width="2" fill="#0d00a8"/><rect x="244" width="2" fill="#2300a6"/><rect x="246" width="2" fill="#2300a6"/><rect x="248" width="2" fill="#2d00a4"/><rect x="250" width="2" fill="#3800a3"/><rect x="252" width="2" fill="#4300a2"/><rect x="254" width="2" fill="#4300a2"/><rect x="256" width="2" fill="#4d00a0"/><rect x="258" width="2" fill="#58009f"/><rect x="260" width="2" fill="#63009e"/><rect x="262" width="4" fill="#6d009c"/><rect x="266" width="4" fill="#6d009c"/></g><g transform="translate(0 186)"><rect x="176" width="8" fill="#0000c5"/><rect x="184" width="32" fill="#0000c1"/><rect x="216" width="6" fill="#0000c1"/><rect x="222" width="4" fill="#0000bd"/><rect x="226" width="2" fill="#0000b9"/><rect x="228" width="2" fill="#0000b9"/><rect x="230" width="2" fill="#0000b5"/><rect x="232" width="2" fill="#0000b1"/><rect x="234" width="2" fill="#0000ad"/><rect x="236" width="2" fill="#0000ad"/><rect x="238" width="2" fill="#0d00a8"/><rect x="240" width="2" fill="#0d00a8"/><rect x="242" width="2" fill="#2300a6"/><rect x="244" width="2" fill="#2300a6"/><rect x="246" width="2" fill="#2d00a4"/><rect x="248" width="2" fill="#3800a3"/><rect x="250" width="2" fill="#4300a2"/><rect x="252" width="2" fill="#4d00a0"/><rect x="254" width="2" fill="#58009f"/><rect x="256" width="2" fill="#58009f"/><rect x="258" width="2" fill="#63009e"/><rect x="260" width="2" fill="#6d009c"/><rect x="262" width="2" fill="#6d009c"/><rect x="264" width="6" fill="#78009b"/></g><g transform="translate(0 188)"><rect x="178" width="8" fill="#0000c5"/><rect x="186" width="30" fill="#0000c1"/><rect x="216" width="6" fill="#0000c1"/><rect x="222" width="4" fill="#0000bd"/><rect x="226" width="2" fill="#0000b9"/><rect x="228" width="2" fill="#0000b9"/><rect x="230" width="2" fill="#0000b1"/><rect x="232" width="2" fill="#0000b1"/><rect x="234" width="2" fill="#0000ad"/><rect x="236" width="2" fill="#0300aa"/><rect x="238" width="2" fill="#0d00a8"/><rect x="240" width="2" fill="#1800a7"/><rect x="242" width="2" fill="#2300a6"/><rect x="244" width="2" fill="#2d00a4"/><rect x="246" width="2" fill="#3800a3"/><rect x="248" width="2" fill="#4300a2"/><rect x="250" width="2" fill="#4d00a0"/><rect x="252" width="2" fill="#58009f"/><rect x="254" width="2" fill="#63009e"/><rect x="256" width="2" fill="#6d009c"/><rect x="258" width="2" fill="#6d009c"/><rect x="260" width="2" fill="#78009b"/><rect x="262" width="2" fill="#83009a"/><rect x="264" width="6" fill="#83009a"/><rect x="270" width="4" fill="#83009a"/></g><g transform="translate(0 190)"><rect x="180" width="6" fill="#0000c5"/><rect x="186" width="30" fill="#0000c1"/><rect x="216" width="6" fill="#0000c1"/><rect x="222" width="2" fill="#0000bd"/><rect x="224" width="2" fill="#0000b9"/><rect x="226" width="2" fill="#0000b9"/><rect x="228" width="2" fill="#0000b5"/><rect x="230" width="2" fill="#0000b1"/><rect x="232" width="2" fill="#0000ad"/><rect x="234" width="2" fill="#0000ad"/><rect x="236" width="2" fill="#0d00a8"/><rect x="238" width="2" fill="#1800a7"/><rect x="240" width="2" fill="#2300a6"/><rect x="242" width="2" fill="#2d00a4"/><rect x="244" width="2" fill="#3800a3"/><rect x="246" width="2" fill="#4300a2"/><rect x="248" width="2" fill="#4300a2"/><rect x="250" width="2" fill="#58009f"/><rect x="252" width="2" fill="#58009f"/><rect x="254" width="2" fill="#63009e"/><rect x="256" width="2" fill="#6d009c"/><rect x="258" width="2" fill="#78009b"/><rect x="260" width="4" fill="#83009a"/><rect x="264" width="10" fill="#83009a"/></g><g transform="translate(0 192)"><rect x="182" width="6" fill="#0000c5"/><rect x="188" width="26" fill="#0000c1"/><rect x="214" width="6" fill="#0000c1"/><rect x="220" width="4" fill="#0000bd"/><rect x="224" width="2" fill="#0000b9"/><rect x="226" width="2" fill="#0000b9"/><rect x="228" width="2" fill="#0000b5"/><rect x="230" width="2" fill="#0000b1"/><rect x="232" width="2" fill="#0000ad"/><rect x="234" width="2" fill="#0300aa"/><rect x="236" width="2" fill="#0d00a8"/><rect x="238" width="2" fill="#1800a7"/><rect x="240" width="2" fill="#2300a6"/><rect x="242" width="2" fill="#3800a3"/><rect x="244" width="2" fill="#3800a3"/><rect x="246" width="2" fill="#4300a2"/><rect x="248" width="2" fill="#4d00a0"/><rect x="250" width="2" fill="#58009f"/><rect x="252" width="2" fill="#63009e"/><rect x="254" width="2" fill="#6d009c"/><rect x="256" width="2" fill="#6d009c"/><rect x="258" width="2" fill="#78009b"/><rect x="260" width="2" fill="#83009a"/><rect x="262" width="4" fill="#83009a"/><rect x="266" width="6" fill="#870098"/><rect x="272" width="2" fill="#83009a"/></g><g transform="translate(0 194)"><rect x="184" width="4" fill="#0000c5"/><rect x="188" width="26" fill="#0000c1"/><rect x="214" width="6" fill="#0000c1"/><rect x="220" width="4" fill="#0000bd"/><rect x="224" width="2" fill="#0000b9"/><rect x="226" width="2" fill="#0000b9"/><rect x="228" width="2" fill="#0000b5"/><rect x="230" width="2" fill="#0000b1"/><rect x="232" width="2" fill="#0000ad"/><rect x="234" width="2" fill="#0300aa"/><rect x="236" width="2" fill="#0d00a8"/><rect x="238" width="2" fill="#2300a6"/><rect x="240" width="2" fill="#2d00a4"/><rect x="242" width="2" fill="#3800a3"/><rect x="244" width="2" fill="#4300a2"/><rect x="246" width="2" fill="#4300a2"/><rect x="248" width="2" fill="#58009f"/><rect x="250" width="2" fill="#58009f"/><rect x="252" width="2" fill="#63009e"/><rect x="254" width="2" fill="#6d009c"/><rect x="256" width="2" fill="#6d009c"/><rect x="258" width="2" fill="#78009b"/><rect x="260" width="2" fill="#83009a"/><rect x="262" width="4" fill="#83009a"/><rect x="266" width="8" fill="#870098"/></g><g transform="translate(0 196)"><rect x="186" width="4" fill="#0000c5"/><rect x="190" width="24" fill="#0000c1"/><rect x="214" width="6" fill="#0000c1"/><rect x="220" width="4" fill="#0000bd"/><rect x="224" width="2" fill="#0000b9"/><rect x="226" width="2" fill="#0000b9"/><rect x="228" width="2" fill="#0000b1"/><rect x="230" width="2" fill="#0000b1"/><rect x="232" width="2" fill="#0000ad"/><rect x="234" width="2" fill="#0d00a8"/><rect x="236" width="2" fill="#1800a7"/><rect x="238" width="2" fill="#2300a6"/><rect x="240" width="2" fill="#2d00a4"/><rect x="242" width="2" fill="#3800a3"/><rect x="244" width="2" fill="#4300a2"/><rect x="246" width="2" fill="#4d00a0"/><rect x="248" width="2" fill="#58009f"/><rect x="250" width="2" fill="#58009f"/><rect x="252" width="2" fill="#63009e"/><rect x="254" width="2" fill="#6d009c"/><rect x="256" width="2" fill="#6d009c"/><rect x="258" width="2" fill="#78009b"/><rect x="260" width="2" fill="#83009a"/><rect x="262" width="4" fill="#83009a"/><rect x="266" width="8" fill="#870098"/></g><g transform="translate(0 198)"><rect x="188" width="4" fill="#0000c5"/><rect x="192" width="22" fill="#0000c1"/><rect x="214" width="6" fill="#0000c1"/><rect x="220" width="4" fill="#0000bd"/><rect x="224" width="2" fill="#0000b9"/><rect x="226" width="2" fill="#0000b9"/><rect x="228" width="2" fill="#0000b1"/><rect x="230" width="2" fill="#0000b1"/><rect x="232" width="2" fill="#0000ad"/><rect x="234" width="2" fill="#0d00a8"/><rect x="236" width="2" fill="#1800a7"/><rect x="238" width="2" fill="#2300a6"/><rect x="240" width="2" fill="#3800a3"/><rect x="242" width="2" fill="#3800a3"/><rect x="244" width="2" fill="#4300a2"/><rect x="246" width="2" fill="#4d00a0"/><rect x="248" width="2" fill="#58009f"/><rect x="250" width="2" fill="#58009f"/><rect x="252" width="2" fill="#63009e"/><rect x="254" width="2" fill="#6d009c"/><rect x="256" width="2" fill="#6d009c"/><rect x="258" width="2" fill="#78009b"/><rect x="260" width="2" fill="#83009a"/><rect x="262" width="4" fill="#83009a"/><rect x="266" width="8" fill="#870098"/></g><g transform="translate(0 200)"><rect x="192" width="2" fill="#0000c5"/><rect x="194" width="20" fill="#0000c1"/><rect x="214" width="6" fill="#0000c1"/><rect x="220" width="4" fill="#0000bd"/><rect x="224" width="2" fill="#0000b9"/><rect x="226" width="2" fill="#0000b9"/><rect x="228" width="2" fill="#0000b1"/><rect x="230" width="2" fill="#0000b1"/><rect x="232" width="2" fill="#0000ad"/><rect x="234" width="2" fill="#0d00a8"/><rect x="236" width="2" fill="#2300a6"/><rect x="238" width="2" fill="#2300a6"/><rect x="240" width="2" fill="#3800a3"/><rect x="242" width="2" fill="#3800a3"/><rect x="244" width="2" fill="#4300a2"/><rect x="246" width="2" fill="#4d00a0"/><rect x="248" width="2" fill="#58009f"/><rect x="250" width="2" fill="#58009f"/><rect x="252" width="2" fill="#63009e"/><rect x="254" width="2" fill="#6d009c"/><rect x="256" width="2" fill="#6d009c"/><rect x="258" width="2" fill="#78009b"/><rect x="260" width="2" fill="#83009a"/><rect x="262" width="4" fill="#83009a"/><rect x="266" width="4" fill="#870098"/></g><g transform="translate(0 202)"><rect x="192" width="4" fill="#0000c5"/><rect x="196" width="18" fill="#0000c1"/><rect x="214" width="6" fill="#0000c1"/><rect x="220" width="4" fill="#0000bd"/><rect x="224" width="2" fill="#0000b9"/><rect x="226" width="2" fill="#0000b9"/><rect x="228" width="2" fill="#0000b1"/><rect x="230" width="2" fill="#0000b1"/><rect x="232" width="2" fill="#0000ad"/><rect x="234" width="2" fill="#0d00a8"/><rect x="236" width="2" fill="#1800a7"/><rect x="238" width="2" fill="#2300a6"/><rect x="240" width="2" fill="#3800a3"/><rect x="242" width="2" fill="#3800a3"/><rect x="244" width="2" fill="#4300a2"/><rect x="246" width="2" fill="#4d00a0"/><rect x="248" width="2" fill="#58009f"/><rect x="250" width="2" fill="#58009f"/><rect x="252" width="2" fill="#63009e"/><rect x="254" width="2" fill="#6d009c"/><rect x="256" width="2" fill="#6d009c"/><rect x="258" width="2" fill="#78009b"/><rect x="260" width="4" fill="#83009a"/><rect x="264" width="4" fill="#83009a"/></g><g transform="translate(0 204)"><rect x="190" width="6" fill="#0000c5"/><rect x="196" width="20" fill="#0000c1"/><rect x="216" width="4" fill="#0000c1"/><rect x="220" width="4" fill="#0000bd"/><rect x="224" width="2" fill="#0000b9"/><rect x="226" width="2" fill="#0000b9"/><rect x="228" width="2" fill="#0000b1"/><rect x="230" width="2" fill="#0000b1"/><rect x="232" width="2" fill="#0000ad"/><rect x="234" width="2" fill="#0d00a8"/><rect x="236" width="2" fill="#1800a7"/><rect x="238" width="2" fill="#2300a6"/><rect x="240" width="2" fill="#2d00a4"/><rect x="242" width="2" fill="#3800a3"/><rect x="244" width="2" fill="#4300a2"/><rect x="246" width="2" fill="#4300a2"/><rect x="248" width="2" fill="#4d00a0"/><rect x="250" width="2" fill="#58009f"/><rect x="252" width="2" fill="#63009e"/><rect x="254" width="2" fill="#6d009c"/><rect x="256" width="4" fill="#6d009c"/><rect x="260" width="2" fill="#78009b"/><rect x="262" width="2" fill="#83009a"/><rect x="264" width="6" fill="#83009a"/></g><g transform="translate(0 206)"><rect x="190" width="8" fill="#0000c5"/><rect x="198" width="18" fill="#0000c1"/><rect x="216" width="6" fill="#0000c1"/><rect x="222" width="2" fill="#0000bd"/><rect x="224" width="2" fill="#0000b9"/><rect x="226" width="2" fill="#0000b9"/><rect x="228" width="2" fill="#0000b5"/><rect x="230" width="2" fill="#0000b1"/><rect x="232" width="2" fill="#0000ad"/><rect x="234" width="2" fill="#0d00a8"/><rect x="236" width="2" fill="#0d00a8"/><rect x="238" width="2" fill="#2300a6"/><rect x="240" width="2" fill="#2d00a4"/><rect x="242" width="2" fill="#3800a3"/><rect x="244" width="2" fill="#4300a2"/><rect x="246" width="2" fill="#4300a2"/><rect x="248" width="2" fill="#4d00a0"/><rect x="250" width="2" fill="#58009f"/><rect x="252" width="2" fill="#58009f"/><rect x="254" width="2" fill="#63009e"/><rect x="256" width="2" fill="#6d009c"/><rect x="258" width="2" fill="#6d009c"/><rect x="260" width="2" fill="#78009b"/><rect x="262" width="6" fill="#83009a"/><rect x="268" width="2" fill="#83009a"/></g><g transform="translate(0 208)"><rect x="190" width="10" fill="#0000c5"/><rect x="200" width="16" fill="#0000c1"/><rect x="216" width="6" fill="#0000c1"/><rect x="222" width="4" fill="#0000bd"/><rect x="226" width="2" fill="#0000b9"/><rect x="228" width="2" fill="#0000b5"/><rect x="230" width="2" fill="#0000b1"/><rect x="232" width="2" fill="#0000ad"/><rect x="234" width="2" fill="#0300aa"/><rect x="236" width="2" fill="#0d00a8"/><rect x="238" width="2" fill="#2300a6"/><rect x="240" width="2" fill="#2300a6"/><rect x="242" width="2" fill="#3800a3"/><rect x="244" width="2" fill="#3800a3"/><rect x="246" width="2" fill="#4300a2"/><rect x="248" width="2" fill="#4300a2"/><rect x="250" width="2" fill="#4d00a0"/><rect x="252" width="2" fill="#58009f"/><rect x="254" width="2" fill="#58009f"/><rect x="256" width="2" fill="#63009e"/><rect x="258" width="2" fill="#6d009c"/><rect x="260" width="2" fill="#6d009c"/><rect x="262" width="2" fill="#78009b"/><rect x="264" width="6" fill="#83009a"/></g><g transform="translate(0 210)"><rect x="190" width="12" fill="#0000c5"/><rect x="202" width="16" fill="#0000c1"/><rect x="218" width="4" fill="#0000c1"/><rect x="222" width="4" fill="#0000bd"/><rect x="226" width="2" fill="#0000b9"/><rect x="228" width="2" fill="#0000b5"/><rect x="230" width="2" fill="#0000b1"/><rect x="232" width="2" fill="#0000ad"/><rect x="234" width="2" fill="#0300aa"/><rect x="236" width="2" fill="#0d00a8"/><rect x="238" width="2" fill="#1800a7"/><rect x="240" width="2" fill="#2300a6"/><rect x="242" width="2" fill="#2d00a4"/><rect x="244" width="2" fill="#3800a3"/><rect x="246" width="2" fill="#4300a2"/><rect x="248" width="2" fill="#4300a2"/><rect x="250" width="2" fill="#4d00a0"/><rect x="252" width="2" fill="#58009f"/><rect x="254" width="2" fill="#58009f"/><rect x="256" width="2" fill="#63009e"/><rect x="258" width="2" fill="#6d009c"/><rect x="260" width="4" fill="#6d009c"/><rect x="264" width="6" fill="#78009b"/></g><g transform="translate(0 212)"><rect x="190" width="12" fill="#0000c5"/><rect x="202" width="16" fill="#0000c1"/><rect x="218" width="6" fill="#0000c1"/><rect x="224" width="2" fill="#0000bd"/><rect x="226" width="2" fill="#0000b9"/><rect x="228" width="2" fill="#0000b9"/><rect x="230" width="2" fill="#0000b1"/><rect x="232" width="2" fill="#0000b1"/><rect x="234" width="2" fill="#0000ad"/><rect x="236" width="2" fill="#0300aa"/><rect x="238" width="2" fill="#0d00a8"/><rect x="240" width="2" fill="#2300a6"/><rect x="242" width="2" fill="#2300a6"/><rect x="244" width="2" fill="#3800a3"/><rect x="246" width="2" fill="#3800a3"/><rect x="248" width="2" fill="#4300a2"/><rect x="250" width="2" fill="#4300a2"/><rect x="252" width="2" fill="#4d00a0"/><rect x="254" width="2" fill="#58009f"/><rect x="256" width="2" fill="#58009f"/><rect x="258" width="2" fill="#63009e"/><rect x="260" width="2" fill="#6d009c"/><rect x="262" width="6" fill="#6d009c"/><rect x="268" width="2" fill="#78009b"/></g><g transform="translate(0 214)"><rect x="192" width="14" fill="#0000c5"/><rect x="206" width="14" fill="#0000c1"/><rect x="220" width="4" fill="#0000c1"/><rect x="224" width="2" fill="#0000bd"/><rect x="226" width="2" fill="#0000b9"/><rect x="228" width="2" fill="#0000b9"/><rect x="230" width="2" fill="#0000b5"/><rect x="232" width="2" fill="#0000b1"/><rect x="234" width="2" fill="#0000ad"/><rect x="236" width="2" fill="#0300aa"/><rect x="238" width="2" fill="#0d00a8"/><rect x="240" width="2" fill="#1800a7"/><rect x="242" width="2" fill="#2300a6"/><rect x="244" width="2" fill="#2d00a4"/><rect x="246" width="2" fill="#3800a3"/><rect x="248" width="2" fill="#3800a3"/><rect x="250" width="2" fill="#4300a2"/><rect x="252" width="2" fill="#4300a2"/><rect x="254" width="2" fill="#4d00a0"/><rect x="256" width="2" fill="#58009f"/><rect x="258" width="2" fill="#58009f"/><rect x="260" width="2" fill="#63009e"/><rect x="262" width="4" fill="#6d009c"/><rect x="266" width="4" fill="#6d009c"/></g><g transform="translate(0 216)"><rect x="194" width="14" fill="#0000c5"/><rect x="208" width="12" fill="#0000c1"/><rect x="220" width="4" fill="#0000c1"/><rect x="224" width="2" fill="#0000bd"/><rect x="226" width="2" fill="#0000b9"/><rect x="228" width="2" fill="#0000b9"/><rect x="230" width="2" fill="#0000b5"/><rect x="232" width="2" fill="#0000b1"/><rect x="234" width="2" fill="#0000b1"/><rect x="236" width="2" fill="#0000ad"/><rect x="238" width="2" fill="#0300aa"/><rect x="240" width="2" fill="#0d00a8"/><rect x="242" width="2" fill="#1800a7"/><rect x="244" width="2" fill="#2300a6"/><rect x="246" width="2" fill="#2d00a4"/><rect x="248" width="2" fill="#3800a3"/><rect x="250" width="2" fill="#3800a3"/><rect x="252" width="2" fill="#4300a2"/><rect x="254" width="2" fill="#4300a2"/><rect x="256" width="2" fill="#4d00a0"/><rect x="258" width="2" fill="#58009f"/><rect x="260" width="2" fill="#58009f"/></g><g transform="translate(0 218)"><rect x="196" width="14" fill="#0000c5"/><rect x="210" width="12" fill="#0000c1"/><rect x="222" width="2" fill="#0000c1"/><rect x="224" width="4" fill="#0000bd"/><rect x="228" width="2" fill="#0000b9"/><rect x="230" width="2" fill="#0000b9"/><rect x="232" width="2" fill="#0000b5"/><rect x="234" width="2" fill="#0000b1"/><rect x="236" width="2" fill="#0000ad"/><rect x="238" width="2" fill="#0000ad"/><rect x="240" width="2" fill="#0300aa"/><rect x="242" width="2" fill="#0d00a8"/><rect x="244" width="2" fill="#1800a7"/><rect x="246" width="2" fill="#2300a6"/><rect x="248" width="2" fill="#2d00a4"/><rect x="250" width="2" fill="#3800a3"/><rect x="252" width="2" fill="#3800a3"/><rect x="254" width="2" fill="#4300a2"/><rect x="256" width="2" fill="#4300a2"/><rect x="258" width="2" fill="#4d00a0"/></g><g transform="translate(0 220)"><rect x="196" width="18" fill="#0000c5"/><rect x="214" width="8" fill="#0000c1"/><rect x="222" width="4" fill="#0000c1"/><rect x="226" width="2" fill="#0000bd"/><rect x="228" width="4" fill="#0000b9"/><rect x="232" width="2" fill="#0000b9"/><rect x="234" width="2" fill="#0000b1"/><rect x="236" width="2" fill="#0000b1"/><rect x="238" width="2" fill="#0000ad"/><rect x="240" width="2" fill="#0000ad"/><rect x="242" width="2" fill="#0d00a8"/><rect x="244" width="2" fill="#0d00a8"/><rect x="246" width="2" fill="#1800a7"/><rect x="248" width="2" fill="#2300a6"/><rect x="250" width="2" fill="#2d00a4"/><rect x="252" width="2" fill="#3800a3"/><rect x="254" width="2" fill="#3800a3"/><rect x="256" width="2" fill="#4300a2"/></g><g transform="translate(0 222)"><rect x="196" width="2" fill="#0000c9"/><rect x="198" width="20" fill="#0000c5"/><rect x="218" width="6" fill="#0000c1"/><rect x="224" width="4" fill="#0000c1"/><rect x="228" width="2" fill="#0000bd"/><rect x="230" width="2" fill="#0000b9"/><rect x="232" width="2" fill="#0000b9"/><rect x="234" width="2" fill="#0000b5"/><rect x="236" width="2" fill="#0000b1"/><rect x="238" width="2" fill="#0000b1"/><rect x="240" width="2" fill="#0000ad"/><rect x="242" width="2" fill="#0000ad"/><rect x="244" width="2" fill="#0d00a8"/><rect x="246" width="2" fill="#0d00a8"/><rect x="248" width="2" fill="#2300a6"/><rect x="250" width="2" fill="#2300a6"/><rect x="252" width="2" fill="#2d00a4"/><rect x="254" width="2" fill="#3800a3"/><rect x="256" width="2" fill="#3800a3"/></g><g transform="translate(0 224)"><rect x="196" width="4" fill="#0000c9"/><rect x="200" width="20" fill="#0000c5"/><rect x="220" width="4" fill="#0000c1"/><rect x="224" width="4" fill="#0000c1"/><rect x="228" width="4" fill="#0000bd"/><rect x="232" width="2" fill="#0000b9"/><rect x="234" width="2" fill="#0000b9"/><rect x="236" width="2" fill="#0000b5"/><rect x="238" width="2" fill="#0000b1"/><rect x="240" width="2" fill="#0000ad"/><rect x="242" width="2" fill="#0000ad"/><rect x="244" width="2" fill="#0300aa"/><rect x="246" width="2" fill="#0d00a8"/><rect x="248" width="2" fill="#1800a7"/></g><g transform="translate(0 226)"><rect x="196" width="6" fill="#0000c9"/><rect x="202" width="20" fill="#0000c5"/><rect x="222" width="4" fill="#0000c1"/><rect x="226" width="4" fill="#0000c1"/><rect x="230" width="2" fill="#0000bd"/><rect x="232" width="2" fill="#0000b9"/><rect x="234" width="2" fill="#0000b9"/><rect x="236" width="2" fill="#0000b5"/><rect x="238" width="2" fill="#0000b1"/><rect x="240" width="2" fill="#0000b1"/><rect x="242" width="2" fill="#0000ad"/><rect x="244" width="2" fill="#0000ad"/><rect x="246" width="2" fill="#0d00a8"/></g><g transform="translate(0 228)"><rect x="196" width="8" fill="#0000c9"/><rect x="204" width="18" fill="#0000c5"/><rect x="222" width="4" fill="#0000c1"/><rect x="226" width="4" fill="#0000c1"/><rect x="230" width="2" fill="#0000bd"/><rect x="232" width="4" fill="#0000b9"/><rect x="236" width="2" fill="#0000b9"/><rect x="238" width="2" fill="#0000b5"/><rect x="240" width="2" fill="#0000b1"/><rect x="242" width="2" fill="#0000ad"/><rect x="244" width="2" fill="#0000ad"/></g><g transform="translate(0 230)"><rect x="196" width="12" fill="#0000c9"/><rect x="208" width="14" fill="#0000c5"/><rect x="222" width="4" fill="#0000c1"/><rect x="226" width="4" fill="#0000c1"/><rect x="230" width="2" fill="#0000bd"/><rect x="232" width="4" fill="#0000b9"/><rect x="236" width="2" fill="#0000b9"/><rect x="238" width="2" fill="#0000b5"/><rect x="240" width="2" fill="#0000b1"/></g><g transform="translate(0 232)"><rect x="196" width="16" fill="#0000c9"/><rect x="212" width="10" fill="#0000c5"/><rect x="222" width="4" fill="#0000c1"/><rect x="226" width="4" fill="#0000c1"/><rect x="230" width="4" fill="#0000bd"/><rect x="234" width="2" fill="#0000b9"/><rect x="236" width="2" fill="#0000b9"/><rect x="238" width="2" fill="#0000b5"/></g><g transform="translate(0 234)"><rect x="198" width="14" fill="#0000c9"/><rect x="212" width="10" fill="#0000c5"/><rect x="222" width="4" fill="#0000c1"/><rect x="226" width="4" fill="#0000c1"/><rect x="230" width="4" fill="#0000bd"/><rect x="234" width="2" fill="#0000b9"/><rect x="236" width="2" fill="#0000b9"/><rect x="238" width="2" fill="#0000b5"/></g><g transform="translate(0 236)"><rect x="200" width="14" fill="#0000c9"/><rect x="214" width="8" fill="#0000c5"/><rect x="222" width="4" fill="#0000c1"/><rect x="226" width="4" fill="#0000c1"/><rect x="230" width="4" fill="#0000bd"/><rect x="234" width="2" fill="#0000b9"/></g><g transform="translate(0 238)"><rect x="186" width="4" fill="#0000c9"/><rect x="200" width="14" fill="#0000c9"/><rect x="214" width="8" fill="#0000c5"/><rect x="222" width="4" fill="#0000c1"/><rect x="226" width="2" fill="#0000c1"/></g><g transform="translate(0 240)"><rect x="186" width="6" fill="#0000c9"/><rect x="200" width="14" fill="#0000c9"/><rect x="214" width="8" fill="#0000c5"/><rect x="222" width="2" fill="#0000c1"/></g><g transform="translate(0 242)"><rect x="182" width="4" fill="#0000cd"/><rect x="186" width="18" fill="#0000c9"/><rect x="204" width="12" fill="#0000c9"/><rect x="216" width="6" fill="#0000c5"/><rect x="222" width="2" fill="#0000c1"/></g><g transform="translate(0 244)"><rect x="182" width="6" fill="#0000cd"/><rect x="188" width="18" fill="#0000c9"/><rect x="206" width="10" fill="#0000c9"/><rect x="216" width="6" fill="#0000c5"/></g><g transform="translate(0 246)"><rect x="182" width="8" fill="#0000cd"/><rect x="190" width="18" fill="#0000c9"/><rect x="208" width="6" fill="#0000c9"/></g><g transform="translate(0 248)"><rect x="182" width="8" fill="#0000cd"/><rect x="190" width="20" fill="#0000c9"/><rect x="210" width="4" fill="#0000c9"/></g><g transform="translate(0 250)"><rect x="182" width="10" fill="#0000cd"/><rect x="192" width="18" fill="#0000c9"/><rect x="210" width="4" fill="#0000c9"/></g><g transform="translate(0 252)"><rect x="184" width="10" fill="#0000cd"/><rect x="194" width="16" fill="#0000c9"/><rect x="210" width="4" fill="#0000c9"/></g><g transform="translate(0 254)"><rect x="184" width="14" fill="#0000cd"/><rect x="198" width="12" fill="#0000c9"/><rect x="210" width="4" fill="#0000c9"/></g><g transform="translate(0 256)"><rect x="184" width="20" fill="#0000cd"/><rect x="204" width="8" fill="#0000c9"/><rect x="212" width="2" fill="#0000c9"/></g><g transform="translate(0 258)"><rect x="186" width="18" fill="#0000cd"/><rect x="204" width="8" fill="#0000c9"/><rect x="212" width="2" fill="#0000c9"/></g><g transform="translate(0 260)"><rect x="186" width="18" fill="#0000cd"/><rect x="204" width="6" fill="#0000c9"/><rect x="210" width="4" fill="#0000c9"/></g><g transform="translate(0 262)"><rect x="186" width="16" fill="#0000cd"/><rect x="202" width="8" fill="#0000c9"/><rect x="210" width="4" fill="#0000c9"/></g><g transform="translate(0 264)"><rect x="188" width="12" fill="#0000cd"/><rect x="200" width="10" fill="#0000c9"/></g><g transform="translate(0 266)"><rect x="188" width="10" fill="#0000cd"/><rect x="198" width="10" fill="#0000c9"/></g><g transform="translate(0 268)"><rect x="188" width="10" fill="#0000cd"/><rect x="198" width="8" fill="#0000c9"/></g><g transform="translate(0 270)"><rect x="188" width="10" fill="#0000cd"/><rect x="198" width="6" fill="#0000c9"/></g><g transform="translate(0 272)"><rect x="188" width="10" fill="#0000cd"/><rect x="198" width="6" fill="#0000c9"/></g><g transform="translate(0 274)"><rect x="190" width="6" fill="#0000cd"/><rect x="196" width="6" fill="#0000c9"/></g><g transform="translate(0 276)"><rect x="190" width="6" fill="#0000cd"/><rect x="196" width="4" fill="#0000c9"/></g><g transform="translate(0 278)"><rect x="190" width="4" fill="#0000cd"/><rect x="194" width="6" fill="#0000c9"/></g><g transform="translate(0 280)"><rect x="192" width="2" fill="#0000cd"/><rect x="194" width="4" fill="#0000c9"/></g><g transform="translate(0 282)"><rect x="194" width="2" fill="#0000c9"/></g></g></g><rect x="172.4" y="166.45" width="110.05" height="116.05" fill="none" stroke="#1c1c1c" stroke-width="0.67"/><rect x="289.5" y="164.35" width="6" height="120.5" fill="url(#gs)" stroke="#1c1c1c" stroke-width="0.67"/><path d="M295.5 284.85h2.4" stroke="#1c1c1c" stroke-width="0.67"/><path d="M295.5 260.75h2.4" stroke="#1c1c1c" stroke-width="0.67"/><path d="M295.5 236.65h2.4" stroke="#1c1c1c" stroke-width="0.67"/><path d="M295.5 212.55h2.4" stroke="#1c1c1c" stroke-width="0.67"/><path d="M295.5 188.45h2.4" stroke="#1c1c1c" stroke-width="0.67"/><path d="M295.5 164.35h2.4" stroke="#1c1c1c" stroke-width="0.67"/><g transform="translate(338.95 166.45) scale(1 0.99443)" clip-path="url(#mp)"><g transform="scale(1 1.0056) translate(-338.95 -166.45)" filter="url(#bl)" shape-rendering="crispEdges" class="m"><g transform="translate(0 166)"><rect x="378" width="4" fill="#dfdbd9"/></g><g transform="translate(0 168)"><rect x="376" width="6" fill="#dddcdc"/><rect x="382" width="2" fill="#e2dad5"/></g><g transform="translate(0 170)"><rect x="346" width="2" fill="#f5c4ac"/><rect x="348" width="2" fill="#f3c7b1"/><rect x="374" width="2" fill="#e2dad5"/><rect x="376" width="2" fill="#dddcdc"/><rect x="378" width="2" fill="#dadce0"/><rect x="380" width="2" fill="#dddcdc"/><rect x="382" width="2" fill="#e2dad5"/><rect x="384" width="2" fill="#e7d7ce"/><rect x="386" width="2" fill="#ead5c9"/><rect x="388" width="2" fill="#edd1c2"/><rect x="420" width="2" fill="#ead5c9"/><rect x="422" width="2" fill="#dfdbd9"/><rect x="424" width="2" fill="#d7dce3"/><rect x="426" width="2" fill="#d2dbe8"/><rect x="428" width="2" fill="#cedaeb"/><rect x="430" width="4" fill="#ccd9ed"/></g><g transform="translate(0 172)"><rect x="346" width="4" fill="#f5c4ac"/><rect x="350" width="2" fill="#f2cab5"/><rect x="352" width="2" fill="#f1ccb8"/><rect x="354" width="2" fill="#efcebd"/><rect x="356" width="4" fill="#edd1c2"/><rect x="360" width="2" fill="#ecd3c5"/><rect x="368" width="4" fill="#ead5c9"/><rect x="372" width="2" fill="#e7d7ce"/><rect x="374" width="2" fill="#e5d8d1"/><rect x="376" width="2" fill="#dfdbd9"/><rect x="378" width="2" fill="#dddcdc"/><rect x="380" width="2" fill="#dfdbd9"/><rect x="382" width="2" fill="#e2dad5"/><rect x="384" width="2" fill="#e7d7ce"/><rect x="386" width="2" fill="#ecd3c5"/><rect x="388" width="2" fill="#edd1c2"/><rect x="390" width="2" fill="#f1ccb8"/><rect x="392" width="2" fill="#f2cab5"/><rect x="396" width="2" fill="#f5c4ac"/><rect x="398" width="2" fill="#f5c1a9"/><rect x="400" width="2" fill="#f7ba9f"/><rect x="404" width="2" fill="#f7b497"/><rect x="406" width="2" fill="#f7b093"/><rect x="408" width="2" fill="#f7ad90"/><rect x="410" width="2" fill="#f7b093"/><rect x="412" width="2" fill="#f7b497"/><rect x="414" width="2" fill="#f7b89c"/><rect x="416" width="2" fill="#f5c1a9"/><rect x="418" width="2" fill="#f1ccb8"/><rect x="420" width="2" fill="#e7d7ce"/><rect x="422" width="2" fill="#dadce0"/><rect x="424" width="2" fill="#d2dbe8"/><rect x="426" width="2" fill="#ccd9ed"/><rect x="428" width="4" fill="#c9d7f0"/><rect x="432" width="2" fill="#ccd9ed"/></g><g transform="translate(0 174)"><rect x="344" width="4" fill="#f5c4ac"/><rect x="348" width="2" fill="#f3c7b1"/><rect x="350" width="2" fill="#f2cab5"/><rect x="352" width="2" fill="#efcebd"/><rect x="354" width="4" fill="#edd1c2"/><rect x="358" width="14" fill="#ecd3c5"/><rect x="372" width="2" fill="#ead5c9"/><rect x="374" width="2" fill="#e7d7ce"/><rect x="376" width="6" fill="#e5d8d1"/><rect x="382" width="2" fill="#e7d7ce"/><rect x="384" width="2" fill="#ead5c9"/><rect x="386" width="2" fill="#edd1c2"/><rect x="388" width="2" fill="#efcebd"/><rect x="390" width="4" fill="#f1ccb8"/><rect x="396" width="2" fill="#f3c7b1"/><rect x="398" width="2" fill="#f5c1a9"/><rect x="400" width="2" fill="#f6bea4"/><rect x="402" width="2" fill="#f7ba9f"/><rect x="404" width="2" fill="#f7b89c"/><rect x="406" width="4" fill="#f7b093"/><rect x="410" width="2" fill="#f7b497"/><rect x="412" width="2" fill="#f7b89c"/><rect x="414" width="2" fill="#f7ba9f"/><rect x="416" width="2" fill="#f5c1a9"/><rect x="418" width="2" fill="#edd1c2"/><rect x="420" width="2" fill="#dfdbd9"/><rect x="422" width="2" fill="#d5dbe5"/><rect x="424" width="8" fill="#c9d7f0"/><rect x="432" width="4" fill="#ccd9ed"/></g><g transform="translate(0 176)"><rect x="342" width="6" fill="#f3c7b1"/><rect x="348" width="2" fill="#f2cab5"/><rect x="350" width="2" fill="#efcebd"/><rect x="352" width="2" fill="#edd1c2"/><rect x="354" width="8" fill="#ecd3c5"/><rect x="362" width="6" fill="#edd1c2"/><rect x="370" width="4" fill="#edd1c2"/><rect x="374" width="4" fill="#ecd3c5"/><rect x="378" width="4" fill="#ead5c9"/><rect x="382" width="2" fill="#ecd3c5"/><rect x="384" width="2" fill="#edd1c2"/><rect x="386" width="4" fill="#efcebd"/><rect x="390" width="6" fill="#f1ccb8"/><rect x="396" width="2" fill="#f2cab5"/><rect x="398" width="2" fill="#f3c7b1"/><rect x="400" width="4" fill="#f5c1a9"/><rect x="404" width="2" fill="#f6bea4"/><rect x="406" width="4" fill="#f7ba9f"/><rect x="410" width="2" fill="#f5c1a9"/><rect x="412" width="2" fill="#f5c4ac"/><rect x="414" width="2" fill="#f2cab5"/><rect x="416" width="2" fill="#efcebd"/><rect x="418" width="2" fill="#e5d8d1"/><rect x="420" width="2" fill="#d7dce3"/><rect x="422" width="2" fill="#ccd9ed"/><rect x="424" width="2" fill="#c3d5f4"/><rect x="426" width="2" fill="#c5d6f2"/><rect x="428" width="2" fill="#ccd9ed"/><rect x="430" width="4" fill="#cedaeb"/><rect x="434" width="2" fill="#ccd9ed"/></g><g transform="translate(0 178)"><rect x="340" width="6" fill="#f2cab5"/><rect x="346" width="2" fill="#f1ccb8"/><rect x="348" width="2" fill="#efcebd"/><rect x="350" width="2" fill="#edd1c2"/><rect x="352" width="2" fill="#ead5c9"/><rect x="354" width="2" fill="#e7d7ce"/><rect x="356" width="4" fill="#ead5c9"/><rect x="360" width="2" fill="#ecd3c5"/><rect x="362" width="4" fill="#edd1c2"/><rect x="366" width="10" fill="#efcebd"/><rect x="376" width="10" fill="#edd1c2"/><rect x="386" width="6" fill="#efcebd"/><rect x="392" width="4" fill="#edd1c2"/><rect x="396" width="2" fill="#efcebd"/><rect x="398" width="2" fill="#f1ccb8"/><rect x="400" width="4" fill="#f2cab5"/><rect x="404" width="4" fill="#f3c7b1"/><rect x="408" width="2" fill="#f2cab5"/><rect x="410" width="2" fill="#efcebd"/><rect x="412" width="2" fill="#ecd3c5"/><rect x="414" width="2" fill="#e7d7ce"/><rect x="416" width="2" fill="#e2dad5"/><rect x="418" width="2" fill="#dadce0"/><rect x="420" width="2" fill="#cedaeb"/><rect x="422" width="2" fill="#c3d5f4"/><rect x="424" width="2" fill="#bfd3f6"/><rect x="426" width="2" fill="#c5d6f2"/><rect x="428" width="2" fill="#ccd9ed"/><rect x="430" width="6" fill="#cedaeb"/></g><g transform="translate(0 180)"><rect x="338" width="4" fill="#f2cab5"/><rect x="342" width="4" fill="#f1ccb8"/><rect x="346" width="2" fill="#efcebd"/><rect x="348" width="2" fill="#edd1c2"/><rect x="350" width="2" fill="#ecd3c5"/><rect x="352" width="2" fill="#e7d7ce"/><rect x="354" width="2" fill="#e5d8d1"/><rect x="356" width="2" fill="#e7d7ce"/><rect x="358" width="2" fill="#ead5c9"/><rect x="360" width="2" fill="#ecd3c5"/><rect x="362" width="2" fill="#edd1c2"/><rect x="364" width="4" fill="#efcebd"/><rect x="368" width="10" fill="#f1ccb8"/><rect x="378" width="4" fill="#efcebd"/><rect x="382" width="8" fill="#edd1c2"/><rect x="390" width="4" fill="#ecd3c5"/><rect x="394" width="4" fill="#ead5c9"/><rect x="398" width="2" fill="#ecd3c5"/><rect x="400" width="6" fill="#edd1c2"/><rect x="406" width="2" fill="#ecd3c5"/><rect x="408" width="2" fill="#e7d7ce"/><rect x="410" width="2" fill="#e2dad5"/><rect x="412" width="2" fill="#dadce0"/><rect x="414" width="4" fill="#d7dce3"/><rect x="418" width="2" fill="#d2dbe8"/><rect x="420" width="2" fill="#c9d7f0"/><rect x="422" width="2" fill="#bbd1f8"/><rect x="424" width="2" fill="#bfd3f6"/><rect x="426" width="2" fill="#c3d5f4"/><rect x="428" width="2" fill="#c9d7f0"/><rect x="430" width="2" fill="#ccd9ed"/><rect x="432" width="4" fill="#cedaeb"/></g><g transform="translate(0 182)"><rect x="340" width="4" fill="#f1ccb8"/><rect x="344" width="4" fill="#efcebd"/><rect x="348" width="2" fill="#edd1c2"/><rect x="350" width="2" fill="#ead5c9"/><rect x="352" width="2" fill="#e7d7ce"/><rect x="354" width="2" fill="#e5d8d1"/><rect x="356" width="2" fill="#e7d7ce"/><rect x="358" width="2" fill="#ead5c9"/><rect x="360" width="2" fill="#edd1c2"/><rect x="362" width="2" fill="#efcebd"/><rect x="364" width="6" fill="#f1ccb8"/><rect x="370" width="6" fill="#f2cab5"/><rect x="376" width="2" fill="#f1ccb8"/><rect x="378" width="6" fill="#efcebd"/><rect x="384" width="4" fill="#edd1c2"/><rect x="388" width="2" fill="#ecd3c5"/><rect x="390" width="2" fill="#ead5c9"/><rect x="392" width="2" fill="#e7d7ce"/><rect x="394" width="2" fill="#e5d8d1"/><rect x="396" width="2" fill="#e2dad5"/><rect x="398" width="2" fill="#e7d7ce"/><rect x="400" width="4" fill="#ead5c9"/><rect x="404" width="2" fill="#e7d7ce"/><rect x="406" width="2" fill="#e5d8d1"/><rect x="408" width="2" fill="#dddcdc"/><rect x="410" width="2" fill="#d5dbe5"/><rect x="412" width="2" fill="#ccd9ed"/><rect x="414" width="2" fill="#c9d7f0"/><rect x="416" width="2" fill="#cedaeb"/><rect x="418" width="2" fill="#d2dbe8"/><rect x="420" width="2" fill="#cedaeb"/><rect x="422" width="2" fill="#c5d6f2"/><rect x="424" width="2" fill="#c3d5f4"/><rect x="426" width="2" fill="#c5d6f2"/><rect x="428" width="2" fill="#c9d7f0"/><rect x="430" width="2" fill="#ccd9ed"/><rect x="432" width="4" fill="#cedaeb"/></g><g transform="translate(0 184)"><rect x="342" width="2" fill="#f1ccb8"/><rect x="344" width="4" fill="#efcebd"/><rect x="348" width="2" fill="#edd1c2"/><rect x="350" width="2" fill="#ecd3c5"/><rect x="352" width="6" fill="#ead5c9"/><rect x="358" width="2" fill="#ecd3c5"/><rect x="360" width="2" fill="#edd1c2"/><rect x="362" width="2" fill="#efcebd"/><rect x="364" width="2" fill="#f1ccb8"/><rect x="366" width="10" fill="#f2cab5"/><rect x="376" width="2" fill="#f1ccb8"/><rect x="378" width="4" fill="#efcebd"/><rect x="382" width="2" fill="#edd1c2"/><rect x="384" width="2" fill="#ecd3c5"/><rect x="386" width="2" fill="#ead5c9"/><rect x="388" width="4" fill="#e7d7ce"/><rect x="392" width="2" fill="#e5d8d1"/><rect x="394" width="4" fill="#e2dad5"/><rect x="398" width="2" fill="#e5d8d1"/><rect x="400" width="4" fill="#e7d7ce"/><rect x="404" width="2" fill="#e5d8d1"/><rect x="406" width="2" fill="#dfdbd9"/><rect x="408" width="2" fill="#d5dbe5"/><rect x="410" width="2" fill="#ccd9ed"/><rect x="412" width="4" fill="#c5d6f2"/><rect x="416" width="2" fill="#cedaeb"/><rect x="418" width="4" fill="#d7dce3"/><rect x="422" width="2" fill="#cedaeb"/><rect x="424" width="6" fill="#c9d7f0"/><rect x="430" width="6" fill="#cedaeb"/></g><g transform="translate(0 186)"><rect x="344" width="4" fill="#efcebd"/><rect x="348" width="4" fill="#edd1c2"/><rect x="352" width="6" fill="#ecd3c5"/><rect x="358" width="2" fill="#edd1c2"/><rect x="360" width="2" fill="#efcebd"/><rect x="362" width="2" fill="#f1ccb8"/><rect x="364" width="6" fill="#f2cab5"/><rect x="370" width="2" fill="#f3c7b1"/><rect x="372" width="4" fill="#f2cab5"/><rect x="376" width="2" fill="#f1ccb8"/><rect x="378" width="2" fill="#efcebd"/><rect x="380" width="2" fill="#edd1c2"/><rect x="382" width="2" fill="#ecd3c5"/><rect x="384" width="2" fill="#ead5c9"/><rect x="386" width="2" fill="#e7d7ce"/><rect x="388" width="2" fill="#e5d8d1"/><rect x="390" width="4" fill="#e2dad5"/><rect x="394" width="2" fill="#dfdbd9"/><rect x="396" width="2" fill="#e2dad5"/><rect x="398" width="2" fill="#e5d8d1"/><rect x="400" width="2" fill="#e7d7ce"/><rect x="402" width="2" fill="#ead5c9"/><rect x="404" width="2" fill="#e5d8d1"/><rect x="406" width="2" fill="#dadce0"/><rect x="408" width="2" fill="#cedaeb"/><rect x="410" width="2" fill="#c5d6f2"/><rect x="412" width="2" fill="#c3d5f4"/><rect x="414" width="2" fill="#c5d6f2"/><rect x="416" width="2" fill="#d2dbe8"/><rect x="418" width="4" fill="#dddcdc"/><rect x="422" width="2" fill="#d2dbe8"/><rect x="424" width="4" fill="#ccd9ed"/><rect x="428" width="2" fill="#cedaeb"/><rect x="430" width="4" fill="#d5dbe5"/><rect x="434" width="2" fill="#d2dbe8"/></g><g transform="translate(0 188)"><rect x="344" width="6" fill="#efcebd"/><rect x="350" width="8" fill="#edd1c2"/><rect x="358" width="4" fill="#efcebd"/><rect x="362" width="2" fill="#f1ccb8"/><rect x="364" width="6" fill="#f2cab5"/><rect x="370" width="2" fill="#f3c7b1"/><rect x="372" width="2" fill="#f2cab5"/><rect x="374" width="2" fill="#f1ccb8"/><rect x="376" width="2" fill="#efcebd"/><rect x="378" width="2" fill="#edd1c2"/><rect x="380" width="2" fill="#ecd3c5"/><rect x="382" width="2" fill="#ead5c9"/><rect x="384" width="2" fill="#e7d7ce"/><rect x="386" width="2" fill="#e5d8d1"/><rect x="388" width="2" fill="#e2dad5"/><rect x="390" width="8" fill="#dfdbd9"/><rect x="398" width="2" fill="#e2dad5"/><rect x="400" width="2" fill="#e5d8d1"/><rect x="402" width="2" fill="#e7d7ce"/><rect x="404" width="2" fill="#e5d8d1"/><rect x="406" width="2" fill="#dadce0"/><rect x="408" width="2" fill="#ccd9ed"/><rect x="410" width="2" fill="#c3d5f4"/><rect x="412" width="2" fill="#bfd3f6"/><rect x="414" width="2" fill="#c3d5f4"/><rect x="416" width="2" fill="#ccd9ed"/><rect x="418" width="4" fill="#d5dbe5"/><rect x="422" width="2" fill="#cedaeb"/><rect x="424" width="2" fill="#c9d7f0"/><rect x="426" width="2" fill="#cedaeb"/><rect x="428" width="2" fill="#d7dce3"/><rect x="430" width="4" fill="#dddcdc"/><rect x="434" width="2" fill="#d7dce3"/><rect x="436" width="4" fill="#d2dbe8"/></g><g transform="translate(0 190)"><rect x="346" width="14" fill="#efcebd"/><rect x="360" width="6" fill="#f1ccb8"/><rect x="366" width="8" fill="#f2cab5"/><rect x="374" width="2" fill="#f1ccb8"/><rect x="376" width="2" fill="#edd1c2"/><rect x="378" width="2" fill="#ecd3c5"/><rect x="380" width="2" fill="#ead5c9"/><rect x="382" width="2" fill="#e7d7ce"/><rect x="384" width="2" fill="#e5d8d1"/><rect x="386" width="2" fill="#e2dad5"/><rect x="388" width="2" fill="#dfdbd9"/><rect x="390" width="8" fill="#dddcdc"/><rect x="398" width="2" fill="#dfdbd9"/><rect x="400" width="4" fill="#e2dad5"/><rect x="404" width="2" fill="#dddcdc"/><rect x="406" width="2" fill="#d5dbe5"/><rect x="408" width="2" fill="#ccd9ed"/><rect x="410" width="2" fill="#c3d5f4"/><rect x="412" width="2" fill="#bfd3f6"/><rect x="414" width="2" fill="#bbd1f8"/><rect x="416" width="2" fill="#bfd3f6"/><rect x="418" width="2" fill="#c5d6f2"/><rect x="420" width="2" fill="#c9d7f0"/><rect x="422" width="4" fill="#c5d6f2"/><rect x="426" width="2" fill="#cedaeb"/><rect x="428" width="2" fill="#dddcdc"/><rect x="430" width="4" fill="#e7d7ce"/><rect x="434" width="2" fill="#dddcdc"/><rect x="436" width="2" fill="#d2dbe8"/><rect x="438" width="2" fill="#d5dbe5"/></g><g transform="translate(0 192)"><rect x="348" width="10" fill="#efcebd"/><rect x="358" width="14" fill="#f1ccb8"/><rect x="372" width="2" fill="#efcebd"/><rect x="374" width="4" fill="#edd1c2"/><rect x="378" width="2" fill="#ead5c9"/><rect x="380" width="2" fill="#e7d7ce"/><rect x="382" width="2" fill="#e5d8d1"/><rect x="384" width="2" fill="#e2dad5"/><rect x="386" width="2" fill="#dfdbd9"/><rect x="388" width="2" fill="#dddcdc"/><rect x="390" width="14" fill="#dadce0"/><rect x="404" width="2" fill="#d7dce3"/><rect x="406" width="2" fill="#cedaeb"/><rect x="408" width="2" fill="#c9d7f0"/><rect x="410" width="2" fill="#c3d5f4"/><rect x="412" width="2" fill="#bbd1f8"/><rect x="414" width="2" fill="#b9d0f9"/><rect x="416" width="2" fill="#bbd1f8"/><rect x="418" width="2" fill="#bfd3f6"/><rect x="420" width="2" fill="#c3d5f4"/><rect x="422" width="2" fill="#c5d6f2"/><rect x="424" width="2" fill="#c9d7f0"/><rect x="426" width="2" fill="#d7dce3"/><rect x="428" width="2" fill="#e7d7ce"/><rect x="430" width="2" fill="#f3c7b1"/><rect x="432" width="2" fill="#f5c1a9"/><rect x="434" width="2" fill="#edd1c2"/><rect x="436" width="4" fill="#dddcdc"/></g><g transform="translate(0 194)"><rect x="352" width="6" fill="#efcebd"/><rect x="358" width="6" fill="#f1ccb8"/><rect x="364" width="6" fill="#efcebd"/><rect x="370" width="4" fill="#edd1c2"/><rect x="374" width="4" fill="#ecd3c5"/><rect x="378" width="2" fill="#ead5c9"/><rect x="380" width="2" fill="#e7d7ce"/><rect x="382" width="2" fill="#e5d8d1"/><rect x="384" width="2" fill="#e2dad5"/><rect x="386" width="2" fill="#dfdbd9"/><rect x="388" width="2" fill="#dadce0"/><rect x="390" width="12" fill="#d7dce3"/><rect x="402" width="2" fill="#d5dbe5"/><rect x="404" width="2" fill="#cedaeb"/><rect x="406" width="2" fill="#ccd9ed"/><rect x="408" width="2" fill="#c5d6f2"/><rect x="410" width="2" fill="#bfd3f6"/><rect x="412" width="2" fill="#bbd1f8"/><rect x="414" width="2" fill="#b9d0f9"/><rect x="416" width="4" fill="#bbd1f8"/><rect x="420" width="2" fill="#bfd3f6"/><rect x="422" width="2" fill="#c3d5f4"/><rect x="424" width="2" fill="#ccd9ed"/><rect x="426" width="2" fill="#dadce0"/><rect x="428" width="2" fill="#edd1c2"/><rect x="430" width="2" fill="#f7b497"/><rect x="432" width="2" fill="#f29072"/><rect x="434" width="2" fill="#f6a283"/><rect x="436" width="2" fill="#f3c7b1"/><rect x="438" width="2" fill="#ecd3c5"/></g><g transform="translate(0 196)"><rect x="352" width="14" fill="#efcebd"/><rect x="366" width="4" fill="#edd1c2"/><rect x="370" width="4" fill="#ecd3c5"/><rect x="374" width="4" fill="#ead5c9"/><rect x="378" width="2" fill="#e7d7ce"/><rect x="380" width="4" fill="#e5d8d1"/><rect x="384" width="2" fill="#e2dad5"/><rect x="386" width="2" fill="#dfdbd9"/><rect x="388" width="2" fill="#dadce0"/><rect x="390" width="8" fill="#d7dce3"/><rect x="398" width="2" fill="#d5dbe5"/><rect x="400" width="2" fill="#d2dbe8"/><rect x="402" width="2" fill="#cedaeb"/><rect x="404" width="2" fill="#ccd9ed"/><rect x="406" width="2" fill="#c5d6f2"/><rect x="408" width="2" fill="#c3d5f4"/><rect x="410" width="2" fill="#bfd3f6"/><rect x="412" width="6" fill="#bbd1f8"/><rect x="418" width="2" fill="#bfd3f6"/><rect x="420" width="2" fill="#c3d5f4"/><rect x="422" width="2" fill="#c5d6f2"/><rect x="424" width="2" fill="#ccd9ed"/><rect x="426" width="2" fill="#dddcdc"/><rect x="428" width="2" fill="#efcebd"/><rect x="430" width="2" fill="#f7b093"/><rect x="432" width="4" fill="#f08b6e"/><rect x="436" width="2" fill="#f7b093"/><rect x="438" width="2" fill="#f3c7b1"/></g><g transform="translate(0 198)"><rect x="356" width="10" fill="#edd1c2"/><rect x="366" width="4" fill="#ecd3c5"/><rect x="370" width="6" fill="#ead5c9"/><rect x="376" width="6" fill="#e7d7ce"/><rect x="382" width="2" fill="#e5d8d1"/><rect x="384" width="4" fill="#e2dad5"/><rect x="388" width="2" fill="#dfdbd9"/><rect x="390" width="2" fill="#dddcdc"/><rect x="392" width="2" fill="#dadce0"/><rect x="394" width="2" fill="#d7dce3"/><rect x="396" width="2" fill="#d5dbe5"/><rect x="398" width="2" fill="#d2dbe8"/><rect x="400" width="2" fill="#cedaeb"/><rect x="402" width="2" fill="#ccd9ed"/><rect x="404" width="2" fill="#c5d6f2"/><rect x="406" width="2" fill="#c3d5f4"/><rect x="408" width="10" fill="#bfd3f6"/><rect x="418" width="2" fill="#c3d5f4"/><rect x="420" width="2" fill="#c5d6f2"/><rect x="422" width="2" fill="#c9d7f0"/><rect x="424" width="2" fill="#cedaeb"/><rect x="426" width="2" fill="#dddcdc"/><rect x="428" width="2" fill="#ecd3c5"/><rect x="430" width="2" fill="#f3c7b1"/><rect x="432" width="2" fill="#f7b89c"/><rect x="434" width="2" fill="#f7b093"/><rect x="436" width="2" fill="#f7b89c"/><rect x="438" width="2" fill="#f5c1a9"/></g><g transform="translate(0 200)"><rect x="358" width="4" fill="#edd1c2"/><rect x="362" width="4" fill="#ecd3c5"/><rect x="366" width="4" fill="#ead5c9"/><rect x="370" width="14" fill="#e7d7ce"/><rect x="384" width="4" fill="#e5d8d1"/><rect x="388" width="4" fill="#e2dad5"/><rect x="392" width="2" fill="#dddcdc"/><rect x="394" width="2" fill="#dadce0"/><rect x="396" width="2" fill="#d7dce3"/><rect x="398" width="2" fill="#d2dbe8"/><rect x="400" width="2" fill="#cedaeb"/><rect x="402" width="2" fill="#c9d7f0"/><rect x="404" width="2" fill="#c5d6f2"/><rect x="406" width="2" fill="#c3d5f4"/><rect x="408" width="6" fill="#bfd3f6"/><rect x="414" width="2" fill="#c3d5f4"/><rect x="416" width="2" fill="#c5d6f2"/><rect x="418" width="2" fill="#c9d7f0"/><rect x="420" width="2" fill="#ccd9ed"/><rect x="422" width="2" fill="#cedaeb"/><rect x="424" width="2" fill="#d2dbe8"/><rect x="426" width="2" fill="#dddcdc"/><rect x="428" width="2" fill="#e7d7ce"/><rect x="430" width="2" fill="#ecd3c5"/><rect x="432" width="2" fill="#ead5c9"/><rect x="434" width="2" fill="#f3c7b1"/></g><g transform="translate(0 202)"><rect x="358" width="4" fill="#ecd3c5"/><rect x="362" width="4" fill="#ead5c9"/><rect x="366" width="2" fill="#e7d7ce"/><rect x="368" width="10" fill="#e5d8d1"/><rect x="378" width="6" fill="#e7d7ce"/><rect x="384" width="4" fill="#ead5c9"/><rect x="388" width="4" fill="#e7d7ce"/><rect x="392" width="2" fill="#e2dad5"/><rect x="394" width="2" fill="#dddcdc"/><rect x="396" width="2" fill="#d7dce3"/><rect x="398" width="2" fill="#d2dbe8"/><rect x="400" width="2" fill="#ccd9ed"/><rect x="402" width="2" fill="#c5d6f2"/><rect x="404" width="2" fill="#c3d5f4"/><rect x="406" width="6" fill="#bfd3f6"/><rect x="412" width="2" fill="#c3d5f4"/><rect x="414" width="2" fill="#c9d7f0"/><rect x="416" width="2" fill="#ccd9ed"/><rect x="418" width="2" fill="#cedaeb"/><rect x="420" width="2" fill="#d2dbe8"/><rect x="422" width="2" fill="#d5dbe5"/><rect x="424" width="2" fill="#dadce0"/><rect x="426" width="2" fill="#e2dad5"/><rect x="428" width="2" fill="#ead5c9"/><rect x="430" width="2" fill="#edd1c2"/><rect x="432" width="2" fill="#efcebd"/></g><g transform="translate(0 204)"><rect x="358" width="2" fill="#ead5c9"/><rect x="360" width="4" fill="#e7d7ce"/><rect x="364" width="4" fill="#e5d8d1"/><rect x="368" width="8" fill="#e2dad5"/><rect x="376" width="2" fill="#e5d8d1"/><rect x="378" width="2" fill="#e7d7ce"/><rect x="380" width="4" fill="#ead5c9"/><rect x="384" width="8" fill="#ecd3c5"/><rect x="392" width="2" fill="#e7d7ce"/><rect x="394" width="2" fill="#e2dad5"/><rect x="396" width="2" fill="#dadce0"/><rect x="398" width="2" fill="#d5dbe5"/><rect x="400" width="2" fill="#cedaeb"/><rect x="402" width="2" fill="#c5d6f2"/><rect x="404" width="6" fill="#bfd3f6"/><rect x="410" width="2" fill="#c3d5f4"/><rect x="412" width="2" fill="#c5d6f2"/><rect x="414" width="2" fill="#ccd9ed"/><rect x="416" width="2" fill="#d2dbe8"/><rect x="418" width="2" fill="#d7dce3"/><rect x="420" width="2" fill="#dadce0"/><rect x="422" width="2" fill="#dddcdc"/><rect x="424" width="2" fill="#e2dad5"/><rect x="426" width="2" fill="#ecd3c5"/><rect x="428" width="2" fill="#f1ccb8"/><rect x="430" width="2" fill="#f3c7b1"/><rect x="432" width="4" fill="#f5c1a9"/><rect x="436" width="2" fill="#f6bea4"/></g><g transform="translate(0 206)"><rect x="356" width="2" fill="#e7d7ce"/><rect x="358" width="4" fill="#e5d8d1"/><rect x="362" width="4" fill="#e2dad5"/><rect x="366" width="4" fill="#dfdbd9"/><rect x="370" width="2" fill="#dddcdc"/><rect x="372" width="2" fill="#dfdbd9"/><rect x="374" width="2" fill="#e2dad5"/><rect x="376" width="2" fill="#e5d8d1"/><rect x="378" width="2" fill="#e7d7ce"/><rect x="380" width="2" fill="#ead5c9"/><rect x="382" width="4" fill="#ecd3c5"/><rect x="386" width="6" fill="#edd1c2"/><rect x="392" width="2" fill="#ead5c9"/><rect x="394" width="2" fill="#e5d8d1"/><rect x="396" width="2" fill="#dddcdc"/><rect x="398" width="2" fill="#d7dce3"/><rect x="400" width="2" fill="#d2dbe8"/><rect x="402" width="2" fill="#c9d7f0"/><rect x="404" width="2" fill="#c3d5f4"/><rect x="406" width="2" fill="#bfd3f6"/><rect x="408" width="4" fill="#c3d5f4"/><rect x="412" width="2" fill="#c9d7f0"/><rect x="414" width="2" fill="#cedaeb"/><rect x="416" width="2" fill="#d7dce3"/><rect x="418" width="2" fill="#dddcdc"/><rect x="420" width="2" fill="#e2dad5"/><rect x="422" width="2" fill="#e5d8d1"/><rect x="424" width="2" fill="#ecd3c5"/><rect x="426" width="2" fill="#f1ccb8"/><rect x="428" width="2" fill="#f5c1a9"/><rect x="430" width="2" fill="#f7ba9f"/><rect x="432" width="2" fill="#f7b497"/><rect x="434" width="2" fill="#f7b89c"/><rect x="436" width="2" fill="#f7ba9f"/></g><g transform="translate(0 208)"><rect x="356" width="2" fill="#e5d8d1"/><rect x="358" width="4" fill="#e2dad5"/><rect x="362" width="4" fill="#dfdbd9"/><rect x="366" width="4" fill="#dddcdc"/><rect x="370" width="2" fill="#dadce0"/><rect x="372" width="2" fill="#dddcdc"/><rect x="374" width="2" fill="#e2dad5"/><rect x="376" width="2" fill="#e5d8d1"/><rect x="378" width="2" fill="#e7d7ce"/><rect x="380" width="2" fill="#ead5c9"/><rect x="382" width="2" fill="#ecd3c5"/><rect x="384" width="8" fill="#edd1c2"/><rect x="392" width="2" fill="#ecd3c5"/><rect x="394" width="2" fill="#e7d7ce"/><rect x="396" width="2" fill="#e2dad5"/><rect x="398" width="2" fill="#dadce0"/><rect x="400" width="2" fill="#d5dbe5"/><rect x="402" width="2" fill="#cedaeb"/><rect x="404" width="2" fill="#c9d7f0"/><rect x="406" width="6" fill="#c5d6f2"/><rect x="412" width="2" fill="#ccd9ed"/><rect x="414" width="2" fill="#d5dbe5"/><rect x="416" width="2" fill="#dddcdc"/><rect x="418" width="2" fill="#e2dad5"/><rect x="420" width="2" fill="#e5d8d1"/><rect x="422" width="2" fill="#ead5c9"/><rect x="424" width="2" fill="#efcebd"/><rect x="426" width="2" fill="#f5c4ac"/><rect x="428" width="2" fill="#f7b89c"/><rect x="430" width="4" fill="#f7b093"/><rect x="434" width="4" fill="#f7b497"/></g><g transform="translate(0 210)"><rect x="356" width="2" fill="#e5d8d1"/><rect x="358" width="2" fill="#e2dad5"/><rect x="360" width="2" fill="#dfdbd9"/><rect x="362" width="6" fill="#dddcdc"/><rect x="368" width="4" fill="#dadce0"/><rect x="372" width="2" fill="#dddcdc"/><rect x="374" width="2" fill="#e2dad5"/><rect x="376" width="2" fill="#e5d8d1"/><rect x="378" width="2" fill="#e7d7ce"/><rect x="380" width="2" fill="#ead5c9"/><rect x="382" width="2" fill="#ecd3c5"/><rect x="384" width="4" fill="#edd1c2"/><rect x="388" width="2" fill="#efcebd"/><rect x="390" width="2" fill="#edd1c2"/><rect x="392" width="2" fill="#ecd3c5"/><rect x="394" width="2" fill="#ead5c9"/><rect x="396" width="2" fill="#e5d8d1"/><rect x="398" width="2" fill="#dfdbd9"/><rect x="400" width="2" fill="#dadce0"/><rect x="402" width="2" fill="#d5dbe5"/><rect x="404" width="2" fill="#cedaeb"/><rect x="406" width="4" fill="#ccd9ed"/><rect x="410" width="2" fill="#cedaeb"/><rect x="412" width="2" fill="#d5dbe5"/><rect x="414" width="2" fill="#dadce0"/><rect x="416" width="2" fill="#e2dad5"/><rect x="418" width="2" fill="#e5d8d1"/><rect x="420" width="2" fill="#e7d7ce"/><rect x="422" width="2" fill="#ecd3c5"/><rect x="424" width="2" fill="#f1ccb8"/><rect x="426" width="2" fill="#f5c1a9"/><rect x="428" width="2" fill="#f7b497"/><rect x="430" width="6" fill="#f7b093"/><rect x="436" width="2" fill="#f7b497"/></g><g transform="translate(0 212)"><rect x="358" width="2" fill="#e2dad5"/><rect x="360" width="2" fill="#dfdbd9"/><rect x="362" width="10" fill="#dddcdc"/><rect x="372" width="2" fill="#dfdbd9"/><rect x="374" width="2" fill="#e2dad5"/><rect x="376" width="2" fill="#e5d8d1"/><rect x="378" width="2" fill="#e7d7ce"/><rect x="380" width="4" fill="#ecd3c5"/><rect x="384" width="2" fill="#edd1c2"/><rect x="386" width="6" fill="#efcebd"/><rect x="392" width="2" fill="#edd1c2"/><rect x="394" width="2" fill="#ecd3c5"/><rect x="396" width="2" fill="#e7d7ce"/><rect x="398" width="2" fill="#e2dad5"/><rect x="400" width="2" fill="#dddcdc"/><rect x="402" width="2" fill="#dadce0"/><rect x="404" width="6" fill="#d5dbe5"/><rect x="410" width="2" fill="#d7dce3"/><rect x="412" width="2" fill="#dddcdc"/><rect x="414" width="2" fill="#e2dad5"/><rect x="416" width="2" fill="#e7d7ce"/><rect x="418" width="2" fill="#ead5c9"/><rect x="420" width="2" fill="#ecd3c5"/><rect x="422" width="2" fill="#edd1c2"/><rect x="424" width="2" fill="#f2cab5"/><rect x="426" width="2" fill="#f5c1a9"/><rect x="428" width="2" fill="#f7b89c"/><rect x="430" width="2" fill="#f7b497"/><rect x="432" width="4" fill="#f7b093"/></g><g transform="translate(0 214)"><rect x="358" width="4" fill="#e2dad5"/><rect x="362" width="10" fill="#dfdbd9"/><rect x="372" width="2" fill="#e2dad5"/><rect x="374" width="2" fill="#e5d8d1"/><rect x="376" width="2" fill="#e7d7ce"/><rect x="378" width="2" fill="#ead5c9"/><rect x="380" width="2" fill="#ecd3c5"/><rect x="382" width="4" fill="#edd1c2"/><rect x="386" width="6" fill="#efcebd"/><rect x="392" width="2" fill="#edd1c2"/><rect x="394" width="2" fill="#ecd3c5"/><rect x="396" width="2" fill="#ead5c9"/><rect x="398" width="2" fill="#e7d7ce"/><rect x="400" width="2" fill="#e2dad5"/><rect x="402" width="2" fill="#dfdbd9"/><rect x="404" width="6" fill="#dadce0"/><rect x="410" width="2" fill="#dddcdc"/><rect x="412" width="2" fill="#e2dad5"/><rect x="414" width="2" fill="#ead5c9"/><rect x="416" width="2" fill="#edd1c2"/><rect x="418" width="4" fill="#efcebd"/><rect x="422" width="2" fill="#f1ccb8"/><rect x="424" width="2" fill="#f3c7b1"/><rect x="426" width="2" fill="#f5c1a9"/><rect x="428" width="2" fill="#f7ba9f"/><rect x="430" width="6" fill="#f7b497"/></g><g transform="translate(0 216)"><rect x="360" width="12" fill="#e2dad5"/><rect x="372" width="4" fill="#e5d8d1"/><rect x="376" width="2" fill="#e7d7ce"/><rect x="378" width="2" fill="#ead5c9"/><rect x="380" width="2" fill="#ecd3c5"/><rect x="382" width="2" fill="#edd1c2"/><rect x="384" width="10" fill="#efcebd"/><rect x="394" width="2" fill="#edd1c2"/><rect x="396" width="2" fill="#ecd3c5"/><rect x="398" width="2" fill="#ead5c9"/><rect x="400" width="2" fill="#e7d7ce"/><rect x="402" width="2" fill="#e2dad5"/><rect x="404" width="2" fill="#dfdbd9"/><rect x="406" width="2" fill="#dddcdc"/><rect x="408" width="2" fill="#dfdbd9"/><rect x="410" width="2" fill="#e2dad5"/><rect x="412" width="2" fill="#e7d7ce"/><rect x="414" width="2" fill="#edd1c2"/><rect x="416" width="2" fill="#f1ccb8"/><rect x="418" width="4" fill="#f2cab5"/><rect x="422" width="2" fill="#f3c7b1"/><rect x="424" width="2" fill="#f5c4ac"/><rect x="426" width="2" fill="#f5c1a9"/></g><g transform="translate(0 218)"><rect x="362" width="10" fill="#e5d8d1"/><rect x="372" width="4" fill="#e7d7ce"/><rect x="376" width="2" fill="#ead5c9"/><rect x="378" width="4" fill="#ecd3c5"/><rect x="382" width="2" fill="#edd1c2"/><rect x="384" width="12" fill="#efcebd"/><rect x="396" width="2" fill="#edd1c2"/><rect x="398" width="2" fill="#ecd3c5"/><rect x="400" width="2" fill="#ead5c9"/><rect x="402" width="2" fill="#e5d8d1"/><rect x="404" width="6" fill="#e2dad5"/><rect x="410" width="2" fill="#e5d8d1"/><rect x="412" width="2" fill="#ead5c9"/><rect x="414" width="2" fill="#efcebd"/><rect x="416" width="2" fill="#f1ccb8"/><rect x="418" width="2" fill="#f2cab5"/><rect x="420" width="2" fill="#f3c7b1"/><rect x="422" width="2" fill="#f5c4ac"/><rect x="424" width="2" fill="#f5c1a9"/><rect x="426" width="2" fill="#f6bea4"/></g><g transform="translate(0 220)"><rect x="362" width="14" fill="#e7d7ce"/><rect x="376" width="2" fill="#ead5c9"/><rect x="378" width="2" fill="#ecd3c5"/><rect x="380" width="4" fill="#edd1c2"/><rect x="384" width="4" fill="#efcebd"/><rect x="388" width="6" fill="#f1ccb8"/><rect x="394" width="2" fill="#efcebd"/><rect x="396" width="4" fill="#edd1c2"/><rect x="400" width="2" fill="#ecd3c5"/><rect x="402" width="4" fill="#e7d7ce"/><rect x="406" width="4" fill="#e5d8d1"/><rect x="410" width="2" fill="#e7d7ce"/><rect x="412" width="2" fill="#ecd3c5"/><rect x="414" width="2" fill="#efcebd"/><rect x="416" width="2" fill="#f1ccb8"/><rect x="418" width="2" fill="#f2cab5"/><rect x="420" width="2" fill="#f3c7b1"/><rect x="422" width="2" fill="#f5c4ac"/></g><g transform="translate(0 222)"><rect x="362" width="18" fill="#ead5c9"/><rect x="380" width="2" fill="#ecd3c5"/><rect x="382" width="2" fill="#edd1c2"/><rect x="384" width="4" fill="#efcebd"/><rect x="388" width="8" fill="#f1ccb8"/><rect x="396" width="2" fill="#efcebd"/><rect x="398" width="2" fill="#edd1c2"/><rect x="400" width="2" fill="#ecd3c5"/><rect x="402" width="4" fill="#ead5c9"/><rect x="406" width="2" fill="#e7d7ce"/><rect x="408" width="4" fill="#ead5c9"/><rect x="412" width="2" fill="#ecd3c5"/><rect x="414" width="2" fill="#efcebd"/><rect x="416" width="2" fill="#f1ccb8"/><rect x="418" width="2" fill="#f2cab5"/><rect x="420" width="2" fill="#f3c7b1"/><rect x="422" width="2" fill="#f5c4ac"/></g><g transform="translate(0 224)"><rect x="362" width="8" fill="#ecd3c5"/><rect x="370" width="10" fill="#ead5c9"/><rect x="380" width="4" fill="#ecd3c5"/><rect x="384" width="2" fill="#edd1c2"/><rect x="386" width="2" fill="#efcebd"/><rect x="388" width="8" fill="#f1ccb8"/><rect x="396" width="4" fill="#efcebd"/><rect x="400" width="2" fill="#edd1c2"/><rect x="402" width="4" fill="#ecd3c5"/><rect x="406" width="4" fill="#ead5c9"/><rect x="410" width="2" fill="#ecd3c5"/><rect x="412" width="2" fill="#edd1c2"/><rect x="414" width="2" fill="#efcebd"/><rect x="416" width="2" fill="#f1ccb8"/></g><g transform="translate(0 226)"><rect x="362" width="6" fill="#edd1c2"/><rect x="368" width="4" fill="#ecd3c5"/><rect x="372" width="4" fill="#ead5c9"/><rect x="376" width="4" fill="#e7d7ce"/><rect x="380" width="2" fill="#ead5c9"/><rect x="382" width="2" fill="#ecd3c5"/><rect x="384" width="2" fill="#edd1c2"/><rect x="386" width="2" fill="#efcebd"/><rect x="388" width="4" fill="#f1ccb8"/><rect x="392" width="2" fill="#f2cab5"/><rect x="394" width="4" fill="#f1ccb8"/><rect x="398" width="2" fill="#efcebd"/><rect x="400" width="4" fill="#edd1c2"/><rect x="404" width="6" fill="#ecd3c5"/><rect x="410" width="4" fill="#edd1c2"/></g><g transform="translate(0 228)"><rect x="362" width="6" fill="#efcebd"/><rect x="368" width="4" fill="#edd1c2"/><rect x="372" width="2" fill="#ecd3c5"/><rect x="374" width="2" fill="#ead5c9"/><rect x="376" width="4" fill="#e7d7ce"/><rect x="380" width="2" fill="#ead5c9"/><rect x="382" width="2" fill="#ecd3c5"/><rect x="384" width="2" fill="#edd1c2"/><rect x="386" width="2" fill="#efcebd"/><rect x="388" width="10" fill="#f1ccb8"/><rect x="398" width="2" fill="#efcebd"/><rect x="400" width="12" fill="#edd1c2"/></g><g transform="translate(0 230)"><rect x="362" width="6" fill="#f1ccb8"/><rect x="368" width="4" fill="#efcebd"/><rect x="372" width="2" fill="#edd1c2"/><rect x="374" width="2" fill="#ecd3c5"/><rect x="376" width="4" fill="#e7d7ce"/><rect x="380" width="2" fill="#ead5c9"/><rect x="382" width="2" fill="#ecd3c5"/><rect x="384" width="2" fill="#edd1c2"/><rect x="386" width="2" fill="#efcebd"/><rect x="388" width="10" fill="#f1ccb8"/><rect x="398" width="2" fill="#efcebd"/><rect x="400" width="10" fill="#edd1c2"/></g><g transform="translate(0 232)"><rect x="362" width="4" fill="#f2cab5"/><rect x="366" width="4" fill="#f1ccb8"/><rect x="370" width="4" fill="#efcebd"/><rect x="374" width="2" fill="#edd1c2"/><rect x="376" width="4" fill="#ecd3c5"/><rect x="380" width="4" fill="#edd1c2"/><rect x="384" width="4" fill="#efcebd"/><rect x="388" width="8" fill="#f1ccb8"/><rect x="396" width="8" fill="#efcebd"/><rect x="404" width="2" fill="#edd1c2"/></g><g transform="translate(0 234)"><rect x="364" width="2" fill="#f3c7b1"/><rect x="366" width="4" fill="#f2cab5"/><rect x="370" width="26" fill="#f1ccb8"/><rect x="396" width="10" fill="#efcebd"/></g><g transform="translate(0 236)"><rect x="366" width="18" fill="#f3c7b1"/><rect x="384" width="2" fill="#f2cab5"/><rect x="386" width="12" fill="#f1ccb8"/><rect x="398" width="4" fill="#efcebd"/></g><g transform="translate(0 238)"><rect x="354" width="2" fill="#f6bea4"/><rect x="366" width="4" fill="#f5c4ac"/><rect x="370" width="2" fill="#f3c7b1"/><rect x="372" width="4" fill="#f5c4ac"/><rect x="376" width="6" fill="#f5c1a9"/><rect x="382" width="2" fill="#f5c4ac"/><rect x="384" width="2" fill="#f3c7b1"/><rect x="386" width="4" fill="#f2cab5"/><rect x="390" width="4" fill="#f1ccb8"/></g><g transform="translate(0 240)"><rect x="352" width="4" fill="#f6bea4"/><rect x="356" width="2" fill="#f7ba9f"/><rect x="366" width="2" fill="#f6bea4"/><rect x="368" width="2" fill="#f5c1a9"/><rect x="370" width="2" fill="#f5c4ac"/><rect x="372" width="2" fill="#f3c7b1"/><rect x="374" width="2" fill="#f5c4ac"/><rect x="376" width="2" fill="#f5c1a9"/><rect x="378" width="4" fill="#f6bea4"/><rect x="382" width="2" fill="#f5c1a9"/><rect x="384" width="2" fill="#f5c4ac"/><rect x="386" width="2" fill="#f3c7b1"/><rect x="388" width="2" fill="#f2cab5"/></g><g transform="translate(0 242)"><rect x="350" width="2" fill="#f5c4ac"/><rect x="352" width="2" fill="#f6bea4"/><rect x="354" width="14" fill="#f7ba9f"/><rect x="368" width="2" fill="#f6bea4"/><rect x="370" width="2" fill="#f5c1a9"/><rect x="372" width="2" fill="#f3c7b1"/><rect x="374" width="2" fill="#f5c4ac"/><rect x="376" width="2" fill="#f5c1a9"/><rect x="378" width="4" fill="#f6bea4"/><rect x="382" width="2" fill="#f5c1a9"/><rect x="384" width="2" fill="#f5c4ac"/><rect x="386" width="2" fill="#f3c7b1"/><rect x="388" width="2" fill="#f2cab5"/></g><g transform="translate(0 244)"><rect x="348" width="2" fill="#f1ccb8"/><rect x="350" width="2" fill="#f3c7b1"/><rect x="352" width="2" fill="#f5c1a9"/><rect x="354" width="8" fill="#f6bea4"/><rect x="362" width="2" fill="#f7ba9f"/><rect x="364" width="2" fill="#f7b89c"/><rect x="366" width="2" fill="#f7b497"/><rect x="368" width="2" fill="#f7b89c"/><rect x="370" width="2" fill="#f7ba9f"/><rect x="372" width="10" fill="#f5c1a9"/><rect x="382" width="4" fill="#f5c4ac"/><rect x="386" width="2" fill="#f3c7b1"/></g><g transform="translate(0 246)"><rect x="348" width="2" fill="#edd1c2"/><rect x="350" width="2" fill="#efcebd"/><rect x="352" width="2" fill="#f2cab5"/><rect x="354" width="6" fill="#f3c7b1"/><rect x="360" width="2" fill="#f5c1a9"/><rect x="362" width="2" fill="#f7ba9f"/><rect x="364" width="2" fill="#f7b497"/><rect x="366" width="4" fill="#f7ad90"/><rect x="370" width="2" fill="#f7b093"/><rect x="372" width="2" fill="#f7b89c"/><rect x="374" width="2" fill="#f6bea4"/><rect x="376" width="4" fill="#f5c1a9"/></g><g transform="translate(0 248)"><rect x="348" width="2" fill="#e7d7ce"/><rect x="350" width="4" fill="#ead5c9"/><rect x="354" width="4" fill="#ecd3c5"/><rect x="358" width="2" fill="#edd1c2"/><rect x="360" width="2" fill="#f2cab5"/><rect x="362" width="2" fill="#f5c1a9"/><rect x="364" width="2" fill="#f7b497"/><rect x="366" width="2" fill="#f6a586"/><rect x="368" width="2" fill="#f6a283"/><rect x="370" width="2" fill="#f7a98b"/><rect x="372" width="2" fill="#f7b497"/><rect x="374" width="2" fill="#f7ba9f"/><rect x="376" width="2" fill="#f5c1a9"/><rect x="378" width="2" fill="#f5c4ac"/></g><g transform="translate(0 250)"><rect x="350" width="8" fill="#dfdbd9"/><rect x="358" width="2" fill="#e2dad5"/><rect x="360" width="2" fill="#ead5c9"/><rect x="362" width="2" fill="#f2cab5"/><rect x="364" width="2" fill="#f7b89c"/><rect x="366" width="2" fill="#f6a283"/><rect x="368" width="2" fill="#f4987a"/><rect x="370" width="2" fill="#f6a586"/><rect x="372" width="2" fill="#f7b497"/><rect x="374" width="2" fill="#f6bea4"/><rect x="376" width="2" fill="#f5c4ac"/><rect x="378" width="2" fill="#f3c7b1"/></g><g transform="translate(0 252)"><rect x="350" width="4" fill="#d5dbe5"/><rect x="354" width="6" fill="#d2dbe8"/><rect x="360" width="2" fill="#dadce0"/><rect x="362" width="2" fill="#ead5c9"/><rect x="364" width="2" fill="#f5c4ac"/><rect x="366" width="2" fill="#f7b093"/><rect x="368" width="2" fill="#f7a98b"/><rect x="370" width="2" fill="#f7b093"/><rect x="372" width="2" fill="#f6bea4"/><rect x="374" width="2" fill="#f3c7b1"/><rect x="376" width="2" fill="#f2cab5"/><rect x="378" width="2" fill="#f1ccb8"/></g><g transform="translate(0 254)"><rect x="350" width="2" fill="#ccd9ed"/><rect x="352" width="4" fill="#c9d7f0"/><rect x="356" width="2" fill="#c5d6f2"/><rect x="358" width="2" fill="#c3d5f4"/><rect x="360" width="2" fill="#c9d7f0"/><rect x="362" width="2" fill="#dddcdc"/><rect x="364" width="2" fill="#edd1c2"/><rect x="366" width="2" fill="#f5c4ac"/><rect x="368" width="2" fill="#f6bea4"/><rect x="370" width="2" fill="#f5c4ac"/><rect x="372" width="2" fill="#f2cab5"/><rect x="374" width="2" fill="#efcebd"/><rect x="376" width="4" fill="#edd1c2"/></g><g transform="translate(0 256)"><rect x="350" width="2" fill="#c5d6f2"/><rect x="352" width="2" fill="#c3d5f4"/><rect x="354" width="6" fill="#bfd3f6"/><rect x="360" width="2" fill="#c3d5f4"/><rect x="362" width="2" fill="#d2dbe8"/><rect x="364" width="2" fill="#e2dad5"/><rect x="366" width="2" fill="#ecd3c5"/><rect x="368" width="2" fill="#efcebd"/><rect x="370" width="2" fill="#edd1c2"/><rect x="372" width="2" fill="#ead5c9"/><rect x="374" width="4" fill="#e7d7ce"/><rect x="378" width="2" fill="#ead5c9"/></g><g transform="translate(0 258)"><rect x="352" width="6" fill="#bbd1f8"/><rect x="358" width="2" fill="#bfd3f6"/><rect x="360" width="2" fill="#c3d5f4"/><rect x="362" width="2" fill="#ccd9ed"/><rect x="364" width="2" fill="#d7dce3"/><rect x="366" width="2" fill="#dfdbd9"/><rect x="368" width="2" fill="#e2dad5"/><rect x="370" width="2" fill="#e5d8d1"/><rect x="372" width="6" fill="#e2dad5"/><rect x="378" width="2" fill="#e5d8d1"/></g><g transform="translate(0 260)"><rect x="352" width="6" fill="#b9d0f9"/><rect x="358" width="2" fill="#bfd3f6"/><rect x="360" width="2" fill="#c3d5f4"/><rect x="362" width="2" fill="#c5d6f2"/><rect x="364" width="2" fill="#c9d7f0"/><rect x="366" width="2" fill="#cedaeb"/><rect x="368" width="2" fill="#d7dce3"/><rect x="370" width="2" fill="#dadce0"/><rect x="372" width="4" fill="#dddcdc"/><rect x="376" width="4" fill="#dfdbd9"/></g><g transform="translate(0 262)"><rect x="352" width="6" fill="#b1cbfc"/><rect x="358" width="2" fill="#b9d0f9"/><rect x="360" width="2" fill="#bbd1f8"/><rect x="362" width="2" fill="#bfd3f6"/><rect x="364" width="2" fill="#c3d5f4"/><rect x="366" width="2" fill="#c5d6f2"/><rect x="368" width="2" fill="#cedaeb"/><rect x="370" width="2" fill="#d5dbe5"/><rect x="372" width="2" fill="#d7dce3"/><rect x="374" width="4" fill="#dadce0"/><rect x="378" width="2" fill="#dddcdc"/></g><g transform="translate(0 264)"><rect x="354" width="4" fill="#aac7fd"/><rect x="358" width="2" fill="#b1cbfc"/><rect x="360" width="2" fill="#bbd1f8"/><rect x="362" width="2" fill="#bfd3f6"/><rect x="364" width="2" fill="#c5d6f2"/><rect x="366" width="2" fill="#ccd9ed"/><rect x="368" width="2" fill="#cedaeb"/><rect x="370" width="2" fill="#d2dbe8"/><rect x="372" width="4" fill="#d5dbe5"/></g><g transform="translate(0 266)"><rect x="354" width="4" fill="#a6c4fe"/><rect x="358" width="2" fill="#b5cdfa"/><rect x="360" width="2" fill="#c3d5f4"/><rect x="362" width="2" fill="#ccd9ed"/><rect x="364" width="2" fill="#d2dbe8"/><rect x="366" width="2" fill="#d5dbe5"/><rect x="368" width="6" fill="#d2dbe8"/></g><g transform="translate(0 268)"><rect x="354" width="2" fill="#b1cbfc"/><rect x="356" width="2" fill="#b5cdfa"/><rect x="358" width="2" fill="#c5d6f2"/><rect x="360" width="2" fill="#d5dbe5"/><rect x="362" width="2" fill="#dadce0"/><rect x="364" width="2" fill="#dfdbd9"/><rect x="366" width="2" fill="#dadce0"/><rect x="368" width="2" fill="#d5dbe5"/><rect x="370" width="2" fill="#d2dbe8"/></g><g transform="translate(0 270)"><rect x="354" width="2" fill="#bfd3f6"/><rect x="356" width="2" fill="#c9d7f0"/><rect x="358" width="2" fill="#d7dce3"/><rect x="360" width="4" fill="#e2dad5"/><rect x="364" width="2" fill="#dfdbd9"/><rect x="366" width="2" fill="#dadce0"/><rect x="368" width="2" fill="#d2dbe8"/></g><g transform="translate(0 272)"><rect x="354" width="2" fill="#c5d6f2"/><rect x="356" width="2" fill="#d5dbe5"/><rect x="358" width="2" fill="#dfdbd9"/><rect x="360" width="2" fill="#e5d8d1"/><rect x="362" width="2" fill="#dddcdc"/><rect x="364" width="2" fill="#d7dce3"/><rect x="366" width="2" fill="#cedaeb"/><rect x="368" width="2" fill="#ccd9ed"/></g><g transform="translate(0 274)"><rect x="356" width="2" fill="#d5dbe5"/><rect x="358" width="2" fill="#dfdbd9"/><rect x="360" width="2" fill="#d7dce3"/><rect x="362" width="2" fill="#ccd9ed"/><rect x="364" width="2" fill="#c5d6f2"/><rect x="366" width="2" fill="#c3d5f4"/></g><g transform="translate(0 276)"><rect x="356" width="4" fill="#c5d6f2"/><rect x="360" width="2" fill="#b9d0f9"/><rect x="362" width="2" fill="#aac7fd"/><rect x="364" width="2" fill="#aec9fc"/><rect x="366" width="2" fill="#b1cbfc"/></g><g transform="translate(0 278)"><rect x="358" width="2" fill="#aac7fd"/><rect x="360" width="2" fill="#94b6ff"/><rect x="362" width="2" fill="#8db0fe"/><rect x="364" width="2" fill="#98b9ff"/></g><g transform="translate(0 280)"><rect x="360" width="2" fill="#8db0fe"/><rect x="362" width="2" fill="#85a8fc"/><rect x="364" width="2" fill="#8db0fe"/></g><g transform="translate(0 282)"><rect x="360" width="2" fill="#89acfd"/></g></g></g><rect x="338.95" y="166.45" width="109.6" height="116.05" fill="none" stroke="#1c1c1c" stroke-width="0.67"/><rect x="456.1" y="164.35" width="5.7" height="120.5" fill="url(#gc)" stroke="#1c1c1c" stroke-width="0.67"/><path d="M461.8 282.906h2.4" stroke="#1c1c1c" stroke-width="0.67"/><path d="M461.8 263.471h2.4" stroke="#1c1c1c" stroke-width="0.67"/><path d="M461.8 244.035h2.4" stroke="#1c1c1c" stroke-width="0.67"/><path d="M461.8 224.6h2.4" stroke="#1c1c1c" stroke-width="0.67"/><path d="M461.8 205.165h2.4" stroke="#1c1c1c" stroke-width="0.67"/><path d="M461.8 185.729h2.4" stroke="#1c1c1c" stroke-width="0.67"/><path d="M461.8 166.294h2.4" stroke="#1c1c1c" stroke-width="0.67"/><g opacity="0.999"><text transform="translate(60.80 13.1) rotate(0.03)" font-size="9.9" text-anchor="middle" fill="#000" font-family="DejaVu Sans, Liberation Sans, sans-serif">GR.U</text><text transform="translate(60.70 145.50) rotate(0.03)" font-size="8.5" text-anchor="middle" fill="#000" font-family="DejaVu Sans, Liberation Sans, sans-serif"><tspan font-style="italic">μ</tspan>=0.254, <tspan font-style="italic">σ</tspan>=0.101</text><text transform="translate(133.30 139.15) rotate(0.03)" font-size="7.8" fill="#000" font-family="DejaVu Sans, Liberation Sans, sans-serif">0.0</text><text transform="translate(133.30 115.01) rotate(0.03)" font-size="7.8" fill="#000" font-family="DejaVu Sans, Liberation Sans, sans-serif">0.2</text><text transform="translate(133.30 90.87) rotate(0.03)" font-size="7.8" fill="#000" font-family="DejaVu Sans, Liberation Sans, sans-serif">0.4</text><text transform="translate(133.30 66.73) rotate(0.03)" font-size="7.8" fill="#000" font-family="DejaVu Sans, Liberation Sans, sans-serif">0.6</text><text transform="translate(133.30 42.59) rotate(0.03)" font-size="7.8" fill="#000" font-family="DejaVu Sans, Liberation Sans, sans-serif">0.8</text><text transform="translate(133.30 18.45) rotate(0.03)" font-size="7.8" fill="#000" font-family="DejaVu Sans, Liberation Sans, sans-serif">1.0</text><text transform="translate(157.2 76.15) rotate(-90)" font-size="10" font-style="italic" text-anchor="middle" fill="#000" font-family="DejaVu Sans, Liberation Sans, sans-serif">h<tspan font-size="7" dy="1.6">p</tspan><tspan dy="-1.6" dx="0.7">/c</tspan><tspan font-size="7" dy="1.6">p</tspan></text><text transform="translate(227.43 13.1) rotate(0.03)" font-size="9.9" text-anchor="middle" fill="#000" font-family="DejaVu Sans, Liberation Sans, sans-serif">ODE.U</text><text transform="translate(227.33 145.50) rotate(0.03)" font-size="8.5" text-anchor="middle" fill="#000" font-family="DejaVu Sans, Liberation Sans, sans-serif"><tspan font-style="italic">μ</tspan>=0.264, <tspan font-style="italic">σ</tspan>=0.112</text><text transform="translate(300.20 139.15) rotate(0.03)" font-size="7.8" fill="#000" font-family="DejaVu Sans, Liberation Sans, sans-serif">0.0</text><text transform="translate(300.20 115.01) rotate(0.03)" font-size="7.8" fill="#000" font-family="DejaVu Sans, Liberation Sans, sans-serif">0.2</text><text transform="translate(300.20 90.87) rotate(0.03)" font-size="7.8" fill="#000" font-family="DejaVu Sans, Liberation Sans, sans-serif">0.4</text><text transform="translate(300.20 66.73) rotate(0.03)" font-size="7.8" fill="#000" font-family="DejaVu Sans, Liberation Sans, sans-serif">0.6</text><text transform="translate(300.20 42.59) rotate(0.03)" font-size="7.8" fill="#000" font-family="DejaVu Sans, Liberation Sans, sans-serif">0.8</text><text transform="translate(300.20 18.45) rotate(0.03)" font-size="7.8" fill="#000" font-family="DejaVu Sans, Liberation Sans, sans-serif">1.0</text><text transform="translate(324.1 76.15) rotate(-90)" font-size="10" font-style="italic" text-anchor="middle" fill="#000" font-family="DejaVu Sans, Liberation Sans, sans-serif">h<tspan font-size="7" dy="1.6">p</tspan><tspan dy="-1.6" dx="0.7">/c</tspan><tspan font-size="7" dy="1.6">p</tspan></text><text transform="translate(393.75 13.1) rotate(0.03)" font-size="9.9" text-anchor="middle" fill="#000" font-family="DejaVu Sans, Liberation Sans, sans-serif">Bias</text><text transform="translate(393.65 145.50) rotate(0.03)" font-size="8.5" text-anchor="middle" fill="#000" font-family="DejaVu Sans, Liberation Sans, sans-serif"><tspan font-style="italic">μ</tspan>=0.01, <tspan font-style="italic">σ</tspan>=0.014</text><text transform="translate(466.50 134.07) rotate(0.03)" font-size="7.8" fill="#000" font-family="DejaVu Sans, Liberation Sans, sans-serif">−0.075</text><text transform="translate(466.50 115.64) rotate(0.03)" font-size="7.8" fill="#000" font-family="DejaVu Sans, Liberation Sans, sans-serif">−0.050</text><text transform="translate(466.50 97.22) rotate(0.03)" font-size="7.8" fill="#000" font-family="DejaVu Sans, Liberation Sans, sans-serif">−0.025</text><text transform="translate(466.50 78.80) rotate(0.03)" font-size="7.8" fill="#000" font-family="DejaVu Sans, Liberation Sans, sans-serif">0.000</text><text transform="translate(466.50 60.38) rotate(0.03)" font-size="7.8" fill="#000" font-family="DejaVu Sans, Liberation Sans, sans-serif">0.025</text><text transform="translate(466.50 41.96) rotate(0.03)" font-size="7.8" fill="#000" font-family="DejaVu Sans, Liberation Sans, sans-serif">0.050</text><text transform="translate(466.50 23.53) rotate(0.03)" font-size="7.8" fill="#000" font-family="DejaVu Sans, Liberation Sans, sans-serif">0.075</text><text transform="translate(60.70 293.80) rotate(0.03)" font-size="8.5" text-anchor="middle" fill="#000" font-family="DejaVu Sans, Liberation Sans, sans-serif"><tspan font-style="italic">μ</tspan>=0.155, <tspan font-style="italic">σ</tspan>=0.021</text><text transform="translate(133.30 287.80) rotate(0.03)" font-size="7.8" fill="#000" font-family="DejaVu Sans, Liberation Sans, sans-serif">0.0</text><text transform="translate(133.30 263.70) rotate(0.03)" font-size="7.8" fill="#000" font-family="DejaVu Sans, Liberation Sans, sans-serif">0.2</text><text transform="translate(133.30 239.60) rotate(0.03)" font-size="7.8" fill="#000" font-family="DejaVu Sans, Liberation Sans, sans-serif">0.4</text><text transform="translate(133.30 215.50) rotate(0.03)" font-size="7.8" fill="#000" font-family="DejaVu Sans, Liberation Sans, sans-serif">0.6</text><text transform="translate(133.30 191.40) rotate(0.03)" font-size="7.8" fill="#000" font-family="DejaVu Sans, Liberation Sans, sans-serif">0.8</text><text transform="translate(133.30 167.30) rotate(0.03)" font-size="7.8" fill="#000" font-family="DejaVu Sans, Liberation Sans, sans-serif">1.0</text><text transform="translate(157.2 224.9) rotate(-90)" font-size="10" font-style="italic" text-anchor="middle" fill="#000" font-family="DejaVu Sans, Liberation Sans, sans-serif">h<tspan font-size="7" dy="1.6">t</tspan><tspan dy="-1.6" dx="0.7">/c</tspan><tspan font-size="7" dy="1.6">t</tspan></text><text transform="translate(227.33 293.80) rotate(0.03)" font-size="8.5" text-anchor="middle" fill="#000" font-family="DejaVu Sans, Liberation Sans, sans-serif"><tspan font-style="italic">μ</tspan>=0.155, <tspan font-style="italic">σ</tspan>=0.021</text><text transform="translate(300.20 287.80) rotate(0.03)" font-size="7.8" fill="#000" font-family="DejaVu Sans, Liberation Sans, sans-serif">0.0</text><text transform="translate(300.20 263.70) rotate(0.03)" font-size="7.8" fill="#000" font-family="DejaVu Sans, Liberation Sans, sans-serif">0.2</text><text transform="translate(300.20 239.60) rotate(0.03)" font-size="7.8" fill="#000" font-family="DejaVu Sans, Liberation Sans, sans-serif">0.4</text><text transform="translate(300.20 215.50) rotate(0.03)" font-size="7.8" fill="#000" font-family="DejaVu Sans, Liberation Sans, sans-serif">0.6</text><text transform="translate(300.20 191.40) rotate(0.03)" font-size="7.8" fill="#000" font-family="DejaVu Sans, Liberation Sans, sans-serif">0.8</text><text transform="translate(300.20 167.30) rotate(0.03)" font-size="7.8" fill="#000" font-family="DejaVu Sans, Liberation Sans, sans-serif">1.0</text><text transform="translate(324.1 224.9) rotate(-90)" font-size="10" font-style="italic" text-anchor="middle" fill="#000" font-family="DejaVu Sans, Liberation Sans, sans-serif">h<tspan font-size="7" dy="1.6">t</tspan><tspan dy="-1.6" dx="0.7">/c</tspan><tspan font-size="7" dy="1.6">t</tspan></text><text transform="translate(393.65 293.80) rotate(0.03)" font-size="8.5" text-anchor="middle" fill="#000" font-family="DejaVu Sans, Liberation Sans, sans-serif"><tspan font-style="italic">μ</tspan>=0.0, <tspan font-style="italic">σ</tspan>=0.001</text><text transform="translate(466.50 285.86) rotate(0.03)" font-size="7.8" fill="#000" font-family="DejaVu Sans, Liberation Sans, sans-serif">−0.006</text><text transform="translate(466.50 266.42) rotate(0.03)" font-size="7.8" fill="#000" font-family="DejaVu Sans, Liberation Sans, sans-serif">−0.004</text><text transform="translate(466.50 246.99) rotate(0.03)" font-size="7.8" fill="#000" font-family="DejaVu Sans, Liberation Sans, sans-serif">−0.002</text><text transform="translate(466.50 227.55) rotate(0.03)" font-size="7.8" fill="#000" font-family="DejaVu Sans, Liberation Sans, sans-serif">0.000</text><text transform="translate(466.50 208.11) rotate(0.03)" font-size="7.8" fill="#000" font-family="DejaVu Sans, Liberation Sans, sans-serif">0.002</text><text transform="translate(466.50 188.68) rotate(0.03)" font-size="7.8" fill="#000" font-family="DejaVu Sans, Liberation Sans, sans-serif">0.004</text><text transform="translate(466.50 169.24) rotate(0.03)" font-size="7.8" fill="#000" font-family="DejaVu Sans, Liberation Sans, sans-serif">0.006</text></g></svg></body></html>
